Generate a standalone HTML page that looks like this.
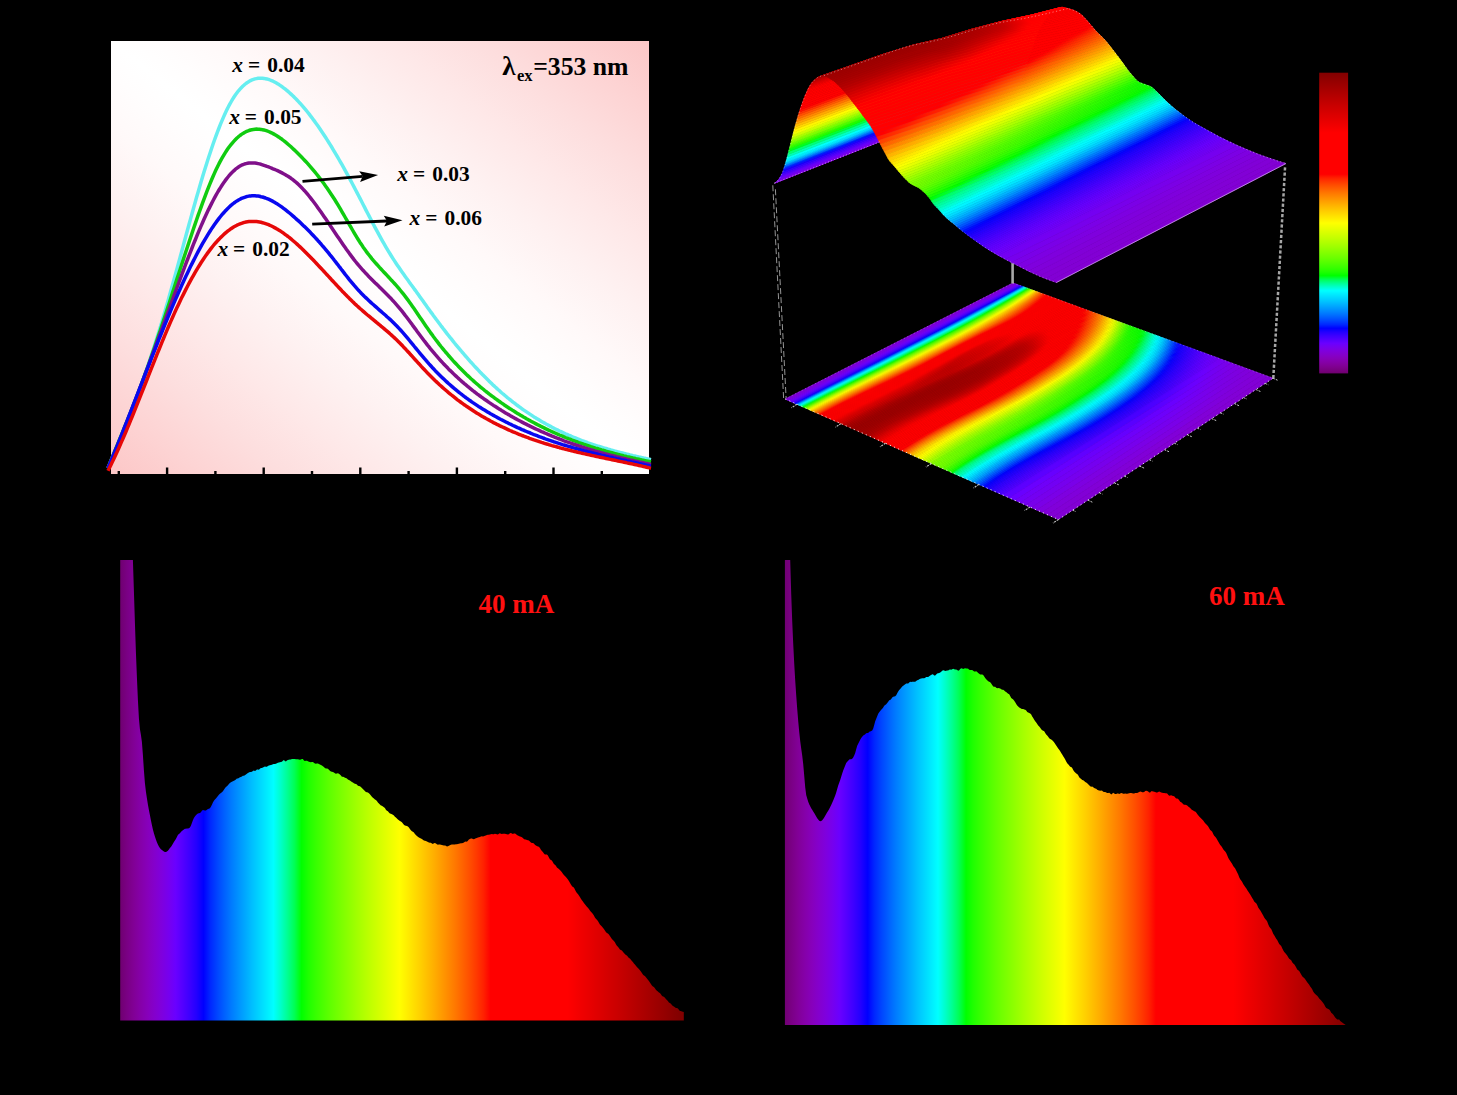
<!DOCTYPE html><html><head><meta charset="utf-8"><title>figure</title>
<style>html,body{margin:0;padding:0;background:#000;}svg{display:block;}text{font-family:"Liberation Serif",serif;}</style></head><body>
<svg width="1457" height="1095" viewBox="0 0 1457 1095">
<rect x="0" y="0" width="1457" height="1095" fill="#000"/>
<defs>
<linearGradient id="ga" gradientUnits="userSpaceOnUse" x1="168.5" y1="520.3" x2="591.5" y2="-5.3">
<stop offset="0" stop-color="#fcc7c7"/>
<stop offset="0.08" stop-color="#fdd3d3"/>
<stop offset="0.16" stop-color="#fddede"/>
<stop offset="0.24" stop-color="#fee8e8"/>
<stop offset="0.32" stop-color="#fef1f1"/>
<stop offset="0.4" stop-color="#fff9f9"/>
<stop offset="0.46" stop-color="#fffdfd"/>
<stop offset="0.5" stop-color="#ffffff"/>
<stop offset="0.54" stop-color="#fffdfd"/>
<stop offset="0.6" stop-color="#fff9f9"/>
<stop offset="0.68" stop-color="#fef1f1"/>
<stop offset="0.76" stop-color="#fee8e8"/>
<stop offset="0.84" stop-color="#fddede"/>
<stop offset="0.92" stop-color="#fdd3d3"/>
<stop offset="1.0" stop-color="#fcc7c7"/>
</linearGradient>
</defs>
<rect x="111" y="41" width="538" height="433" fill="url(#ga)"/>
<polyline points="108.0,468.1 109.5,464.3 111.0,460.6 112.5,456.9 114.0,453.2 115.5,449.6 117.0,445.9 118.5,442.3 120.0,438.6 121.5,435.0 123.0,431.3 124.5,427.6 126.0,424.0 127.5,420.3 129.0,416.5 130.5,412.8 132.0,409.0 133.5,405.2 135.0,401.3 136.5,397.4 138.0,393.4 139.5,389.4 141.0,385.3 142.5,381.1 144.0,376.9 145.5,372.6 147.0,368.3 148.5,363.9 150.0,359.4 151.5,354.9 153.0,350.3 154.5,345.6 156.0,340.9 157.5,336.1 159.0,331.3 160.5,326.4 162.0,321.4 163.5,316.4 165.0,311.3 166.5,306.1 168.0,300.9 169.5,295.6 171.0,290.3 172.5,285.0 174.0,279.5 175.5,274.1 177.0,268.6 178.5,263.1 180.0,257.6 181.5,252.1 183.0,246.6 184.5,241.0 186.0,235.5 187.5,230.0 189.0,224.5 190.5,219.1 192.0,213.6 193.5,208.2 195.0,202.9 196.5,197.6 198.0,192.4 199.5,187.2 201.0,182.1 202.5,177.0 204.0,172.1 205.5,167.2 207.0,162.4 208.5,157.8 210.0,153.2 211.5,148.7 213.0,144.3 214.5,140.0 216.0,135.9 217.5,131.9 219.0,128.0 220.5,124.2 222.0,120.6 223.5,117.1 225.0,113.7 226.5,110.6 228.0,107.5 229.5,104.7 231.0,102.0 232.5,99.4 234.0,97.0 235.5,94.8 237.0,92.8 238.5,90.8 240.0,89.1 241.5,87.5 243.0,86.0 244.5,84.7 246.0,83.5 247.5,82.4 249.0,81.5 250.5,80.6 252.0,79.9 253.5,79.4 255.0,78.9 256.5,78.6 258.0,78.3 259.5,78.2 261.0,78.2 262.5,78.2 264.0,78.4 265.5,78.7 267.0,79.0 268.5,79.4 270.0,80.0 271.5,80.6 273.0,81.2 274.5,82.0 276.0,82.8 277.5,83.7 279.0,84.6 280.5,85.6 282.0,86.7 283.5,87.8 285.0,88.9 286.5,90.1 288.0,91.4 289.5,92.7 291.0,94.1 292.5,95.5 294.0,96.9 295.5,98.4 297.0,100.0 298.5,101.6 300.0,103.2 301.5,104.9 303.0,106.6 304.5,108.4 306.0,110.2 307.5,112.0 309.0,113.9 310.5,115.9 312.0,117.8 313.5,119.9 315.0,121.9 316.5,124.0 318.0,126.1 319.5,128.3 321.0,130.5 322.5,132.7 324.0,135.0 325.5,137.3 327.0,139.6 328.5,142.0 330.0,144.4 331.5,146.8 333.0,149.3 334.5,151.8 336.0,154.3 337.5,156.9 339.0,159.5 340.5,162.1 342.0,164.7 343.5,167.4 345.0,170.1 346.5,172.8 348.0,175.6 349.5,178.4 351.0,181.2 352.5,184.0 354.0,186.8 355.5,189.7 357.0,192.6 358.5,195.5 360.0,198.4 361.5,201.3 363.0,204.2 364.5,207.1 366.0,210.1 367.5,213.0 369.0,215.9 370.5,218.8 372.0,221.6 373.5,224.5 375.0,227.3 376.5,230.1 378.0,232.9 379.5,235.7 381.0,238.4 382.5,241.1 384.0,243.7 385.5,246.3 387.0,248.9 388.5,251.4 390.0,253.8 391.5,256.2 393.0,258.6 394.5,260.9 396.0,263.2 397.5,265.4 399.0,267.6 400.5,269.8 402.0,271.9 403.5,274.1 405.0,276.2 406.5,278.3 408.0,280.3 409.5,282.4 411.0,284.5 412.5,286.5 414.0,288.6 415.5,290.6 417.0,292.7 418.5,294.8 420.0,296.9 421.5,299.0 423.0,301.1 424.5,303.2 426.0,305.3 427.5,307.4 429.0,309.5 430.5,311.6 432.0,313.6 433.5,315.7 435.0,317.7 436.5,319.8 438.0,321.8 439.5,323.8 441.0,325.8 442.5,327.7 444.0,329.7 445.5,331.6 447.0,333.6 448.5,335.5 450.0,337.4 451.5,339.2 453.0,341.1 454.5,343.0 456.0,344.8 457.5,346.6 459.0,348.4 460.5,350.2 462.0,352.0 463.5,353.7 465.0,355.5 466.5,357.2 468.0,358.9 469.5,360.6 471.0,362.3 472.5,363.9 474.0,365.6 475.5,367.2 477.0,368.8 478.5,370.4 480.0,372.0 481.5,373.5 483.0,375.1 484.5,376.6 486.0,378.1 487.5,379.6 489.0,381.1 490.5,382.5 492.0,383.9 493.5,385.4 495.0,386.8 496.5,388.1 498.0,389.5 499.5,390.8 501.0,392.2 502.5,393.5 504.0,394.7 505.5,396.0 507.0,397.3 508.5,398.5 510.0,399.7 511.5,400.9 513.0,402.1 514.5,403.2 516.0,404.4 517.5,405.5 519.0,406.6 520.5,407.7 522.0,408.8 523.5,409.9 525.0,410.9 526.5,411.9 528.0,412.9 529.5,413.9 531.0,414.9 532.5,415.9 534.0,416.9 535.5,417.8 537.0,418.7 538.5,419.6 540.0,420.5 541.5,421.4 543.0,422.3 544.5,423.1 546.0,424.0 547.5,424.8 549.0,425.6 550.5,426.4 552.0,427.2 553.5,428.0 555.0,428.8 556.5,429.5 558.0,430.2 559.5,431.0 561.0,431.7 562.5,432.4 564.0,433.1 565.5,433.8 567.0,434.4 568.5,435.1 570.0,435.7 571.5,436.4 573.0,437.0 574.5,437.6 576.0,438.2 577.5,438.8 579.0,439.4 580.5,440.0 582.0,440.6 583.5,441.1 585.0,441.7 586.5,442.2 588.0,442.8 589.5,443.3 591.0,443.8 592.5,444.3 594.0,444.8 595.5,445.3 597.0,445.8 598.5,446.3 600.0,446.7 601.5,447.2 603.0,447.7 604.5,448.1 606.0,448.5 607.5,449.0 609.0,449.4 610.5,449.8 612.0,450.3 613.5,450.7 615.0,451.1 616.5,451.5 618.0,451.9 619.5,452.3 621.0,452.6 622.5,453.0 624.0,453.4 625.5,453.8 627.0,454.1 628.5,454.5 630.0,454.9 631.5,455.2 633.0,455.6 634.5,455.9 636.0,456.3 637.5,456.6 639.0,457.0 640.5,457.3 642.0,457.6 643.5,458.0 645.0,458.3 646.5,458.6 648.0,459.0 649.5,459.3 651.0,459.6" fill="none" stroke="#66eef0" stroke-width="3.5" stroke-linejoin="round" stroke-linecap="butt"/>
<polyline points="108.0,468.2 109.5,464.4 111.0,460.6 112.5,456.9 114.0,453.2 115.5,449.5 117.0,445.8 118.5,442.1 120.0,438.4 121.5,434.8 123.0,431.1 124.5,427.4 126.0,423.8 127.5,420.1 129.0,416.3 130.5,412.6 132.0,408.8 133.5,405.0 135.0,401.2 136.5,397.3 138.0,393.4 139.5,389.5 141.0,385.5 142.5,381.4 144.0,377.3 145.5,373.2 147.0,369.0 148.5,364.8 150.0,360.5 151.5,356.2 153.0,351.9 154.5,347.5 156.0,343.1 157.5,338.6 159.0,334.1 160.5,329.7 162.0,325.1 163.5,320.6 165.0,316.0 166.5,311.4 168.0,306.8 169.5,302.2 171.0,297.6 172.5,292.9 174.0,288.3 175.5,283.6 177.0,278.9 178.5,274.3 180.0,269.7 181.5,265.0 183.0,260.4 184.5,255.8 186.0,251.2 187.5,246.7 189.0,242.2 190.5,237.7 192.0,233.2 193.5,228.8 195.0,224.4 196.5,220.0 198.0,215.7 199.5,211.5 201.0,207.3 202.5,203.1 204.0,199.1 205.5,195.1 207.0,191.2 208.5,187.3 210.0,183.6 211.5,180.0 213.0,176.5 214.5,173.1 216.0,169.8 217.5,166.7 219.0,163.7 220.5,160.9 222.0,158.2 223.5,155.6 225.0,153.1 226.5,150.8 228.0,148.6 229.5,146.5 231.0,144.6 232.5,142.8 234.0,141.1 235.5,139.5 237.0,138.0 238.5,136.7 240.0,135.5 241.5,134.4 243.0,133.4 244.5,132.5 246.0,131.7 247.5,131.1 249.0,130.5 250.5,130.0 252.0,129.7 253.5,129.4 255.0,129.2 256.5,129.1 258.0,129.2 259.5,129.2 261.0,129.4 262.5,129.7 264.0,130.0 265.5,130.4 267.0,130.9 268.5,131.5 270.0,132.1 271.5,132.8 273.0,133.6 274.5,134.4 276.0,135.3 277.5,136.2 279.0,137.2 280.5,138.3 282.0,139.3 283.5,140.5 285.0,141.7 286.5,142.9 288.0,144.2 289.5,145.5 291.0,146.8 292.5,148.2 294.0,149.6 295.5,151.0 297.0,152.5 298.5,154.0 300.0,155.5 301.5,157.0 303.0,158.6 304.5,160.2 306.0,161.8 307.5,163.4 309.0,165.1 310.5,166.8 312.0,168.6 313.5,170.4 315.0,172.2 316.5,174.0 318.0,175.9 319.5,177.8 321.0,179.8 322.5,181.8 324.0,183.8 325.5,185.9 327.0,188.0 328.5,190.2 330.0,192.4 331.5,194.7 333.0,197.0 334.5,199.3 336.0,201.7 337.5,204.2 339.0,206.7 340.5,209.2 342.0,211.8 343.5,214.4 345.0,217.0 346.5,219.6 348.0,222.2 349.5,224.8 351.0,227.4 352.5,230.0 354.0,232.6 355.5,235.1 357.0,237.6 358.5,240.0 360.0,242.4 361.5,244.6 363.0,246.9 364.5,249.0 366.0,251.1 367.5,253.1 369.0,255.0 370.5,256.9 372.0,258.8 373.5,260.6 375.0,262.3 376.5,264.0 378.0,265.7 379.5,267.4 381.0,269.0 382.5,270.6 384.0,272.2 385.5,273.8 387.0,275.4 388.5,277.0 390.0,278.6 391.5,280.3 393.0,281.9 394.5,283.5 396.0,285.2 397.5,286.9 399.0,288.7 400.5,290.5 402.0,292.3 403.5,294.2 405.0,296.1 406.5,298.1 408.0,300.1 409.5,302.2 411.0,304.3 412.5,306.5 414.0,308.6 415.5,310.8 417.0,313.0 418.5,315.2 420.0,317.4 421.5,319.6 423.0,321.8 424.5,324.0 426.0,326.2 427.5,328.3 429.0,330.5 430.5,332.6 432.0,334.6 433.5,336.7 435.0,338.7 436.5,340.7 438.0,342.6 439.5,344.6 441.0,346.5 442.5,348.3 444.0,350.2 445.5,352.0 447.0,353.7 448.5,355.5 450.0,357.2 451.5,358.9 453.0,360.6 454.5,362.2 456.0,363.8 457.5,365.4 459.0,367.0 460.5,368.5 462.0,370.0 463.5,371.5 465.0,373.0 466.5,374.5 468.0,375.9 469.5,377.3 471.0,378.7 472.5,380.0 474.0,381.4 475.5,382.7 477.0,384.0 478.5,385.3 480.0,386.6 481.5,387.8 483.0,389.0 484.5,390.3 486.0,391.5 487.5,392.6 489.0,393.8 490.5,395.0 492.0,396.1 493.5,397.2 495.0,398.3 496.5,399.4 498.0,400.5 499.5,401.5 501.0,402.6 502.5,403.6 504.0,404.7 505.5,405.7 507.0,406.7 508.5,407.7 510.0,408.7 511.5,409.6 513.0,410.6 514.5,411.5 516.0,412.5 517.5,413.4 519.0,414.3 520.5,415.2 522.0,416.1 523.5,417.0 525.0,417.8 526.5,418.7 528.0,419.5 529.5,420.4 531.0,421.2 532.5,422.0 534.0,422.8 535.5,423.6 537.0,424.4 538.5,425.2 540.0,425.9 541.5,426.7 543.0,427.4 544.5,428.1 546.0,428.9 547.5,429.6 549.0,430.3 550.5,431.0 552.0,431.7 553.5,432.3 555.0,433.0 556.5,433.7 558.0,434.3 559.5,435.0 561.0,435.6 562.5,436.2 564.0,436.8 565.5,437.5 567.0,438.1 568.5,438.7 570.0,439.2 571.5,439.8 573.0,440.4 574.5,440.9 576.0,441.5 577.5,442.0 579.0,442.6 580.5,443.1 582.0,443.6 583.5,444.2 585.0,444.7 586.5,445.2 588.0,445.7 589.5,446.2 591.0,446.7 592.5,447.1 594.0,447.6 595.5,448.1 597.0,448.5 598.5,449.0 600.0,449.4 601.5,449.9 603.0,450.3 604.5,450.7 606.0,451.2 607.5,451.6 609.0,452.0 610.5,452.4 612.0,452.8 613.5,453.2 615.0,453.6 616.5,454.0 618.0,454.4 619.5,454.8 621.0,455.1 622.5,455.5 624.0,455.9 625.5,456.2 627.0,456.6 628.5,456.9 630.0,457.3 631.5,457.6 633.0,458.0 634.5,458.3 636.0,458.7 637.5,459.0 639.0,459.3 640.5,459.6 642.0,460.0 643.5,460.3 645.0,460.6 646.5,460.9 648.0,461.2 649.5,461.5 651.0,461.8" fill="none" stroke="#10cc10" stroke-width="3.5" stroke-linejoin="round" stroke-linecap="butt"/>
<polyline points="108.0,467.8 109.5,464.4 111.0,460.9 112.5,457.4 114.0,453.8 115.5,450.2 117.0,446.6 118.5,443.0 120.0,439.3 121.5,435.6 123.0,431.9 124.5,428.1 126.0,424.4 127.5,420.6 129.0,416.7 130.5,412.9 132.0,409.0 133.5,405.1 135.0,401.2 136.5,397.3 138.0,393.3 139.5,389.4 141.0,385.4 142.5,381.4 144.0,377.4 145.5,373.3 147.0,369.3 148.5,365.3 150.0,361.2 151.5,357.1 153.0,353.1 154.5,349.0 156.0,344.9 157.5,340.8 159.0,336.7 160.5,332.6 162.0,328.5 163.5,324.4 165.0,320.3 166.5,316.2 168.0,312.1 169.5,308.0 171.0,303.9 172.5,299.8 174.0,295.7 175.5,291.6 177.0,287.5 178.5,283.5 180.0,279.4 181.5,275.4 183.0,271.4 184.5,267.4 186.0,263.4 187.5,259.5 189.0,255.6 190.5,251.8 192.0,248.0 193.5,244.2 195.0,240.5 196.5,236.8 198.0,233.2 199.5,229.6 201.0,226.1 202.5,222.7 204.0,219.3 205.5,216.0 207.0,212.8 208.5,209.6 210.0,206.6 211.5,203.6 213.0,200.7 214.5,197.9 216.0,195.1 217.5,192.5 219.0,190.0 220.5,187.6 222.0,185.2 223.5,183.0 225.0,180.9 226.5,178.9 228.0,177.0 229.5,175.2 231.0,173.5 232.5,172.0 234.0,170.6 235.5,169.2 237.0,168.1 238.5,167.0 240.0,166.1 241.5,165.2 243.0,164.6 244.5,164.0 246.0,163.6 247.5,163.3 249.0,163.0 250.5,162.9 252.0,162.9 253.5,163.0 255.0,163.1 256.5,163.3 258.0,163.6 259.5,163.9 261.0,164.3 262.5,164.8 264.0,165.3 265.5,165.8 267.0,166.4 268.5,166.9 270.0,167.5 271.5,168.1 273.0,168.8 274.5,169.4 276.0,170.0 277.5,170.7 279.0,171.4 280.5,172.1 282.0,172.9 283.5,173.7 285.0,174.5 286.5,175.4 288.0,176.3 289.5,177.3 291.0,178.3 292.5,179.4 294.0,180.6 295.5,181.8 297.0,183.1 298.5,184.5 300.0,186.0 301.5,187.5 303.0,189.1 304.5,190.7 306.0,192.4 307.5,194.2 309.0,196.0 310.5,197.9 312.0,199.8 313.5,201.8 315.0,203.8 316.5,205.8 318.0,207.9 319.5,210.0 321.0,212.1 322.5,214.2 324.0,216.4 325.5,218.6 327.0,220.8 328.5,223.0 330.0,225.2 331.5,227.5 333.0,229.7 334.5,231.9 336.0,234.2 337.5,236.4 339.0,238.6 340.5,240.8 342.0,243.0 343.5,245.2 345.0,247.3 346.5,249.5 348.0,251.5 349.5,253.6 351.0,255.6 352.5,257.6 354.0,259.6 355.5,261.5 357.0,263.3 358.5,265.2 360.0,266.9 361.5,268.6 363.0,270.3 364.5,271.9 366.0,273.6 367.5,275.1 369.0,276.7 370.5,278.2 372.0,279.7 373.5,281.2 375.0,282.7 376.5,284.1 378.0,285.6 379.5,287.1 381.0,288.5 382.5,290.0 384.0,291.5 385.5,293.0 387.0,294.5 388.5,296.0 390.0,297.6 391.5,299.1 393.0,300.8 394.5,302.4 396.0,304.1 397.5,305.8 399.0,307.6 400.5,309.4 402.0,311.2 403.5,313.1 405.0,315.1 406.5,317.0 408.0,319.0 409.5,321.0 411.0,323.0 412.5,325.1 414.0,327.1 415.5,329.1 417.0,331.2 418.5,333.2 420.0,335.2 421.5,337.2 423.0,339.2 424.5,341.2 426.0,343.1 427.5,345.1 429.0,346.9 430.5,348.8 432.0,350.6 433.5,352.4 435.0,354.2 436.5,355.9 438.0,357.6 439.5,359.3 441.0,361.0 442.5,362.6 444.0,364.2 445.5,365.8 447.0,367.3 448.5,368.9 450.0,370.4 451.5,371.8 453.0,373.3 454.5,374.7 456.0,376.1 457.5,377.5 459.0,378.9 460.5,380.2 462.0,381.6 463.5,382.9 465.0,384.2 466.5,385.4 468.0,386.7 469.5,387.9 471.0,389.1 472.5,390.3 474.0,391.5 475.5,392.6 477.0,393.8 478.5,394.9 480.0,396.0 481.5,397.1 483.0,398.2 484.5,399.3 486.0,400.3 487.5,401.3 489.0,402.4 490.5,403.4 492.0,404.4 493.5,405.4 495.0,406.3 496.5,407.3 498.0,408.3 499.5,409.2 501.0,410.1 502.5,411.1 504.0,412.0 505.5,412.9 507.0,413.8 508.5,414.6 510.0,415.5 511.5,416.4 513.0,417.2 514.5,418.1 516.0,418.9 517.5,419.7 519.0,420.5 520.5,421.3 522.0,422.1 523.5,422.9 525.0,423.7 526.5,424.4 528.0,425.2 529.5,425.9 531.0,426.7 532.5,427.4 534.0,428.1 535.5,428.8 537.0,429.5 538.5,430.2 540.0,430.9 541.5,431.6 543.0,432.2 544.5,432.9 546.0,433.5 547.5,434.2 549.0,434.8 550.5,435.4 552.0,436.1 553.5,436.7 555.0,437.3 556.5,437.9 558.0,438.5 559.5,439.0 561.0,439.6 562.5,440.2 564.0,440.8 565.5,441.3 567.0,441.9 568.5,442.4 570.0,442.9 571.5,443.5 573.0,444.0 574.5,444.5 576.0,445.0 577.5,445.5 579.0,446.0 580.5,446.5 582.0,447.0 583.5,447.4 585.0,447.9 586.5,448.4 588.0,448.8 589.5,449.3 591.0,449.8 592.5,450.2 594.0,450.6 595.5,451.1 597.0,451.5 598.5,451.9 600.0,452.3 601.5,452.8 603.0,453.2 604.5,453.6 606.0,454.0 607.5,454.4 609.0,454.8 610.5,455.2 612.0,455.5 613.5,455.9 615.0,456.3 616.5,456.7 618.0,457.0 619.5,457.4 621.0,457.8 622.5,458.1 624.0,458.5 625.5,458.8 627.0,459.2 628.5,459.5 630.0,459.9 631.5,460.2 633.0,460.5 634.5,460.9 636.0,461.2 637.5,461.5 639.0,461.9 640.5,462.2 642.0,462.5 643.5,462.8 645.0,463.2 646.5,463.5 648.0,463.8 649.5,464.1 651.0,464.4" fill="none" stroke="#80108a" stroke-width="3.5" stroke-linejoin="round" stroke-linecap="butt"/>
<polyline points="108.0,468.2 109.5,464.6 111.0,461.0 112.5,457.4 114.0,453.7 115.5,450.0 117.0,446.3 118.5,442.6 120.0,438.8 121.5,435.1 123.0,431.3 124.5,427.5 126.0,423.7 127.5,419.8 129.0,416.0 130.5,412.2 132.0,408.3 133.5,404.5 135.0,400.6 136.5,396.7 138.0,392.9 139.5,389.0 141.0,385.1 142.5,381.3 144.0,377.4 145.5,373.5 147.0,369.7 148.5,365.8 150.0,362.0 151.5,358.2 153.0,354.4 154.5,350.6 156.0,346.8 157.5,343.0 159.0,339.2 160.5,335.5 162.0,331.8 163.5,328.1 165.0,324.4 166.5,320.8 168.0,317.1 169.5,313.5 171.0,309.9 172.5,306.4 174.0,302.9 175.5,299.4 177.0,296.0 178.5,292.5 180.0,289.2 181.5,285.8 183.0,282.5 184.5,279.3 186.0,276.0 187.5,272.9 189.0,269.7 190.5,266.6 192.0,263.6 193.5,260.6 195.0,257.7 196.5,254.8 198.0,251.9 199.5,249.1 201.0,246.4 202.5,243.7 204.0,241.1 205.5,238.6 207.0,236.1 208.5,233.6 210.0,231.2 211.5,228.9 213.0,226.7 214.5,224.5 216.0,222.4 217.5,220.4 219.0,218.4 220.5,216.5 222.0,214.7 223.5,213.0 225.0,211.3 226.5,209.7 228.0,208.2 229.5,206.8 231.0,205.4 232.5,204.2 234.0,203.0 235.5,201.9 237.0,200.9 238.5,200.0 240.0,199.2 241.5,198.4 243.0,197.8 244.5,197.3 246.0,196.8 247.5,196.4 249.0,196.1 250.5,195.9 252.0,195.8 253.5,195.8 255.0,195.8 256.5,195.9 258.0,196.1 259.5,196.3 261.0,196.7 262.5,197.0 264.0,197.5 265.5,198.0 267.0,198.6 268.5,199.2 270.0,199.9 271.5,200.6 273.0,201.4 274.5,202.3 276.0,203.2 277.5,204.1 279.0,205.1 280.5,206.1 282.0,207.2 283.5,208.3 285.0,209.4 286.5,210.6 288.0,211.8 289.5,213.0 291.0,214.3 292.5,215.6 294.0,216.9 295.5,218.2 297.0,219.6 298.5,220.9 300.0,222.3 301.5,223.7 303.0,225.2 304.5,226.6 306.0,228.1 307.5,229.6 309.0,231.1 310.5,232.6 312.0,234.2 313.5,235.8 315.0,237.4 316.5,239.0 318.0,240.7 319.5,242.3 321.0,244.0 322.5,245.8 324.0,247.5 325.5,249.3 327.0,251.1 328.5,252.9 330.0,254.8 331.5,256.6 333.0,258.5 334.5,260.5 336.0,262.4 337.5,264.3 339.0,266.3 340.5,268.2 342.0,270.2 343.5,272.1 345.0,274.1 346.5,276.0 348.0,277.9 349.5,279.8 351.0,281.6 352.5,283.4 354.0,285.2 355.5,286.9 357.0,288.6 358.5,290.3 360.0,291.9 361.5,293.5 363.0,295.0 364.5,296.5 366.0,297.9 367.5,299.3 369.0,300.7 370.5,302.1 372.0,303.5 373.5,304.8 375.0,306.1 376.5,307.4 378.0,308.7 379.5,310.1 381.0,311.4 382.5,312.7 384.0,314.0 385.5,315.3 387.0,316.7 388.5,318.0 390.0,319.4 391.5,320.8 393.0,322.3 394.5,323.8 396.0,325.3 397.5,326.8 399.0,328.4 400.5,330.0 402.0,331.7 403.5,333.4 405.0,335.1 406.5,336.9 408.0,338.7 409.5,340.5 411.0,342.3 412.5,344.1 414.0,346.0 415.5,347.8 417.0,349.7 418.5,351.5 420.0,353.3 421.5,355.1 423.0,356.9 424.5,358.7 426.0,360.4 427.5,362.2 429.0,363.9 430.5,365.5 432.0,367.2 433.5,368.8 435.0,370.4 436.5,371.9 438.0,373.4 439.5,374.9 441.0,376.4 442.5,377.9 444.0,379.3 445.5,380.7 447.0,382.1 448.5,383.5 450.0,384.8 451.5,386.1 453.0,387.4 454.5,388.7 456.0,389.9 457.5,391.1 459.0,392.3 460.5,393.5 462.0,394.7 463.5,395.8 465.0,397.0 466.5,398.1 468.0,399.2 469.5,400.3 471.0,401.3 472.5,402.4 474.0,403.4 475.5,404.4 477.0,405.4 478.5,406.4 480.0,407.3 481.5,408.3 483.0,409.2 484.5,410.1 486.0,411.0 487.5,411.9 489.0,412.8 490.5,413.7 492.0,414.5 493.5,415.4 495.0,416.2 496.5,417.0 498.0,417.9 499.5,418.7 501.0,419.5 502.5,420.2 504.0,421.0 505.5,421.8 507.0,422.5 508.5,423.3 510.0,424.0 511.5,424.7 513.0,425.5 514.5,426.2 516.0,426.9 517.5,427.6 519.0,428.2 520.5,428.9 522.0,429.6 523.5,430.2 525.0,430.9 526.5,431.5 528.0,432.1 529.5,432.7 531.0,433.4 532.5,434.0 534.0,434.6 535.5,435.1 537.0,435.7 538.5,436.3 540.0,436.9 541.5,437.4 543.0,438.0 544.5,438.5 546.0,439.1 547.5,439.6 549.0,440.1 550.5,440.6 552.0,441.1 553.5,441.7 555.0,442.1 556.5,442.6 558.0,443.1 559.5,443.6 561.0,444.1 562.5,444.6 564.0,445.0 565.5,445.5 567.0,445.9 568.5,446.4 570.0,446.8 571.5,447.2 573.0,447.7 574.5,448.1 576.0,448.5 577.5,448.9 579.0,449.4 580.5,449.8 582.0,450.2 583.5,450.6 585.0,451.0 586.5,451.4 588.0,451.8 589.5,452.1 591.0,452.5 592.5,452.9 594.0,453.3 595.5,453.6 597.0,454.0 598.5,454.4 600.0,454.7 601.5,455.1 603.0,455.4 604.5,455.8 606.0,456.2 607.5,456.5 609.0,456.9 610.5,457.2 612.0,457.5 613.5,457.9 615.0,458.2 616.5,458.6 618.0,458.9 619.5,459.2 621.0,459.6 622.5,459.9 624.0,460.2 625.5,460.5 627.0,460.9 628.5,461.2 630.0,461.5 631.5,461.9 633.0,462.2 634.5,462.5 636.0,462.8 637.5,463.1 639.0,463.5 640.5,463.8 642.0,464.1 643.5,464.4 645.0,464.8 646.5,465.1 648.0,465.4 649.5,465.8 651.0,466.1" fill="none" stroke="#0808f0" stroke-width="3.5" stroke-linejoin="round" stroke-linecap="butt"/>
<polyline points="108.0,470.7 109.5,467.7 111.0,464.7 112.5,461.6 114.0,458.5 115.5,455.3 117.0,452.0 118.5,448.7 120.0,445.3 121.5,441.9 123.0,438.5 124.5,435.0 126.0,431.5 127.5,427.9 129.0,424.3 130.5,420.7 132.0,417.0 133.5,413.3 135.0,409.6 136.5,405.9 138.0,402.2 139.5,398.4 141.0,394.7 142.5,390.9 144.0,387.1 145.5,383.3 147.0,379.5 148.5,375.7 150.0,371.9 151.5,368.2 153.0,364.4 154.5,360.6 156.0,356.9 157.5,353.2 159.0,349.5 160.5,345.8 162.0,342.1 163.5,338.5 165.0,334.9 166.5,331.3 168.0,327.8 169.5,324.3 171.0,320.9 172.5,317.5 174.0,314.1 175.5,310.8 177.0,307.6 178.5,304.4 180.0,301.2 181.5,298.1 183.0,295.1 184.5,292.1 186.0,289.1 187.5,286.2 189.0,283.4 190.5,280.6 192.0,277.9 193.5,275.3 195.0,272.6 196.5,270.1 198.0,267.6 199.5,265.2 201.0,262.8 202.5,260.5 204.0,258.2 205.5,256.1 207.0,253.9 208.5,251.9 210.0,249.9 211.5,247.9 213.0,246.0 214.5,244.2 216.0,242.5 217.5,240.8 219.0,239.2 220.5,237.6 222.0,236.2 223.5,234.8 225.0,233.4 226.5,232.1 228.0,230.9 229.5,229.8 231.0,228.7 232.5,227.7 234.0,226.8 235.5,226.0 237.0,225.2 238.5,224.5 240.0,223.8 241.5,223.3 243.0,222.8 244.5,222.4 246.0,222.0 247.5,221.8 249.0,221.6 250.5,221.4 252.0,221.4 253.5,221.4 255.0,221.4 256.5,221.6 258.0,221.8 259.5,222.0 261.0,222.3 262.5,222.7 264.0,223.1 265.5,223.6 267.0,224.1 268.5,224.7 270.0,225.4 271.5,226.0 273.0,226.8 274.5,227.6 276.0,228.4 277.5,229.3 279.0,230.2 280.5,231.1 282.0,232.1 283.5,233.2 285.0,234.3 286.5,235.4 288.0,236.5 289.5,237.7 291.0,238.9 292.5,240.2 294.0,241.5 295.5,242.8 297.0,244.1 298.5,245.5 300.0,246.9 301.5,248.3 303.0,249.7 304.5,251.2 306.0,252.7 307.5,254.2 309.0,255.7 310.5,257.2 312.0,258.8 313.5,260.3 315.0,261.9 316.5,263.5 318.0,265.1 319.5,266.7 321.0,268.3 322.5,269.9 324.0,271.5 325.5,273.1 327.0,274.8 328.5,276.4 330.0,278.0 331.5,279.7 333.0,281.3 334.5,282.9 336.0,284.5 337.5,286.1 339.0,287.7 340.5,289.3 342.0,290.9 343.5,292.4 345.0,294.0 346.5,295.5 348.0,297.1 349.5,298.6 351.0,300.0 352.5,301.5 354.0,302.9 355.5,304.4 357.0,305.8 358.5,307.1 360.0,308.5 361.5,309.8 363.0,311.1 364.5,312.4 366.0,313.7 367.5,315.0 369.0,316.2 370.5,317.4 372.0,318.7 373.5,319.9 375.0,321.1 376.5,322.4 378.0,323.6 379.5,324.8 381.0,326.1 382.5,327.3 384.0,328.6 385.5,329.9 387.0,331.1 388.5,332.4 390.0,333.8 391.5,335.1 393.0,336.5 394.5,337.9 396.0,339.3 397.5,340.7 399.0,342.2 400.5,343.7 402.0,345.3 403.5,346.9 405.0,348.4 406.5,350.1 408.0,351.7 409.5,353.3 411.0,355.0 412.5,356.6 414.0,358.3 415.5,360.0 417.0,361.6 418.5,363.3 420.0,364.9 421.5,366.6 423.0,368.2 424.5,369.8 426.0,371.4 427.5,373.0 429.0,374.5 430.5,376.0 432.0,377.5 433.5,379.0 435.0,380.5 436.5,381.9 438.0,383.3 439.5,384.7 441.0,386.0 442.5,387.4 444.0,388.7 445.5,390.0 447.0,391.3 448.5,392.6 450.0,393.8 451.5,395.0 453.0,396.2 454.5,397.4 456.0,398.6 457.5,399.8 459.0,400.9 460.5,402.0 462.0,403.1 463.5,404.2 465.0,405.2 466.5,406.3 468.0,407.3 469.5,408.3 471.0,409.3 472.5,410.3 474.0,411.3 475.5,412.2 477.0,413.2 478.5,414.1 480.0,415.0 481.5,415.9 483.0,416.8 484.5,417.6 486.0,418.5 487.5,419.3 489.0,420.1 490.5,421.0 492.0,421.8 493.5,422.6 495.0,423.3 496.5,424.1 498.0,424.8 499.5,425.6 501.0,426.3 502.5,427.0 504.0,427.7 505.5,428.4 507.0,429.1 508.5,429.8 510.0,430.5 511.5,431.1 513.0,431.8 514.5,432.4 516.0,433.0 517.5,433.7 519.0,434.3 520.5,434.9 522.0,435.5 523.5,436.0 525.0,436.6 526.5,437.2 528.0,437.7 529.5,438.3 531.0,438.8 532.5,439.3 534.0,439.9 535.5,440.4 537.0,440.9 538.5,441.4 540.0,441.9 541.5,442.4 543.0,442.8 544.5,443.3 546.0,443.8 547.5,444.2 549.0,444.7 550.5,445.1 552.0,445.6 553.5,446.0 555.0,446.4 556.5,446.8 558.0,447.2 559.5,447.7 561.0,448.1 562.5,448.5 564.0,448.9 565.5,449.2 567.0,449.6 568.5,450.0 570.0,450.4 571.5,450.8 573.0,451.1 574.5,451.5 576.0,451.8 577.5,452.2 579.0,452.5 580.5,452.9 582.0,453.2 583.5,453.6 585.0,453.9 586.5,454.3 588.0,454.6 589.5,454.9 591.0,455.3 592.5,455.6 594.0,455.9 595.5,456.2 597.0,456.6 598.5,456.9 600.0,457.2 601.5,457.5 603.0,457.8 604.5,458.1 606.0,458.5 607.5,458.8 609.0,459.1 610.5,459.4 612.0,459.7 613.5,460.0 615.0,460.3 616.5,460.6 618.0,461.0 619.5,461.3 621.0,461.6 622.5,461.9 624.0,462.2 625.5,462.5 627.0,462.9 628.5,463.2 630.0,463.5 631.5,463.8 633.0,464.1 634.5,464.5 636.0,464.8 637.5,465.1 639.0,465.5 640.5,465.8 642.0,466.1 643.5,466.5 645.0,466.8 646.5,467.2 648.0,467.5 649.5,467.9 651.0,468.2" fill="none" stroke="#e60808" stroke-width="3.5" stroke-linejoin="round" stroke-linecap="butt"/>
<rect x="117.6" y="471.0" width="2.4" height="3" fill="#000"/>
<rect x="165.9" y="467.5" width="2.4" height="6.5" fill="#000"/>
<rect x="214.2" y="471.0" width="2.4" height="3" fill="#000"/>
<rect x="262.5" y="467.5" width="2.4" height="6.5" fill="#000"/>
<rect x="310.8" y="471.0" width="2.4" height="3" fill="#000"/>
<rect x="359.1" y="467.5" width="2.4" height="6.5" fill="#000"/>
<rect x="407.4" y="471.0" width="2.4" height="3" fill="#000"/>
<rect x="455.7" y="467.5" width="2.4" height="6.5" fill="#000"/>
<rect x="504.0" y="471.0" width="2.4" height="3" fill="#000"/>
<rect x="552.3" y="467.5" width="2.4" height="6.5" fill="#000"/>
<rect x="600.6" y="471.0" width="2.4" height="3" fill="#000"/>
<text x="232.3" y="71.8" font-size="21.4" font-weight="bold" fill="#000"><tspan font-style="italic">x</tspan><tspan x="247.9">=</tspan><tspan x="267.2">0.04</tspan></text>
<text x="229.2" y="124.4" font-size="21.4" font-weight="bold" fill="#000"><tspan font-style="italic">x</tspan><tspan x="244.79999999999998">=</tspan><tspan x="264.09999999999997">0.05</tspan></text>
<text x="397.3" y="181.3" font-size="21.4" font-weight="bold" fill="#000"><tspan font-style="italic">x</tspan><tspan x="412.90000000000003">=</tspan><tspan x="432.2">0.03</tspan></text>
<text x="409.6" y="225.3" font-size="21.4" font-weight="bold" fill="#000"><tspan font-style="italic">x</tspan><tspan x="425.20000000000005">=</tspan><tspan x="444.5">0.06</tspan></text>
<text x="217.4" y="256.3" font-size="21.4" font-weight="bold" fill="#000"><tspan font-style="italic">x</tspan><tspan x="233.0">=</tspan><tspan x="252.3">0.02</tspan></text>
<text y="74.7" font-weight="bold" fill="#000"><tspan x="502.2" font-size="27">λ</tspan><tspan x="516.9" y="81.4" font-size="16.6">ex</tspan><tspan x="533.2" y="74.7" font-size="25.7">=353 nm</tspan></text>
<line x1="302.5" y1="181.3" x2="362.7" y2="176.3" stroke="#000" stroke-width="2.8"/>
<polygon points="378.1,175.0 360.1,181.9 362.7,176.3 359.2,171.2" fill="#000"/>
<line x1="312.2" y1="224.1" x2="387.0" y2="221.0" stroke="#000" stroke-width="2.8"/>
<polygon points="402.5,220.3 384.2,226.5 387.0,221.0 383.8,215.7" fill="#000"/>
<defs>
<linearGradient id="gc" gradientUnits="userSpaceOnUse" x1="119.5" y1="0" x2="679.5" y2="0">
<stop offset="0.0000" stop-color="#6e006e"/>
<stop offset="0.0125" stop-color="#790082"/>
<stop offset="0.0250" stop-color="#810095"/>
<stop offset="0.0375" stop-color="#8500a8"/>
<stop offset="0.0500" stop-color="#8700ba"/>
<stop offset="0.0625" stop-color="#8400cc"/>
<stop offset="0.0750" stop-color="#7f00dd"/>
<stop offset="0.0875" stop-color="#7600ee"/>
<stop offset="0.1000" stop-color="#6a00ff"/>
<stop offset="0.1125" stop-color="#5400ff"/>
<stop offset="0.1250" stop-color="#3d00ff"/>
<stop offset="0.1375" stop-color="#2300ff"/>
<stop offset="0.1500" stop-color="#0000ff"/>
<stop offset="0.1625" stop-color="#0028ff"/>
<stop offset="0.1750" stop-color="#0046ff"/>
<stop offset="0.1875" stop-color="#0061ff"/>
<stop offset="0.2000" stop-color="#007bff"/>
<stop offset="0.2125" stop-color="#0092ff"/>
<stop offset="0.2250" stop-color="#00a9ff"/>
<stop offset="0.2375" stop-color="#00c0ff"/>
<stop offset="0.2500" stop-color="#00d5ff"/>
<stop offset="0.2625" stop-color="#00eaff"/>
<stop offset="0.2750" stop-color="#00ffff"/>
<stop offset="0.2875" stop-color="#00ffcb"/>
<stop offset="0.3000" stop-color="#00ff92"/>
<stop offset="0.3125" stop-color="#00ff54"/>
<stop offset="0.3250" stop-color="#00ff00"/>
<stop offset="0.3375" stop-color="#1fff00"/>
<stop offset="0.3500" stop-color="#36ff00"/>
<stop offset="0.3625" stop-color="#4aff00"/>
<stop offset="0.3750" stop-color="#5eff00"/>
<stop offset="0.3875" stop-color="#70ff00"/>
<stop offset="0.4000" stop-color="#81ff00"/>
<stop offset="0.4125" stop-color="#92ff00"/>
<stop offset="0.4250" stop-color="#a3ff00"/>
<stop offset="0.4375" stop-color="#b3ff00"/>
<stop offset="0.4500" stop-color="#c3ff00"/>
<stop offset="0.4625" stop-color="#d2ff00"/>
<stop offset="0.4750" stop-color="#e1ff00"/>
<stop offset="0.4875" stop-color="#f0ff00"/>
<stop offset="0.5000" stop-color="#ffff00"/>
<stop offset="0.5125" stop-color="#ffef00"/>
<stop offset="0.5250" stop-color="#ffdf00"/>
<stop offset="0.5375" stop-color="#ffcf00"/>
<stop offset="0.5500" stop-color="#ffbe00"/>
<stop offset="0.5625" stop-color="#ffad00"/>
<stop offset="0.5750" stop-color="#ff9b00"/>
<stop offset="0.5875" stop-color="#ff8900"/>
<stop offset="0.6000" stop-color="#ff7700"/>
<stop offset="0.6125" stop-color="#ff6300"/>
<stop offset="0.6250" stop-color="#ff4f00"/>
<stop offset="0.6375" stop-color="#ff3900"/>
<stop offset="0.6500" stop-color="#ff2100"/>
<stop offset="0.6625" stop-color="#ff0000"/>
<stop offset="0.6750" stop-color="#ff0000"/>
<stop offset="0.6875" stop-color="#ff0000"/>
<stop offset="0.7000" stop-color="#ff0000"/>
<stop offset="0.7125" stop-color="#ff0000"/>
<stop offset="0.7250" stop-color="#ff0000"/>
<stop offset="0.7375" stop-color="#ff0000"/>
<stop offset="0.7500" stop-color="#ff0000"/>
<stop offset="0.7625" stop-color="#ff0000"/>
<stop offset="0.7750" stop-color="#ff0000"/>
<stop offset="0.7875" stop-color="#ff0000"/>
<stop offset="0.8000" stop-color="#ff0000"/>
<stop offset="0.8125" stop-color="#f80000"/>
<stop offset="0.8250" stop-color="#f00000"/>
<stop offset="0.8375" stop-color="#e90000"/>
<stop offset="0.8500" stop-color="#e10000"/>
<stop offset="0.8625" stop-color="#da0000"/>
<stop offset="0.8750" stop-color="#d20000"/>
<stop offset="0.8875" stop-color="#cb0000"/>
<stop offset="0.9000" stop-color="#c30000"/>
<stop offset="0.9125" stop-color="#bb0000"/>
<stop offset="0.9250" stop-color="#b30000"/>
<stop offset="0.9375" stop-color="#ab0000"/>
<stop offset="0.9500" stop-color="#a30000"/>
<stop offset="0.9625" stop-color="#9b0000"/>
<stop offset="0.9750" stop-color="#930000"/>
<stop offset="0.9875" stop-color="#8a0000"/>
<stop offset="1.0000" stop-color="#820000"/>
</linearGradient>
<linearGradient id="gd" gradientUnits="userSpaceOnUse" x1="783.3" y1="0" x2="1345.6999999999998" y2="0">
<stop offset="0.0000" stop-color="#6e006e"/>
<stop offset="0.0125" stop-color="#790082"/>
<stop offset="0.0250" stop-color="#810095"/>
<stop offset="0.0375" stop-color="#8500a8"/>
<stop offset="0.0500" stop-color="#8700ba"/>
<stop offset="0.0625" stop-color="#8400cc"/>
<stop offset="0.0750" stop-color="#7f00dd"/>
<stop offset="0.0875" stop-color="#7600ee"/>
<stop offset="0.1000" stop-color="#6a00ff"/>
<stop offset="0.1125" stop-color="#5400ff"/>
<stop offset="0.1250" stop-color="#3d00ff"/>
<stop offset="0.1375" stop-color="#2300ff"/>
<stop offset="0.1500" stop-color="#0000ff"/>
<stop offset="0.1625" stop-color="#0028ff"/>
<stop offset="0.1750" stop-color="#0046ff"/>
<stop offset="0.1875" stop-color="#0061ff"/>
<stop offset="0.2000" stop-color="#007bff"/>
<stop offset="0.2125" stop-color="#0092ff"/>
<stop offset="0.2250" stop-color="#00a9ff"/>
<stop offset="0.2375" stop-color="#00c0ff"/>
<stop offset="0.2500" stop-color="#00d5ff"/>
<stop offset="0.2625" stop-color="#00eaff"/>
<stop offset="0.2750" stop-color="#00ffff"/>
<stop offset="0.2875" stop-color="#00ffcb"/>
<stop offset="0.3000" stop-color="#00ff92"/>
<stop offset="0.3125" stop-color="#00ff54"/>
<stop offset="0.3250" stop-color="#00ff00"/>
<stop offset="0.3375" stop-color="#1fff00"/>
<stop offset="0.3500" stop-color="#36ff00"/>
<stop offset="0.3625" stop-color="#4aff00"/>
<stop offset="0.3750" stop-color="#5eff00"/>
<stop offset="0.3875" stop-color="#70ff00"/>
<stop offset="0.4000" stop-color="#81ff00"/>
<stop offset="0.4125" stop-color="#92ff00"/>
<stop offset="0.4250" stop-color="#a3ff00"/>
<stop offset="0.4375" stop-color="#b3ff00"/>
<stop offset="0.4500" stop-color="#c3ff00"/>
<stop offset="0.4625" stop-color="#d2ff00"/>
<stop offset="0.4750" stop-color="#e1ff00"/>
<stop offset="0.4875" stop-color="#f0ff00"/>
<stop offset="0.5000" stop-color="#ffff00"/>
<stop offset="0.5125" stop-color="#ffef00"/>
<stop offset="0.5250" stop-color="#ffdf00"/>
<stop offset="0.5375" stop-color="#ffcf00"/>
<stop offset="0.5500" stop-color="#ffbe00"/>
<stop offset="0.5625" stop-color="#ffad00"/>
<stop offset="0.5750" stop-color="#ff9b00"/>
<stop offset="0.5875" stop-color="#ff8900"/>
<stop offset="0.6000" stop-color="#ff7700"/>
<stop offset="0.6125" stop-color="#ff6300"/>
<stop offset="0.6250" stop-color="#ff4f00"/>
<stop offset="0.6375" stop-color="#ff3900"/>
<stop offset="0.6500" stop-color="#ff2100"/>
<stop offset="0.6625" stop-color="#ff0000"/>
<stop offset="0.6750" stop-color="#ff0000"/>
<stop offset="0.6875" stop-color="#ff0000"/>
<stop offset="0.7000" stop-color="#ff0000"/>
<stop offset="0.7125" stop-color="#ff0000"/>
<stop offset="0.7250" stop-color="#ff0000"/>
<stop offset="0.7375" stop-color="#ff0000"/>
<stop offset="0.7500" stop-color="#ff0000"/>
<stop offset="0.7625" stop-color="#ff0000"/>
<stop offset="0.7750" stop-color="#ff0000"/>
<stop offset="0.7875" stop-color="#ff0000"/>
<stop offset="0.8000" stop-color="#ff0000"/>
<stop offset="0.8125" stop-color="#f80000"/>
<stop offset="0.8250" stop-color="#f00000"/>
<stop offset="0.8375" stop-color="#e90000"/>
<stop offset="0.8500" stop-color="#e10000"/>
<stop offset="0.8625" stop-color="#da0000"/>
<stop offset="0.8750" stop-color="#d20000"/>
<stop offset="0.8875" stop-color="#cb0000"/>
<stop offset="0.9000" stop-color="#c30000"/>
<stop offset="0.9125" stop-color="#bb0000"/>
<stop offset="0.9250" stop-color="#b30000"/>
<stop offset="0.9375" stop-color="#ab0000"/>
<stop offset="0.9500" stop-color="#a30000"/>
<stop offset="0.9625" stop-color="#9b0000"/>
<stop offset="0.9750" stop-color="#930000"/>
<stop offset="0.9875" stop-color="#8a0000"/>
<stop offset="1.0000" stop-color="#820000"/>
</linearGradient>
</defs>
<polygon points="120.2,1020.6 120.2,560.0 132.9,560.0 133.9,590.9 134.9,622.3 135.9,652.1 136.9,676.9 137.9,699.9 138.9,718.3 139.9,729.0 140.9,734.7 141.9,741.9 142.9,754.9 143.9,770.3 144.9,783.1 145.9,791.4 146.9,798.3 147.9,804.4 148.9,809.9 149.9,815.1 150.9,820.2 151.9,825.0 152.9,829.4 153.9,833.3 154.9,836.6 155.9,839.5 156.9,842.2 157.9,844.6 158.9,846.6 159.9,848.1 160.9,849.2 161.9,850.1 162.9,850.8 163.9,851.4 164.9,851.9 165.9,852.0 166.9,851.6 167.9,850.7 168.9,849.4 169.9,848.1 170.9,846.9 171.9,845.4 172.9,843.8 173.9,842.1 174.9,840.4 175.9,839.0 176.9,837.0 177.9,835.0 178.9,834.0 179.9,833.2 180.9,831.9 181.9,831.0 182.9,830.3 183.9,829.4 184.9,828.8 185.9,828.7 186.9,828.6 187.9,828.5 188.9,828.2 189.9,827.4 190.9,825.8 191.9,823.1 192.9,820.2 193.9,818.1 194.9,816.6 195.9,815.2 196.9,814.3 197.9,813.6 198.9,813.2 199.9,813.1 200.9,812.2 201.9,810.7 202.9,809.9 203.9,810.2 204.9,810.5 205.9,810.5 206.9,809.8 207.9,808.9 208.9,808.8 209.9,808.3 210.9,806.8 211.9,804.8 212.9,802.6 213.9,800.8 214.9,799.6 215.9,798.4 216.9,797.2 217.9,795.9 218.9,794.7 219.9,793.8 220.9,793.0 221.9,792.3 222.9,791.3 223.9,789.7 224.9,788.2 225.9,787.1 226.9,786.3 227.9,785.2 228.9,784.0 229.9,783.0 230.9,782.3 231.9,781.7 232.9,781.2 233.9,780.8 234.9,780.3 235.9,779.5 236.9,778.6 237.9,778.4 238.9,778.1 239.9,777.3 240.9,776.9 241.9,776.4 242.9,775.7 243.9,775.7 244.9,775.3 245.9,774.5 246.9,773.8 247.9,773.1 248.9,772.4 249.9,772.1 250.9,772.1 251.9,771.8 252.9,771.0 253.9,770.6 254.9,770.9 255.9,770.5 256.9,769.4 257.9,769.6 258.9,769.7 259.9,768.8 260.9,768.0 261.9,768.0 262.9,767.6 263.9,766.9 264.9,766.6 265.9,766.8 266.9,766.7 267.9,766.1 268.9,765.6 269.9,765.2 270.9,765.1 271.9,764.8 272.9,764.3 273.9,764.1 274.9,764.1 275.9,763.8 276.9,763.3 277.9,762.8 278.9,762.5 279.9,762.3 280.9,762.1 281.9,761.7 282.9,760.8 283.9,760.1 284.9,760.9 285.9,761.4 286.9,760.6 287.9,760.0 288.9,759.7 289.9,759.6 290.9,759.4 291.9,759.0 292.9,758.9 293.9,758.9 294.9,759.1 295.9,759.2 296.9,759.3 297.9,759.3 298.9,759.5 299.9,759.7 300.9,759.6 301.9,758.9 302.9,759.1 303.9,760.4 304.9,761.1 305.9,760.7 306.9,760.7 307.9,761.3 308.9,761.8 309.9,762.0 310.9,762.2 311.9,762.1 312.9,762.1 313.9,762.7 314.9,763.4 315.9,763.7 316.9,763.5 317.9,763.5 318.9,764.1 319.9,764.5 320.9,764.9 321.9,765.5 322.9,766.2 323.9,767.1 324.9,768.0 325.9,768.6 326.9,768.5 327.9,768.7 328.9,769.7 329.9,770.7 330.9,771.4 331.9,771.8 332.9,772.1 333.9,772.5 334.9,773.2 335.9,773.8 336.9,773.5 337.9,773.2 338.9,773.8 339.9,774.6 340.9,775.6 341.9,776.8 342.9,776.8 343.9,777.0 344.9,777.8 345.9,778.0 346.9,778.4 347.9,779.4 348.9,780.0 349.9,780.4 350.9,781.2 351.9,781.9 352.9,782.6 353.9,783.2 354.9,783.8 355.9,783.9 356.9,784.5 357.9,785.7 358.9,786.0 359.9,786.3 360.9,787.0 361.9,787.9 362.9,788.9 363.9,789.9 364.9,791.0 365.9,792.0 366.9,792.3 367.9,792.5 368.9,793.3 369.9,794.3 370.9,795.4 371.9,796.8 372.9,797.7 373.9,798.6 374.9,799.4 375.9,799.9 376.9,801.1 377.9,802.6 378.9,803.6 379.9,804.5 380.9,805.5 381.9,805.8 382.9,806.6 383.9,807.2 384.9,808.0 385.9,809.8 386.9,810.7 387.9,811.2 388.9,812.6 389.9,813.4 390.9,813.7 391.9,814.3 392.9,814.8 393.9,815.6 394.9,816.7 395.9,817.6 396.9,818.5 397.9,819.6 398.9,820.3 399.9,820.9 400.9,821.5 401.9,822.2 402.9,823.5 403.9,824.7 404.9,825.4 405.9,825.8 406.9,826.0 407.9,826.4 408.9,827.6 409.9,829.1 410.9,830.3 411.9,831.2 412.9,831.8 413.9,832.6 414.9,834.0 415.9,835.1 416.9,835.9 417.9,836.7 418.9,837.5 419.9,838.0 420.9,838.4 421.9,839.1 422.9,839.8 423.9,840.4 424.9,840.8 425.9,841.0 426.9,841.4 427.9,842.0 428.9,842.6 429.9,842.8 430.9,842.8 431.9,843.6 432.9,844.0 433.9,843.3 434.9,843.1 435.9,843.5 436.9,844.2 437.9,844.8 438.9,844.6 439.9,844.5 440.9,844.7 441.9,845.0 442.9,845.3 443.9,845.6 444.9,845.6 445.9,845.8 446.9,846.4 447.9,846.2 448.9,845.7 449.9,845.2 450.9,844.8 451.9,844.6 452.9,844.6 453.9,844.5 454.9,844.4 455.9,844.2 456.9,844.3 457.9,844.1 458.9,843.7 459.9,843.5 460.9,843.3 461.9,843.2 462.9,843.0 463.9,842.4 464.9,841.7 465.9,841.6 466.9,841.7 467.9,840.7 468.9,839.5 469.9,838.9 470.9,838.4 471.9,838.4 472.9,839.0 473.9,839.2 474.9,838.7 475.9,838.2 476.9,837.9 477.9,837.6 478.9,837.2 479.9,837.0 480.9,836.6 481.9,836.2 482.9,836.4 483.9,836.3 484.9,835.8 485.9,835.5 486.9,835.0 487.9,834.7 488.9,834.8 489.9,834.6 490.9,834.3 491.9,834.1 492.9,834.3 493.9,834.3 494.9,833.8 495.9,834.0 496.9,834.2 497.9,834.4 498.9,833.8 499.9,833.2 500.9,833.7 501.9,834.1 502.9,833.8 503.9,833.7 504.9,833.8 505.9,834.0 506.9,834.3 507.9,834.5 508.9,834.3 509.9,833.3 510.9,832.9 511.9,833.6 512.9,834.0 513.9,833.6 514.9,833.5 515.9,834.1 516.9,835.1 517.9,835.5 518.9,835.9 519.9,836.4 520.9,836.8 521.9,837.2 522.9,838.0 523.9,839.0 524.9,839.4 525.9,839.5 526.9,839.9 527.9,840.3 528.9,840.6 529.9,841.5 530.9,842.5 531.9,843.0 532.9,843.0 533.9,843.6 534.9,844.8 535.9,845.6 536.9,846.0 537.9,846.4 538.9,846.8 539.9,848.1 540.9,849.8 541.9,851.0 542.9,852.1 543.9,853.6 544.9,854.6 545.9,854.5 546.9,854.5 547.9,855.6 548.9,857.5 549.9,859.3 550.9,860.1 551.9,860.5 552.9,862.2 553.9,864.0 554.9,864.7 555.9,865.8 556.9,867.5 557.9,868.2 558.9,868.9 559.9,870.1 560.9,871.1 561.9,872.2 562.9,873.8 563.9,875.1 564.9,875.9 565.9,877.0 566.9,878.3 567.9,879.5 568.9,881.0 569.9,882.7 570.9,884.4 571.9,886.0 572.9,886.9 573.9,887.6 574.9,889.4 575.9,891.5 576.9,892.9 577.9,894.1 578.9,895.5 579.9,897.1 580.9,898.7 581.9,900.2 582.9,901.5 583.9,903.0 584.9,904.3 585.9,905.4 586.9,906.8 587.9,907.7 588.9,909.0 589.9,910.6 590.9,911.7 591.9,912.8 592.9,914.1 593.9,915.6 594.9,917.4 595.9,918.7 596.9,919.7 597.9,921.0 598.9,922.7 599.9,924.4 600.9,925.5 601.9,926.4 602.9,927.8 603.9,929.0 604.9,930.5 605.9,932.1 606.9,932.9 607.9,933.5 608.9,934.4 609.9,935.9 610.9,937.6 611.9,939.0 612.9,940.1 613.9,941.0 614.9,942.3 615.9,944.2 616.9,945.7 617.9,946.8 618.9,948.1 619.9,949.4 620.9,950.1 621.9,950.5 622.9,951.7 623.9,953.0 624.9,954.0 625.9,954.9 626.9,955.5 627.9,956.8 628.9,958.0 629.9,958.5 630.9,959.7 631.9,961.1 632.9,962.1 633.9,963.4 634.9,964.6 635.9,965.7 636.9,966.9 637.9,968.1 638.9,969.1 639.9,970.2 640.9,971.4 641.9,973.0 642.9,974.5 643.9,975.4 644.9,976.1 645.9,977.2 646.9,978.6 647.9,979.7 648.9,980.9 649.9,982.5 650.9,983.9 651.9,985.4 652.9,986.4 653.9,987.0 654.9,988.2 655.9,989.8 656.9,990.7 657.9,991.6 658.9,992.4 659.9,993.0 660.9,994.2 661.9,995.7 662.9,996.5 663.9,996.8 664.9,997.7 665.9,999.0 666.9,999.9 667.9,1001.1 668.9,1002.4 669.9,1003.0 670.9,1003.7 671.9,1005.1 672.9,1006.0 673.9,1006.4 674.9,1007.2 675.9,1008.0 676.9,1008.0 677.9,1008.5 678.9,1009.8 679.9,1011.1 680.9,1011.0 681.9,1011.4 682.9,1011.7 683.8,1012.0 683.8,1020.6" fill="url(#gc)"/>
<polygon points="784.9,1024.9 784.9,560.0 790.2,560.0 791.2,593.4 792.2,620.9 793.2,643.5 794.2,663.2 795.2,680.2 796.2,695.2 797.2,708.8 798.2,721.0 799.2,731.8 800.2,741.1 801.2,748.6 802.2,755.6 803.2,763.9 804.2,775.4 805.2,787.2 806.2,794.9 807.2,798.6 808.2,801.7 809.2,804.2 810.2,806.3 811.2,808.2 812.2,809.8 813.2,811.4 814.2,813.0 815.2,814.8 816.2,816.6 817.2,818.2 818.2,819.6 819.2,820.7 820.2,821.2 821.2,821.0 822.2,820.3 823.2,819.1 824.2,817.5 825.2,815.8 826.2,814.0 827.2,812.3 828.2,810.7 829.2,808.9 830.2,807.0 831.2,804.9 832.2,802.8 833.2,800.5 834.2,798.0 835.2,795.6 836.2,792.5 837.2,789.1 838.2,785.6 839.2,782.8 840.2,780.1 841.2,776.8 842.2,773.4 843.2,770.5 844.2,768.0 845.2,765.4 846.2,763.1 847.2,761.8 848.2,760.7 849.2,759.5 850.2,759.3 851.2,759.2 852.2,758.8 853.2,757.6 854.2,755.6 855.2,752.9 856.2,749.2 857.2,745.7 858.2,743.8 859.2,741.8 860.2,739.7 861.2,738.1 862.2,736.7 863.2,735.5 864.2,734.9 865.2,734.3 866.2,733.2 867.2,733.1 868.2,732.9 869.2,731.8 870.2,731.4 871.2,731.1 872.2,730.5 873.2,728.6 874.2,724.9 875.2,721.3 876.2,718.8 877.2,716.2 878.2,713.8 879.2,712.2 880.2,711.0 881.2,709.7 882.2,708.7 883.2,707.4 884.2,705.8 885.2,705.1 886.2,704.2 887.2,703.1 888.2,701.7 889.2,700.3 890.2,699.9 891.2,699.0 892.2,697.6 893.2,696.8 894.2,696.5 895.2,696.3 896.2,695.3 897.2,693.3 898.2,691.4 899.2,690.1 900.2,689.0 901.2,687.8 902.2,686.6 903.2,685.8 904.2,685.0 905.2,684.2 906.2,683.4 907.2,683.5 908.2,683.6 909.2,682.4 910.2,681.7 911.2,681.9 912.2,681.7 913.2,681.7 914.2,681.8 915.2,681.7 916.2,680.9 917.2,680.3 918.2,679.9 919.2,679.2 920.2,678.8 921.2,678.6 922.2,678.3 923.2,678.3 924.2,678.3 925.2,677.7 926.2,677.1 927.2,677.1 928.2,677.1 929.2,676.2 930.2,675.4 931.2,675.0 932.2,674.2 933.2,674.5 934.2,675.6 935.2,675.6 936.2,674.5 937.2,673.6 938.2,673.2 939.2,673.0 940.2,672.4 941.2,671.7 942.2,670.8 943.2,670.2 944.2,670.6 945.2,671.0 946.2,670.8 947.2,670.6 948.2,670.6 949.2,669.8 950.2,669.4 951.2,669.7 952.2,669.3 953.2,668.8 954.2,669.2 955.2,669.5 956.2,669.4 957.2,670.0 958.2,670.8 959.2,670.3 960.2,669.1 961.2,668.3 962.2,668.6 963.2,668.9 964.2,668.4 965.2,668.3 966.2,668.5 967.2,668.5 968.2,668.8 969.2,669.7 970.2,670.1 971.2,669.9 972.2,670.0 973.2,670.7 974.2,671.4 975.2,671.4 976.2,671.2 977.2,671.9 978.2,672.9 979.2,673.8 980.2,674.4 981.2,674.6 982.2,674.5 983.2,675.0 984.2,676.4 985.2,678.1 986.2,679.2 987.2,680.2 988.2,681.3 989.2,681.7 990.2,682.3 991.2,683.5 992.2,685.0 993.2,686.4 994.2,686.8 995.2,686.8 996.2,687.7 997.2,688.2 998.2,688.1 999.2,688.2 1000.2,688.5 1001.2,689.3 1002.2,689.7 1003.2,689.8 1004.2,690.5 1005.2,691.4 1006.2,692.0 1007.2,692.9 1008.2,693.7 1009.2,694.3 1010.2,695.9 1011.2,697.9 1012.2,698.7 1013.2,699.5 1014.2,700.8 1015.2,702.2 1016.2,704.0 1017.2,705.5 1018.2,706.6 1019.2,707.4 1020.2,708.0 1021.2,708.7 1022.2,708.9 1023.2,709.0 1024.2,709.4 1025.2,709.7 1026.2,710.5 1027.2,711.9 1028.2,712.4 1029.2,713.0 1030.2,713.6 1031.2,714.6 1032.2,716.5 1033.2,718.1 1034.2,719.7 1035.2,721.2 1036.2,722.5 1037.2,724.1 1038.2,725.6 1039.2,726.6 1040.2,727.8 1041.2,729.2 1042.2,730.3 1043.2,730.8 1044.2,731.3 1045.2,732.9 1046.2,734.4 1047.2,735.4 1048.2,736.8 1049.2,738.2 1050.2,738.9 1051.2,739.6 1052.2,740.3 1053.2,741.3 1054.2,742.6 1055.2,744.1 1056.2,745.6 1057.2,747.1 1058.2,748.6 1059.2,749.8 1060.2,751.2 1061.2,753.0 1062.2,754.6 1063.2,756.2 1064.2,757.7 1065.2,759.5 1066.2,761.6 1067.2,763.3 1068.2,764.2 1069.2,765.4 1070.2,766.7 1071.2,767.1 1072.2,768.0 1073.2,770.0 1074.2,771.6 1075.2,772.6 1076.2,773.4 1077.2,773.9 1078.2,775.2 1079.2,777.2 1080.2,778.2 1081.2,778.9 1082.2,780.0 1083.2,780.3 1084.2,780.9 1085.2,781.9 1086.2,782.5 1087.2,783.3 1088.2,784.3 1089.2,785.2 1090.2,786.3 1091.2,786.7 1092.2,786.6 1093.2,787.2 1094.2,788.0 1095.2,788.4 1096.2,788.8 1097.2,789.7 1098.2,790.3 1099.2,790.5 1100.2,790.7 1101.2,790.5 1102.2,790.8 1103.2,791.7 1104.2,791.9 1105.2,792.0 1106.2,792.5 1107.2,792.9 1108.2,793.0 1109.2,792.8 1110.2,793.6 1111.2,794.6 1112.2,793.7 1113.2,792.8 1114.2,793.4 1115.2,794.0 1116.2,794.1 1117.2,793.6 1118.2,793.5 1119.2,794.0 1120.2,793.6 1121.2,793.0 1122.2,793.3 1123.2,793.7 1124.2,793.7 1125.2,793.6 1126.2,793.7 1127.2,793.7 1128.2,793.6 1129.2,793.3 1130.2,793.0 1131.2,793.1 1132.2,793.3 1133.2,793.4 1134.2,793.4 1135.2,793.0 1136.2,793.0 1137.2,793.1 1138.2,792.5 1139.2,791.9 1140.2,791.5 1141.2,791.8 1142.2,792.2 1143.2,792.2 1144.2,791.9 1145.2,791.1 1146.2,790.8 1147.2,791.1 1148.2,791.6 1149.2,792.6 1150.2,792.4 1151.2,791.3 1152.2,791.2 1153.2,791.5 1154.2,791.8 1155.2,792.0 1156.2,792.5 1157.2,792.6 1158.2,791.9 1159.2,791.6 1160.2,792.0 1161.2,792.4 1162.2,792.7 1163.2,792.9 1164.2,793.1 1165.2,793.3 1166.2,793.2 1167.2,793.6 1168.2,794.7 1169.2,795.7 1170.2,795.5 1171.2,795.3 1172.2,795.8 1173.2,796.0 1174.2,796.2 1175.2,797.4 1176.2,798.5 1177.2,798.5 1178.2,798.9 1179.2,800.3 1180.2,801.7 1181.2,802.3 1182.2,803.1 1183.2,804.2 1184.2,804.7 1185.2,804.7 1186.2,805.0 1187.2,805.6 1188.2,806.6 1189.2,807.3 1190.2,808.1 1191.2,809.3 1192.2,809.9 1193.2,810.5 1194.2,811.2 1195.2,811.5 1196.2,812.4 1197.2,813.9 1198.2,815.3 1199.2,816.5 1200.2,817.6 1201.2,818.5 1202.2,819.4 1203.2,820.6 1204.2,822.0 1205.2,823.2 1206.2,824.3 1207.2,825.3 1208.2,826.4 1209.2,828.3 1210.2,830.0 1211.2,830.8 1212.2,831.8 1213.2,833.9 1214.2,835.7 1215.2,836.7 1216.2,838.1 1217.2,839.8 1218.2,841.4 1219.2,843.2 1220.2,844.9 1221.2,846.1 1222.2,847.5 1223.2,849.2 1224.2,850.5 1225.2,851.5 1226.2,853.0 1227.2,855.2 1228.2,857.7 1229.2,859.4 1230.2,861.0 1231.2,862.6 1232.2,864.1 1233.2,866.0 1234.2,867.3 1235.2,868.6 1236.2,870.6 1237.2,872.5 1238.2,874.6 1239.2,877.2 1240.2,879.3 1241.2,880.4 1242.2,881.9 1243.2,883.9 1244.2,885.6 1245.2,887.0 1246.2,888.2 1247.2,889.9 1248.2,891.6 1249.2,893.0 1250.2,894.4 1251.2,896.2 1252.2,898.0 1253.2,899.6 1254.2,901.4 1255.2,902.4 1256.2,903.2 1257.2,905.0 1258.2,907.4 1259.2,909.1 1260.2,910.3 1261.2,912.1 1262.2,913.8 1263.2,915.5 1264.2,917.6 1265.2,919.1 1266.2,919.9 1267.2,921.5 1268.2,924.2 1269.2,926.4 1270.2,928.0 1271.2,929.1 1272.2,931.3 1273.2,933.7 1274.2,935.2 1275.2,936.9 1276.2,938.7 1277.2,940.1 1278.2,942.0 1279.2,943.9 1280.2,944.9 1281.2,946.1 1282.2,948.2 1283.2,950.3 1284.2,951.9 1285.2,953.0 1286.2,954.2 1287.2,955.5 1288.2,957.2 1289.2,958.7 1290.2,959.4 1291.2,960.3 1292.2,962.2 1293.2,963.4 1294.2,964.3 1295.2,965.7 1296.2,967.5 1297.2,969.5 1298.2,970.2 1299.2,970.9 1300.2,972.7 1301.2,974.5 1302.2,976.3 1303.2,977.2 1304.2,977.9 1305.2,979.3 1306.2,980.8 1307.2,982.2 1308.2,983.4 1309.2,984.7 1310.2,986.5 1311.2,987.8 1312.2,989.3 1313.2,991.5 1314.2,993.0 1315.2,994.0 1316.2,995.0 1317.2,995.7 1318.2,997.0 1319.2,998.5 1320.2,999.5 1321.2,1000.5 1322.2,1001.8 1323.2,1003.1 1324.2,1004.5 1325.2,1006.4 1326.2,1007.9 1327.2,1008.4 1328.2,1008.9 1329.2,1009.4 1330.2,1010.7 1331.2,1012.7 1332.2,1013.6 1333.2,1014.5 1334.2,1016.1 1335.2,1017.4 1336.2,1018.5 1337.2,1019.5 1338.2,1019.5 1339.2,1019.6 1340.2,1021.1 1341.2,1021.8 1342.2,1022.6 1343.2,1023.2 1344.2,1023.9 1345.2,1024.4 1345.3,1024.5 1345.3,1024.9" fill="url(#gd)"/>
<text x="478.6" y="612.9" font-size="27" font-weight="bold" fill="#ff1010">40 mA</text>
<text x="1209.0" y="604.7" font-size="27" font-weight="bold" fill="#ff1010">60 mA</text>
<g stroke-width="0.7" stroke-linejoin="round">
<defs>
<linearGradient id="m1" gradientUnits="userSpaceOnUse" x1="787.9" y1="400.2" x2="1015.5" y2="284.0"><stop offset="0.000" stop-color="#7d00e2"/><stop offset="1.000" stop-color="#7d00e3"/></linearGradient>
<linearGradient id="m2" gradientUnits="userSpaceOnUse" x1="789.0" y1="400.7" x2="1016.5" y2="284.3"><stop offset="0.000" stop-color="#7900ea"/><stop offset="1.000" stop-color="#7800eb"/></linearGradient>
<linearGradient id="m3" gradientUnits="userSpaceOnUse" x1="790.1" y1="401.2" x2="1017.6" y2="284.7"><stop offset="0.000" stop-color="#7300f3"/><stop offset="0.781" stop-color="#7400f2"/><stop offset="1.000" stop-color="#7100f6"/></linearGradient>
<linearGradient id="m4" gradientUnits="userSpaceOnUse" x1="791.2" y1="401.7" x2="1018.6" y2="285.1"><stop offset="0.000" stop-color="#6b00fe"/><stop offset="0.750" stop-color="#6d00fc"/><stop offset="1.000" stop-color="#6700ff"/></linearGradient>
<linearGradient id="m5" gradientUnits="userSpaceOnUse" x1="792.3" y1="402.1" x2="1019.7" y2="285.5"><stop offset="0.000" stop-color="#5c00ff"/><stop offset="0.719" stop-color="#6100ff"/><stop offset="1.000" stop-color="#5300ff"/></linearGradient>
<linearGradient id="m6" gradientUnits="userSpaceOnUse" x1="793.4" y1="402.6" x2="1020.7" y2="285.9"><stop offset="0.000" stop-color="#4900ff"/><stop offset="0.656" stop-color="#5100ff"/><stop offset="0.875" stop-color="#4700ff"/><stop offset="1.000" stop-color="#3800ff"/></linearGradient>
<linearGradient id="m7" gradientUnits="userSpaceOnUse" x1="794.5" y1="403.1" x2="1021.7" y2="286.2"><stop offset="0.000" stop-color="#3100ff"/><stop offset="0.312" stop-color="#3a00ff"/><stop offset="0.656" stop-color="#3c00ff"/><stop offset="0.844" stop-color="#3100ff"/><stop offset="0.938" stop-color="#2400ff"/><stop offset="1.000" stop-color="#1600ff"/></linearGradient>
<linearGradient id="m8" gradientUnits="userSpaceOnUse" x1="795.6" y1="403.6" x2="1022.8" y2="286.6"><stop offset="0.000" stop-color="#0f00ff"/><stop offset="0.312" stop-color="#1e00ff"/><stop offset="0.625" stop-color="#2300ff"/><stop offset="0.781" stop-color="#1a00ff"/><stop offset="0.906" stop-color="#0300ff"/><stop offset="0.969" stop-color="#0026ff"/><stop offset="1.000" stop-color="#003fff"/></linearGradient>
<linearGradient id="m9" gradientUnits="userSpaceOnUse" x1="796.7" y1="404.1" x2="1023.8" y2="287.0"><stop offset="0.000" stop-color="#0043ff"/><stop offset="0.125" stop-color="#003cff"/><stop offset="0.375" stop-color="#0015ff"/><stop offset="0.562" stop-color="#0009ff"/><stop offset="0.656" stop-color="#0008ff"/><stop offset="0.750" stop-color="#0019ff"/><stop offset="0.844" stop-color="#003aff"/><stop offset="0.938" stop-color="#006cff"/><stop offset="1.000" stop-color="#00a0ff"/></linearGradient>
<linearGradient id="m10" gradientUnits="userSpaceOnUse" x1="797.8" y1="404.5" x2="1024.9" y2="287.4"><stop offset="0.000" stop-color="#0091ff"/><stop offset="0.125" stop-color="#008aff"/><stop offset="0.375" stop-color="#0062ff"/><stop offset="0.656" stop-color="#0056ff"/><stop offset="0.719" stop-color="#005eff"/><stop offset="0.812" stop-color="#007cff"/><stop offset="0.906" stop-color="#00abff"/><stop offset="1.000" stop-color="#00e9ff"/></linearGradient>
<linearGradient id="m11" gradientUnits="userSpaceOnUse" x1="798.9" y1="405.0" x2="1025.9" y2="287.8"><stop offset="0.000" stop-color="#00d1ff"/><stop offset="0.125" stop-color="#00cbff"/><stop offset="0.344" stop-color="#00a8ff"/><stop offset="0.656" stop-color="#009bff"/><stop offset="0.750" stop-color="#00acff"/><stop offset="0.938" stop-color="#00f4ff"/><stop offset="0.969" stop-color="#00fffa"/><stop offset="1.000" stop-color="#00ffd8"/></linearGradient>
<linearGradient id="m12" gradientUnits="userSpaceOnUse" x1="800.0" y1="405.5" x2="1026.9" y2="288.1"><stop offset="0.000" stop-color="#00faff"/><stop offset="0.125" stop-color="#00f7ff"/><stop offset="0.375" stop-color="#00dcff"/><stop offset="0.625" stop-color="#00d3ff"/><stop offset="0.719" stop-color="#00dbff"/><stop offset="0.875" stop-color="#00fffd"/><stop offset="0.938" stop-color="#00ffce"/><stop offset="0.969" stop-color="#00ffb1"/><stop offset="1.000" stop-color="#00ff8d"/></linearGradient>
<linearGradient id="m13" gradientUnits="userSpaceOnUse" x1="801.0" y1="406.0" x2="1028.0" y2="288.5"><stop offset="0.000" stop-color="#00ffc2"/><stop offset="0.125" stop-color="#00ffca"/><stop offset="0.312" stop-color="#00fff5"/><stop offset="0.375" stop-color="#00ffff"/><stop offset="0.562" stop-color="#00f8ff"/><stop offset="0.719" stop-color="#00fdff"/><stop offset="0.750" stop-color="#00fffa"/><stop offset="0.781" stop-color="#00ffed"/><stop offset="0.844" stop-color="#00ffce"/><stop offset="0.906" stop-color="#00ffa6"/><stop offset="0.938" stop-color="#00ff8b"/><stop offset="0.969" stop-color="#00ff67"/><stop offset="1.000" stop-color="#00ff2a"/></linearGradient>
<linearGradient id="m14" gradientUnits="userSpaceOnUse" x1="802.1" y1="406.5" x2="1029.0" y2="288.9"><stop offset="0.000" stop-color="#00ff7f"/><stop offset="0.062" stop-color="#00ff80"/><stop offset="0.125" stop-color="#00ff88"/><stop offset="0.344" stop-color="#00ffbc"/><stop offset="0.406" stop-color="#00ffc4"/><stop offset="0.594" stop-color="#00ffd3"/><stop offset="0.656" stop-color="#00ffd2"/><stop offset="0.719" stop-color="#00ffc8"/><stop offset="0.750" stop-color="#00ffbe"/><stop offset="0.844" stop-color="#00ff93"/><stop offset="0.875" stop-color="#00ff7e"/><stop offset="0.906" stop-color="#00ff61"/><stop offset="0.938" stop-color="#00ff37"/><stop offset="0.969" stop-color="#0cff00"/><stop offset="1.000" stop-color="#2eff00"/></linearGradient>
<linearGradient id="m15" gradientUnits="userSpaceOnUse" x1="803.2" y1="407.0" x2="1030.1" y2="289.3"><stop offset="0.000" stop-color="#00ff22"/><stop offset="0.031" stop-color="#00ff21"/><stop offset="0.094" stop-color="#00ff2b"/><stop offset="0.312" stop-color="#00ff77"/><stop offset="0.375" stop-color="#00ff85"/><stop offset="0.562" stop-color="#00ff9a"/><stop offset="0.656" stop-color="#00ff9b"/><stop offset="0.719" stop-color="#00ff91"/><stop offset="0.781" stop-color="#00ff78"/><stop offset="0.844" stop-color="#00ff4d"/><stop offset="0.875" stop-color="#00ff2a"/><stop offset="0.906" stop-color="#09ff00"/><stop offset="0.969" stop-color="#3eff00"/><stop offset="1.000" stop-color="#60ff00"/></linearGradient>
<linearGradient id="m16" gradientUnits="userSpaceOnUse" x1="804.3" y1="407.4" x2="1031.1" y2="289.7"><stop offset="0.000" stop-color="#2aff00"/><stop offset="0.125" stop-color="#22ff00"/><stop offset="0.250" stop-color="#08ff00"/><stop offset="0.281" stop-color="#00ff0a"/><stop offset="0.312" stop-color="#00ff21"/><stop offset="0.375" stop-color="#00ff3a"/><stop offset="0.594" stop-color="#00ff5f"/><stop offset="0.656" stop-color="#00ff5e"/><stop offset="0.719" stop-color="#00ff50"/><stop offset="0.750" stop-color="#00ff41"/><stop offset="0.781" stop-color="#00ff2a"/><stop offset="0.812" stop-color="#00ff03"/><stop offset="0.875" stop-color="#23ff00"/><stop offset="0.938" stop-color="#4eff00"/><stop offset="1.000" stop-color="#8eff00"/></linearGradient>
<linearGradient id="m17" gradientUnits="userSpaceOnUse" x1="805.4" y1="407.9" x2="1032.1" y2="290.0"><stop offset="0.000" stop-color="#56ff00"/><stop offset="0.094" stop-color="#53ff00"/><stop offset="0.188" stop-color="#43ff00"/><stop offset="0.344" stop-color="#1fff00"/><stop offset="0.406" stop-color="#16ff00"/><stop offset="0.625" stop-color="#01ff00"/><stop offset="0.688" stop-color="#06ff00"/><stop offset="0.781" stop-color="#20ff00"/><stop offset="0.875" stop-color="#4bff00"/><stop offset="0.938" stop-color="#78ff00"/><stop offset="0.969" stop-color="#95ff00"/><stop offset="1.000" stop-color="#b9ff00"/></linearGradient>
<linearGradient id="m18" gradientUnits="userSpaceOnUse" x1="806.5" y1="408.4" x2="1033.2" y2="290.4"><stop offset="0.000" stop-color="#81ff00"/><stop offset="0.062" stop-color="#81ff00"/><stop offset="0.156" stop-color="#74ff00"/><stop offset="0.312" stop-color="#4eff00"/><stop offset="0.438" stop-color="#3aff00"/><stop offset="0.594" stop-color="#2cff00"/><stop offset="0.688" stop-color="#2eff00"/><stop offset="0.781" stop-color="#45ff00"/><stop offset="0.875" stop-color="#71ff00"/><stop offset="0.938" stop-color="#9fff00"/><stop offset="1.000" stop-color="#dfff00"/></linearGradient>
<linearGradient id="m19" gradientUnits="userSpaceOnUse" x1="807.6" y1="408.9" x2="1034.2" y2="290.8"><stop offset="0.000" stop-color="#aaff00"/><stop offset="0.062" stop-color="#aaff00"/><stop offset="0.156" stop-color="#9dff00"/><stop offset="0.344" stop-color="#6eff00"/><stop offset="0.406" stop-color="#64ff00"/><stop offset="0.562" stop-color="#52ff00"/><stop offset="0.688" stop-color="#52ff00"/><stop offset="0.781" stop-color="#69ff00"/><stop offset="0.875" stop-color="#95ff00"/><stop offset="0.938" stop-color="#c2ff00"/><stop offset="1.000" stop-color="#ffff00"/></linearGradient>
<linearGradient id="m20" gradientUnits="userSpaceOnUse" x1="808.7" y1="409.4" x2="1035.3" y2="291.2"><stop offset="0.000" stop-color="#d0ff00"/><stop offset="0.125" stop-color="#c8ff00"/><stop offset="0.406" stop-color="#88ff00"/><stop offset="0.562" stop-color="#75ff00"/><stop offset="0.656" stop-color="#72ff00"/><stop offset="0.719" stop-color="#79ff00"/><stop offset="0.812" stop-color="#97ff00"/><stop offset="0.875" stop-color="#b6ff00"/><stop offset="0.969" stop-color="#fcff00"/><stop offset="1.000" stop-color="#ffe200"/></linearGradient>
<linearGradient id="m21" gradientUnits="userSpaceOnUse" x1="809.8" y1="409.8" x2="1036.3" y2="291.6"><stop offset="0.000" stop-color="#f1ff00"/><stop offset="0.062" stop-color="#f0ff00"/><stop offset="0.156" stop-color="#e4ff00"/><stop offset="0.375" stop-color="#b0ff00"/><stop offset="0.438" stop-color="#a6ff00"/><stop offset="0.562" stop-color="#96ff00"/><stop offset="0.656" stop-color="#93ff00"/><stop offset="0.719" stop-color="#9aff00"/><stop offset="0.812" stop-color="#b6ff00"/><stop offset="0.875" stop-color="#d5ff00"/><stop offset="0.938" stop-color="#fdff00"/><stop offset="0.969" stop-color="#ffe800"/><stop offset="1.000" stop-color="#ffc800"/></linearGradient>
<linearGradient id="m22" gradientUnits="userSpaceOnUse" x1="810.9" y1="410.3" x2="1037.3" y2="291.9"><stop offset="0.000" stop-color="#fff100"/><stop offset="0.062" stop-color="#fff200"/><stop offset="0.156" stop-color="#fffe00"/><stop offset="0.375" stop-color="#d0ff00"/><stop offset="0.531" stop-color="#b9ff00"/><stop offset="0.625" stop-color="#b2ff00"/><stop offset="0.688" stop-color="#b5ff00"/><stop offset="0.750" stop-color="#bfff00"/><stop offset="0.812" stop-color="#d3ff00"/><stop offset="0.906" stop-color="#fffe00"/><stop offset="0.969" stop-color="#ffcf00"/><stop offset="1.000" stop-color="#ffaf00"/></linearGradient>
<linearGradient id="m23" gradientUnits="userSpaceOnUse" x1="812.0" y1="410.8" x2="1038.4" y2="292.3"><stop offset="0.000" stop-color="#ffd600"/><stop offset="0.125" stop-color="#ffde00"/><stop offset="0.281" stop-color="#fffe00"/><stop offset="0.438" stop-color="#e2ff00"/><stop offset="0.625" stop-color="#d0ff00"/><stop offset="0.719" stop-color="#d5ff00"/><stop offset="0.781" stop-color="#e3ff00"/><stop offset="0.844" stop-color="#f8ff00"/><stop offset="0.875" stop-color="#fff800"/><stop offset="0.906" stop-color="#ffe700"/><stop offset="0.969" stop-color="#ffb800"/><stop offset="1.000" stop-color="#ff9600"/></linearGradient>
<linearGradient id="m24" gradientUnits="userSpaceOnUse" x1="813.1" y1="411.3" x2="1039.4" y2="292.7"><stop offset="0.000" stop-color="#ffbc00"/><stop offset="0.062" stop-color="#ffbd00"/><stop offset="0.156" stop-color="#ffc900"/><stop offset="0.406" stop-color="#fffe00"/><stop offset="0.625" stop-color="#eaff00"/><stop offset="0.719" stop-color="#eeff00"/><stop offset="0.781" stop-color="#faff00"/><stop offset="0.812" stop-color="#fffc00"/><stop offset="0.906" stop-color="#ffd100"/><stop offset="0.938" stop-color="#ffbd00"/><stop offset="0.969" stop-color="#ffa200"/><stop offset="1.000" stop-color="#ff7e00"/></linearGradient>
<linearGradient id="m25" gradientUnits="userSpaceOnUse" x1="814.2" y1="411.8" x2="1040.5" y2="293.1"><stop offset="0.000" stop-color="#ffa300"/><stop offset="0.062" stop-color="#ffa400"/><stop offset="0.156" stop-color="#ffb000"/><stop offset="0.344" stop-color="#ffdc00"/><stop offset="0.438" stop-color="#ffec00"/><stop offset="0.562" stop-color="#fffa00"/><stop offset="0.688" stop-color="#fffd00"/><stop offset="0.781" stop-color="#ffef00"/><stop offset="0.875" stop-color="#ffce00"/><stop offset="0.938" stop-color="#ffa800"/><stop offset="0.969" stop-color="#ff8c00"/><stop offset="1.000" stop-color="#ff6800"/></linearGradient>
<linearGradient id="m26" gradientUnits="userSpaceOnUse" x1="815.3" y1="412.3" x2="1041.5" y2="293.5"><stop offset="0.000" stop-color="#ff8900"/><stop offset="0.062" stop-color="#ff8a00"/><stop offset="0.125" stop-color="#ff9200"/><stop offset="0.344" stop-color="#ffc500"/><stop offset="0.469" stop-color="#ffda00"/><stop offset="0.594" stop-color="#ffe600"/><stop offset="0.688" stop-color="#ffe700"/><stop offset="0.781" stop-color="#ffdb00"/><stop offset="0.875" stop-color="#ffbb00"/><stop offset="0.938" stop-color="#ff9300"/><stop offset="0.969" stop-color="#ff7700"/><stop offset="1.000" stop-color="#ff5400"/></linearGradient>
<linearGradient id="m27" gradientUnits="userSpaceOnUse" x1="816.3" y1="412.7" x2="1042.6" y2="293.9"><stop offset="0.000" stop-color="#ff7000"/><stop offset="0.062" stop-color="#ff7100"/><stop offset="0.125" stop-color="#ff7900"/><stop offset="0.312" stop-color="#ffa700"/><stop offset="0.438" stop-color="#ffc000"/><stop offset="0.625" stop-color="#ffd200"/><stop offset="0.719" stop-color="#ffd100"/><stop offset="0.812" stop-color="#ffc000"/><stop offset="0.875" stop-color="#ffa800"/><stop offset="0.938" stop-color="#ff7f00"/><stop offset="0.969" stop-color="#ff6400"/><stop offset="1.000" stop-color="#ff4000"/></linearGradient>
<linearGradient id="m28" gradientUnits="userSpaceOnUse" x1="817.4" y1="413.2" x2="1043.6" y2="294.2"><stop offset="0.000" stop-color="#ff5600"/><stop offset="0.062" stop-color="#ff5700"/><stop offset="0.125" stop-color="#ff6000"/><stop offset="0.344" stop-color="#ff9800"/><stop offset="0.438" stop-color="#ffaa00"/><stop offset="0.562" stop-color="#ffb800"/><stop offset="0.719" stop-color="#ffbd00"/><stop offset="0.781" stop-color="#ffb500"/><stop offset="0.844" stop-color="#ffa300"/><stop offset="0.875" stop-color="#ff9500"/><stop offset="0.938" stop-color="#ff6d00"/><stop offset="0.969" stop-color="#ff5100"/><stop offset="1.000" stop-color="#ff2c00"/></linearGradient>
<linearGradient id="m29" gradientUnits="userSpaceOnUse" x1="818.5" y1="413.7" x2="1044.6" y2="294.6"><stop offset="0.000" stop-color="#ff3c00"/><stop offset="0.062" stop-color="#ff3d00"/><stop offset="0.125" stop-color="#ff4700"/><stop offset="0.344" stop-color="#ff8100"/><stop offset="0.469" stop-color="#ff9900"/><stop offset="0.625" stop-color="#ffa700"/><stop offset="0.719" stop-color="#ffa800"/><stop offset="0.812" stop-color="#ff9b00"/><stop offset="0.875" stop-color="#ff8300"/><stop offset="0.938" stop-color="#ff5b00"/><stop offset="0.969" stop-color="#ff3f00"/><stop offset="1.000" stop-color="#ff1700"/></linearGradient>
<linearGradient id="m30" gradientUnits="userSpaceOnUse" x1="819.6" y1="414.2" x2="1045.7" y2="295.0"><stop offset="0.000" stop-color="#ff1f00"/><stop offset="0.062" stop-color="#ff2100"/><stop offset="0.125" stop-color="#ff2c00"/><stop offset="0.344" stop-color="#ff6b00"/><stop offset="0.406" stop-color="#ff7900"/><stop offset="0.562" stop-color="#ff8c00"/><stop offset="0.719" stop-color="#ff9400"/><stop offset="0.812" stop-color="#ff8900"/><stop offset="0.875" stop-color="#ff7200"/><stop offset="0.938" stop-color="#ff4a00"/><stop offset="0.969" stop-color="#ff2d00"/><stop offset="1.000" stop-color="#ff0000"/></linearGradient>
<linearGradient id="m31" gradientUnits="userSpaceOnUse" x1="820.7" y1="414.7" x2="1046.7" y2="295.4"><stop offset="0.000" stop-color="#ff0000"/><stop offset="0.094" stop-color="#ff0300"/><stop offset="0.281" stop-color="#ff4200"/><stop offset="0.406" stop-color="#ff6300"/><stop offset="0.500" stop-color="#ff7000"/><stop offset="0.719" stop-color="#ff7f00"/><stop offset="0.781" stop-color="#ff7d00"/><stop offset="0.844" stop-color="#ff6e00"/><stop offset="0.875" stop-color="#ff6100"/><stop offset="0.938" stop-color="#ff3900"/><stop offset="1.000" stop-color="#ff0000"/></linearGradient>
<linearGradient id="m32" gradientUnits="userSpaceOnUse" x1="821.8" y1="415.1" x2="1047.8" y2="295.8"><stop offset="0.000" stop-color="#ff0000"/><stop offset="0.188" stop-color="#ff0000"/><stop offset="0.281" stop-color="#ff2900"/><stop offset="0.406" stop-color="#ff4c00"/><stop offset="0.531" stop-color="#ff5b00"/><stop offset="0.750" stop-color="#ff6c00"/><stop offset="0.812" stop-color="#ff6600"/><stop offset="0.875" stop-color="#ff5100"/><stop offset="0.906" stop-color="#ff4000"/><stop offset="0.938" stop-color="#ff2800"/><stop offset="0.969" stop-color="#ff0300"/><stop offset="1.000" stop-color="#ff0000"/></linearGradient>
<linearGradient id="m33" gradientUnits="userSpaceOnUse" x1="822.9" y1="415.6" x2="1048.8" y2="296.1"><stop offset="0.000" stop-color="#ff0000"/><stop offset="0.250" stop-color="#ff0000"/><stop offset="0.344" stop-color="#ff2300"/><stop offset="0.438" stop-color="#ff3900"/><stop offset="0.781" stop-color="#ff5900"/><stop offset="0.844" stop-color="#ff4e00"/><stop offset="0.906" stop-color="#ff2f00"/><stop offset="0.969" stop-color="#ff0000"/><stop offset="1.000" stop-color="#ff0000"/></linearGradient>
<linearGradient id="m34" gradientUnits="userSpaceOnUse" x1="824.0" y1="416.1" x2="1049.8" y2="296.5"><stop offset="0.000" stop-color="#ff0000"/><stop offset="0.344" stop-color="#ff0200"/><stop offset="0.375" stop-color="#ff0f00"/><stop offset="0.438" stop-color="#ff1e00"/><stop offset="0.594" stop-color="#ff2b00"/><stop offset="0.781" stop-color="#ff4600"/><stop offset="0.844" stop-color="#ff3e00"/><stop offset="0.875" stop-color="#ff3100"/><stop offset="0.906" stop-color="#ff1e00"/><stop offset="0.938" stop-color="#ff0000"/><stop offset="1.000" stop-color="#ff0000"/></linearGradient>
<linearGradient id="m35" gradientUnits="userSpaceOnUse" x1="825.1" y1="416.6" x2="1050.9" y2="296.9"><stop offset="0.000" stop-color="#ff0000"/><stop offset="0.531" stop-color="#ff0200"/><stop offset="0.625" stop-color="#ff0f00"/><stop offset="0.750" stop-color="#ff2f00"/><stop offset="0.781" stop-color="#ff3300"/><stop offset="0.844" stop-color="#ff2d00"/><stop offset="0.875" stop-color="#ff2100"/><stop offset="0.906" stop-color="#ff0b00"/><stop offset="0.938" stop-color="#ff0000"/><stop offset="1.000" stop-color="#ff0000"/></linearGradient>
<linearGradient id="m36" gradientUnits="userSpaceOnUse" x1="826.2" y1="417.1" x2="1051.9" y2="297.3"><stop offset="0.000" stop-color="#ff0000"/><stop offset="0.688" stop-color="#ff0000"/><stop offset="0.750" stop-color="#ff1600"/><stop offset="0.812" stop-color="#ff2000"/><stop offset="0.844" stop-color="#ff1b00"/><stop offset="0.906" stop-color="#ff0000"/><stop offset="1.000" stop-color="#ff0000"/></linearGradient>
<linearGradient id="m37" gradientUnits="userSpaceOnUse" x1="827.3" y1="417.6" x2="1053.0" y2="297.7"><stop offset="0.000" stop-color="#ff0000"/><stop offset="0.750" stop-color="#ff0000"/><stop offset="0.812" stop-color="#ff0b00"/><stop offset="0.875" stop-color="#ff0000"/><stop offset="1.000" stop-color="#ff0000"/></linearGradient>
<linearGradient id="m38" gradientUnits="userSpaceOnUse" x1="833.8" y1="420.4" x2="1059.2" y2="299.9"><stop offset="0.000" stop-color="#fa0000"/><stop offset="0.188" stop-color="#ff0000"/><stop offset="1.000" stop-color="#ff0000"/></linearGradient>
<linearGradient id="m39" gradientUnits="userSpaceOnUse" x1="834.9" y1="420.9" x2="1060.2" y2="300.3"><stop offset="0.000" stop-color="#f30000"/><stop offset="0.125" stop-color="#f50000"/><stop offset="0.281" stop-color="#ff0000"/><stop offset="0.531" stop-color="#f90000"/><stop offset="0.625" stop-color="#ff0000"/><stop offset="1.000" stop-color="#ff0000"/></linearGradient>
<linearGradient id="m40" gradientUnits="userSpaceOnUse" x1="836.0" y1="421.4" x2="1061.3" y2="300.7"><stop offset="0.000" stop-color="#ec0000"/><stop offset="0.094" stop-color="#ec0000"/><stop offset="0.312" stop-color="#fa0000"/><stop offset="0.562" stop-color="#ee0000"/><stop offset="0.688" stop-color="#ff0000"/><stop offset="1.000" stop-color="#ff0000"/></linearGradient>
<linearGradient id="m41" gradientUnits="userSpaceOnUse" x1="837.1" y1="421.9" x2="1062.3" y2="301.1"><stop offset="0.000" stop-color="#e40000"/><stop offset="0.125" stop-color="#e60000"/><stop offset="0.344" stop-color="#f20000"/><stop offset="0.531" stop-color="#e30000"/><stop offset="0.594" stop-color="#e60000"/><stop offset="0.688" stop-color="#ff0000"/><stop offset="1.000" stop-color="#ff0000"/></linearGradient>
<linearGradient id="m42" gradientUnits="userSpaceOnUse" x1="838.2" y1="422.4" x2="1063.4" y2="301.5"><stop offset="0.000" stop-color="#dd0000"/><stop offset="0.125" stop-color="#df0000"/><stop offset="0.312" stop-color="#ea0000"/><stop offset="0.469" stop-color="#dc0000"/><stop offset="0.562" stop-color="#da0000"/><stop offset="0.625" stop-color="#e30000"/><stop offset="0.719" stop-color="#ff0000"/><stop offset="1.000" stop-color="#ff0000"/></linearGradient>
<linearGradient id="m43" gradientUnits="userSpaceOnUse" x1="839.3" y1="422.9" x2="1064.4" y2="301.8"><stop offset="0.000" stop-color="#d70000"/><stop offset="0.094" stop-color="#d70000"/><stop offset="0.312" stop-color="#e30000"/><stop offset="0.531" stop-color="#d10000"/><stop offset="0.656" stop-color="#e60000"/><stop offset="0.719" stop-color="#ff0000"/><stop offset="1.000" stop-color="#ff0000"/></linearGradient>
<linearGradient id="m44" gradientUnits="userSpaceOnUse" x1="840.7" y1="423.5" x2="1065.7" y2="302.3"><stop offset="0.000" stop-color="#cf0000"/><stop offset="0.312" stop-color="#da0000"/><stop offset="0.500" stop-color="#ca0000"/><stop offset="0.625" stop-color="#dd0000"/><stop offset="0.688" stop-color="#ec0000"/><stop offset="0.719" stop-color="#fa0000"/><stop offset="0.750" stop-color="#ff0000"/><stop offset="1.000" stop-color="#ff0000"/></linearGradient>
<linearGradient id="m45" gradientUnits="userSpaceOnUse" x1="842.3" y1="424.2" x2="1067.3" y2="302.9"><stop offset="0.000" stop-color="#c70000"/><stop offset="0.094" stop-color="#c70000"/><stop offset="0.312" stop-color="#d20000"/><stop offset="0.469" stop-color="#c40000"/><stop offset="0.625" stop-color="#db0000"/><stop offset="0.750" stop-color="#ff0000"/><stop offset="1.000" stop-color="#ff0000"/></linearGradient>
<linearGradient id="m46" gradientUnits="userSpaceOnUse" x1="843.9" y1="424.9" x2="1068.8" y2="303.5"><stop offset="0.000" stop-color="#bb0000"/><stop offset="0.094" stop-color="#bb0000"/><stop offset="0.281" stop-color="#cb0000"/><stop offset="0.438" stop-color="#c10000"/><stop offset="0.469" stop-color="#c30000"/><stop offset="0.625" stop-color="#da0000"/><stop offset="0.688" stop-color="#e90000"/><stop offset="0.750" stop-color="#ff0000"/><stop offset="1.000" stop-color="#ff0000"/></linearGradient>
<linearGradient id="m47" gradientUnits="userSpaceOnUse" x1="845.6" y1="425.6" x2="1070.4" y2="304.0"><stop offset="0.000" stop-color="#b10000"/><stop offset="0.125" stop-color="#b20000"/><stop offset="0.281" stop-color="#c50000"/><stop offset="0.469" stop-color="#c20000"/><stop offset="0.656" stop-color="#e00000"/><stop offset="0.750" stop-color="#ff0000"/><stop offset="1.000" stop-color="#ff0000"/></linearGradient>
<linearGradient id="m48" gradientUnits="userSpaceOnUse" x1="847.2" y1="426.4" x2="1071.9" y2="304.6"><stop offset="0.000" stop-color="#a80000"/><stop offset="0.188" stop-color="#ae0000"/><stop offset="0.312" stop-color="#c10000"/><stop offset="0.469" stop-color="#c20000"/><stop offset="0.625" stop-color="#da0000"/><stop offset="0.688" stop-color="#e90000"/><stop offset="0.750" stop-color="#ff0000"/><stop offset="1.000" stop-color="#ff0000"/></linearGradient>
<linearGradient id="m49" gradientUnits="userSpaceOnUse" x1="848.9" y1="427.1" x2="1073.5" y2="305.2"><stop offset="0.000" stop-color="#a30000"/><stop offset="0.219" stop-color="#a90000"/><stop offset="0.375" stop-color="#c00000"/><stop offset="0.469" stop-color="#c30000"/><stop offset="0.625" stop-color="#db0000"/><stop offset="0.750" stop-color="#ff0000"/><stop offset="1.000" stop-color="#ff0000"/></linearGradient>
<linearGradient id="m50" gradientUnits="userSpaceOnUse" x1="850.5" y1="427.8" x2="1075.1" y2="305.8"><stop offset="0.000" stop-color="#9f0000"/><stop offset="0.188" stop-color="#a20000"/><stop offset="0.312" stop-color="#ab0000"/><stop offset="0.625" stop-color="#dc0000"/><stop offset="0.750" stop-color="#ff0000"/><stop offset="1.000" stop-color="#ff0000"/></linearGradient>
<linearGradient id="m51" gradientUnits="userSpaceOnUse" x1="852.1" y1="428.5" x2="1076.6" y2="306.3"><stop offset="0.000" stop-color="#9d0000"/><stop offset="0.156" stop-color="#9e0000"/><stop offset="0.344" stop-color="#a70000"/><stop offset="0.438" stop-color="#b60000"/><stop offset="0.500" stop-color="#cb0000"/><stop offset="0.781" stop-color="#fc0000"/><stop offset="1.000" stop-color="#ff0000"/></linearGradient>
<linearGradient id="m52" gradientUnits="userSpaceOnUse" x1="853.8" y1="429.2" x2="1078.2" y2="306.9"><stop offset="0.000" stop-color="#9c0000"/><stop offset="0.219" stop-color="#9d0000"/><stop offset="0.375" stop-color="#a40000"/><stop offset="0.469" stop-color="#b30000"/><stop offset="0.594" stop-color="#d60000"/><stop offset="0.719" stop-color="#e50000"/><stop offset="0.812" stop-color="#fe0000"/><stop offset="1.000" stop-color="#ff0000"/></linearGradient>
<linearGradient id="m53" gradientUnits="userSpaceOnUse" x1="855.4" y1="430.0" x2="1079.7" y2="307.5"><stop offset="0.000" stop-color="#9c0000"/><stop offset="0.281" stop-color="#9c0000"/><stop offset="0.406" stop-color="#a20000"/><stop offset="0.469" stop-color="#ab0000"/><stop offset="0.594" stop-color="#c80000"/><stop offset="0.719" stop-color="#d90000"/><stop offset="0.812" stop-color="#fc0000"/><stop offset="1.000" stop-color="#ff0000"/></linearGradient>
<linearGradient id="m54" gradientUnits="userSpaceOnUse" x1="857.1" y1="430.7" x2="1081.3" y2="308.0"><stop offset="0.000" stop-color="#9c0000"/><stop offset="0.312" stop-color="#9b0000"/><stop offset="0.438" stop-color="#a10000"/><stop offset="0.719" stop-color="#cf0000"/><stop offset="0.812" stop-color="#fa0000"/><stop offset="0.844" stop-color="#ff0000"/><stop offset="1.000" stop-color="#ff0000"/></linearGradient>
<linearGradient id="m55" gradientUnits="userSpaceOnUse" x1="858.7" y1="431.4" x2="1082.9" y2="308.6"><stop offset="0.000" stop-color="#9d0000"/><stop offset="0.375" stop-color="#9b0000"/><stop offset="0.469" stop-color="#a10000"/><stop offset="0.688" stop-color="#c10000"/><stop offset="0.719" stop-color="#c90000"/><stop offset="0.812" stop-color="#f90000"/><stop offset="0.844" stop-color="#ff0000"/><stop offset="1.000" stop-color="#ff0000"/></linearGradient>
<linearGradient id="m56" gradientUnits="userSpaceOnUse" x1="860.3" y1="432.1" x2="1084.4" y2="309.2"><stop offset="0.000" stop-color="#9e0000"/><stop offset="0.375" stop-color="#9a0000"/><stop offset="0.500" stop-color="#a20000"/><stop offset="0.656" stop-color="#b70000"/><stop offset="0.719" stop-color="#c40000"/><stop offset="0.812" stop-color="#f90000"/><stop offset="0.844" stop-color="#ff0000"/><stop offset="1.000" stop-color="#ff0000"/></linearGradient>
<linearGradient id="m57" gradientUnits="userSpaceOnUse" x1="862.0" y1="432.9" x2="1086.0" y2="309.8"><stop offset="0.000" stop-color="#a00000"/><stop offset="0.469" stop-color="#9d0000"/><stop offset="0.656" stop-color="#b30000"/><stop offset="0.719" stop-color="#c00000"/><stop offset="0.812" stop-color="#f90000"/><stop offset="0.844" stop-color="#ff0000"/><stop offset="1.000" stop-color="#ff0000"/></linearGradient>
<linearGradient id="m58" gradientUnits="userSpaceOnUse" x1="863.6" y1="433.6" x2="1087.5" y2="310.3"><stop offset="0.000" stop-color="#a20000"/><stop offset="0.094" stop-color="#a40000"/><stop offset="0.375" stop-color="#9b0000"/><stop offset="0.500" stop-color="#9f0000"/><stop offset="0.688" stop-color="#b60000"/><stop offset="0.719" stop-color="#c00000"/><stop offset="0.750" stop-color="#d10000"/><stop offset="0.812" stop-color="#fb0000"/><stop offset="0.844" stop-color="#ff0000"/><stop offset="0.969" stop-color="#ff0000"/><stop offset="1.000" stop-color="#ff1200"/></linearGradient>
<linearGradient id="m59" gradientUnits="userSpaceOnUse" x1="865.2" y1="434.3" x2="1089.1" y2="310.9"><stop offset="0.000" stop-color="#a50000"/><stop offset="0.125" stop-color="#a70000"/><stop offset="0.344" stop-color="#9c0000"/><stop offset="0.500" stop-color="#9f0000"/><stop offset="0.625" stop-color="#ab0000"/><stop offset="0.688" stop-color="#b60000"/><stop offset="0.719" stop-color="#c00000"/><stop offset="0.812" stop-color="#fd0000"/><stop offset="0.969" stop-color="#ff0000"/><stop offset="1.000" stop-color="#ff2600"/></linearGradient>
<linearGradient id="m60" gradientUnits="userSpaceOnUse" x1="866.9" y1="435.0" x2="1090.7" y2="311.5"><stop offset="0.000" stop-color="#a90000"/><stop offset="0.125" stop-color="#ab0000"/><stop offset="0.344" stop-color="#9d0000"/><stop offset="0.531" stop-color="#a20000"/><stop offset="0.688" stop-color="#b70000"/><stop offset="0.719" stop-color="#c20000"/><stop offset="0.812" stop-color="#ff0000"/><stop offset="0.969" stop-color="#ff0000"/><stop offset="1.000" stop-color="#ff3600"/></linearGradient>
<linearGradient id="m61" gradientUnits="userSpaceOnUse" x1="868.5" y1="435.8" x2="1092.2" y2="312.0"><stop offset="0.000" stop-color="#ae0000"/><stop offset="0.125" stop-color="#b00000"/><stop offset="0.375" stop-color="#9e0000"/><stop offset="0.531" stop-color="#a30000"/><stop offset="0.688" stop-color="#b80000"/><stop offset="0.719" stop-color="#c40000"/><stop offset="0.781" stop-color="#ef0000"/><stop offset="0.812" stop-color="#ff0000"/><stop offset="0.938" stop-color="#ff0000"/><stop offset="0.969" stop-color="#ff0600"/><stop offset="1.000" stop-color="#ff4400"/></linearGradient>
<linearGradient id="m62" gradientUnits="userSpaceOnUse" x1="870.2" y1="436.5" x2="1093.8" y2="312.6"><stop offset="0.000" stop-color="#b40000"/><stop offset="0.094" stop-color="#b80000"/><stop offset="0.344" stop-color="#a10000"/><stop offset="0.500" stop-color="#a20000"/><stop offset="0.625" stop-color="#af0000"/><stop offset="0.688" stop-color="#bb0000"/><stop offset="0.719" stop-color="#c70000"/><stop offset="0.781" stop-color="#f30000"/><stop offset="0.812" stop-color="#ff0000"/><stop offset="0.938" stop-color="#ff0000"/><stop offset="0.969" stop-color="#ff1d00"/><stop offset="1.000" stop-color="#ff5000"/></linearGradient>
<linearGradient id="m63" gradientUnits="userSpaceOnUse" x1="871.8" y1="437.2" x2="1095.4" y2="313.2"><stop offset="0.000" stop-color="#bc0000"/><stop offset="0.094" stop-color="#c00000"/><stop offset="0.344" stop-color="#a50000"/><stop offset="0.438" stop-color="#a10000"/><stop offset="0.500" stop-color="#a40000"/><stop offset="0.625" stop-color="#b10000"/><stop offset="0.688" stop-color="#bf0000"/><stop offset="0.719" stop-color="#cc0000"/><stop offset="0.781" stop-color="#f80000"/><stop offset="0.812" stop-color="#ff0000"/><stop offset="0.938" stop-color="#ff0000"/><stop offset="1.000" stop-color="#ff5b00"/></linearGradient>
<linearGradient id="m64" gradientUnits="userSpaceOnUse" x1="873.4" y1="437.9" x2="1096.9" y2="313.7"><stop offset="0.000" stop-color="#c50000"/><stop offset="0.125" stop-color="#c80000"/><stop offset="0.344" stop-color="#a90000"/><stop offset="0.469" stop-color="#a50000"/><stop offset="0.594" stop-color="#b00000"/><stop offset="0.688" stop-color="#c30000"/><stop offset="0.719" stop-color="#d10000"/><stop offset="0.781" stop-color="#fd0000"/><stop offset="0.938" stop-color="#ff0000"/><stop offset="0.969" stop-color="#ff3c00"/><stop offset="1.000" stop-color="#ff6600"/></linearGradient>
<linearGradient id="m65" gradientUnits="userSpaceOnUse" x1="875.1" y1="438.6" x2="1098.5" y2="314.3"><stop offset="0.000" stop-color="#ce0000"/><stop offset="0.062" stop-color="#d30000"/><stop offset="0.125" stop-color="#d10000"/><stop offset="0.375" stop-color="#ab0000"/><stop offset="0.469" stop-color="#a90000"/><stop offset="0.594" stop-color="#b40000"/><stop offset="0.656" stop-color="#c00000"/><stop offset="0.719" stop-color="#d80000"/><stop offset="0.781" stop-color="#ff0000"/><stop offset="0.906" stop-color="#ff0000"/><stop offset="0.938" stop-color="#ff1900"/><stop offset="1.000" stop-color="#ff7300"/></linearGradient>
<linearGradient id="m66" gradientUnits="userSpaceOnUse" x1="876.7" y1="439.4" x2="1100.0" y2="314.9"><stop offset="0.000" stop-color="#d70000"/><stop offset="0.062" stop-color="#dd0000"/><stop offset="0.125" stop-color="#db0000"/><stop offset="0.219" stop-color="#cf0000"/><stop offset="0.344" stop-color="#b60000"/><stop offset="0.469" stop-color="#ae0000"/><stop offset="0.562" stop-color="#b60000"/><stop offset="0.656" stop-color="#c60000"/><stop offset="0.688" stop-color="#d00000"/><stop offset="0.750" stop-color="#f60000"/><stop offset="0.781" stop-color="#ff0000"/><stop offset="0.906" stop-color="#ff0000"/><stop offset="1.000" stop-color="#ff8000"/></linearGradient>
<linearGradient id="m67" gradientUnits="userSpaceOnUse" x1="878.4" y1="440.1" x2="1101.6" y2="315.5"><stop offset="0.000" stop-color="#e10000"/><stop offset="0.062" stop-color="#e70000"/><stop offset="0.125" stop-color="#e60000"/><stop offset="0.188" stop-color="#df0000"/><stop offset="0.375" stop-color="#ba0000"/><stop offset="0.469" stop-color="#b40000"/><stop offset="0.594" stop-color="#c10000"/><stop offset="0.656" stop-color="#cf0000"/><stop offset="0.688" stop-color="#da0000"/><stop offset="0.750" stop-color="#ff0000"/><stop offset="0.906" stop-color="#ff0300"/><stop offset="0.938" stop-color="#ff3700"/><stop offset="1.000" stop-color="#ff8f00"/></linearGradient>
<linearGradient id="m68" gradientUnits="userSpaceOnUse" x1="880.0" y1="440.8" x2="1103.2" y2="316.0"><stop offset="0.000" stop-color="#ea0000"/><stop offset="0.125" stop-color="#f00000"/><stop offset="0.219" stop-color="#e40000"/><stop offset="0.375" stop-color="#c30000"/><stop offset="0.469" stop-color="#bd0000"/><stop offset="0.562" stop-color="#c50000"/><stop offset="0.625" stop-color="#d00000"/><stop offset="0.750" stop-color="#ff0000"/><stop offset="0.875" stop-color="#ff0000"/><stop offset="0.906" stop-color="#ff1900"/><stop offset="0.969" stop-color="#ff6d00"/><stop offset="1.000" stop-color="#ff9e00"/></linearGradient>
<linearGradient id="m69" gradientUnits="userSpaceOnUse" x1="881.6" y1="441.5" x2="1104.7" y2="316.6"><stop offset="0.000" stop-color="#f40000"/><stop offset="0.094" stop-color="#fa0000"/><stop offset="0.156" stop-color="#f70000"/><stop offset="0.250" stop-color="#ea0000"/><stop offset="0.406" stop-color="#ca0000"/><stop offset="0.469" stop-color="#c80000"/><stop offset="0.625" stop-color="#dc0000"/><stop offset="0.719" stop-color="#ff0000"/><stop offset="0.875" stop-color="#ff0000"/><stop offset="0.969" stop-color="#ff7b00"/><stop offset="1.000" stop-color="#ffad00"/></linearGradient>
<linearGradient id="m70" gradientUnits="userSpaceOnUse" x1="883.3" y1="442.3" x2="1106.3" y2="317.2"><stop offset="0.000" stop-color="#fc0000"/><stop offset="0.188" stop-color="#fd0000"/><stop offset="0.250" stop-color="#f50000"/><stop offset="0.375" stop-color="#db0000"/><stop offset="0.438" stop-color="#d50000"/><stop offset="0.562" stop-color="#de0000"/><stop offset="0.625" stop-color="#e90000"/><stop offset="0.688" stop-color="#fc0000"/><stop offset="0.844" stop-color="#ff0000"/><stop offset="0.875" stop-color="#ff0b00"/><stop offset="0.969" stop-color="#ff8a00"/><stop offset="1.000" stop-color="#ffbd00"/></linearGradient>
<linearGradient id="m71" gradientUnits="userSpaceOnUse" x1="884.9" y1="443.0" x2="1107.8" y2="317.7"><stop offset="0.000" stop-color="#ff0000"/><stop offset="0.250" stop-color="#ff0000"/><stop offset="0.375" stop-color="#e80000"/><stop offset="0.438" stop-color="#e30000"/><stop offset="0.562" stop-color="#ec0000"/><stop offset="0.656" stop-color="#fe0000"/><stop offset="0.844" stop-color="#ff0000"/><stop offset="0.875" stop-color="#ff1e00"/><stop offset="0.938" stop-color="#ff6c00"/><stop offset="1.000" stop-color="#ffcc00"/></linearGradient>
<linearGradient id="m72" gradientUnits="userSpaceOnUse" x1="886.6" y1="443.7" x2="1109.4" y2="318.3"><stop offset="0.000" stop-color="#ff0000"/><stop offset="0.312" stop-color="#ff0000"/><stop offset="0.438" stop-color="#f10000"/><stop offset="0.625" stop-color="#ff0000"/><stop offset="0.844" stop-color="#ff0000"/><stop offset="0.875" stop-color="#ff2d00"/><stop offset="0.938" stop-color="#ff7b00"/><stop offset="1.000" stop-color="#ffdb00"/></linearGradient>
<linearGradient id="m73" gradientUnits="userSpaceOnUse" x1="888.2" y1="444.4" x2="1111.0" y2="318.9"><stop offset="0.000" stop-color="#ff0000"/><stop offset="0.812" stop-color="#ff0000"/><stop offset="0.844" stop-color="#ff1600"/><stop offset="0.906" stop-color="#ff6100"/><stop offset="0.938" stop-color="#ff8b00"/><stop offset="1.000" stop-color="#ffeb00"/></linearGradient>
<linearGradient id="m74" gradientUnits="userSpaceOnUse" x1="889.8" y1="445.2" x2="1112.5" y2="319.5"><stop offset="0.000" stop-color="#ff0000"/><stop offset="0.812" stop-color="#ff0000"/><stop offset="0.906" stop-color="#ff7100"/><stop offset="0.969" stop-color="#ffc900"/><stop offset="1.000" stop-color="#fffc00"/></linearGradient>
<linearGradient id="m75" gradientUnits="userSpaceOnUse" x1="891.5" y1="445.9" x2="1114.1" y2="320.0"><stop offset="0.000" stop-color="#ff0000"/><stop offset="0.781" stop-color="#ff0000"/><stop offset="0.812" stop-color="#ff1200"/><stop offset="0.875" stop-color="#ff5a00"/><stop offset="0.906" stop-color="#ff8000"/><stop offset="0.969" stop-color="#ffd900"/><stop offset="1.000" stop-color="#f2ff00"/></linearGradient>
<linearGradient id="m76" gradientUnits="userSpaceOnUse" x1="893.1" y1="446.6" x2="1115.6" y2="320.6"><stop offset="0.000" stop-color="#ff0000"/><stop offset="0.781" stop-color="#ff0000"/><stop offset="0.875" stop-color="#ff6a00"/><stop offset="0.938" stop-color="#ffbb00"/><stop offset="0.969" stop-color="#ffe900"/><stop offset="1.000" stop-color="#e0ff00"/></linearGradient>
<linearGradient id="m77" gradientUnits="userSpaceOnUse" x1="894.8" y1="447.3" x2="1117.2" y2="321.2"><stop offset="0.000" stop-color="#ff0000"/><stop offset="0.750" stop-color="#ff0000"/><stop offset="0.781" stop-color="#ff1300"/><stop offset="0.875" stop-color="#ff7b00"/><stop offset="0.938" stop-color="#ffcb00"/><stop offset="0.969" stop-color="#fffa00"/><stop offset="1.000" stop-color="#ccff00"/></linearGradient>
<linearGradient id="m78" gradientUnits="userSpaceOnUse" x1="896.4" y1="448.0" x2="1118.8" y2="321.7"><stop offset="0.000" stop-color="#ff0000"/><stop offset="0.719" stop-color="#ff0000"/><stop offset="0.750" stop-color="#ff0400"/><stop offset="0.875" stop-color="#ff8b00"/><stop offset="0.938" stop-color="#ffdc00"/><stop offset="0.969" stop-color="#f3ff00"/><stop offset="1.000" stop-color="#b6ff00"/></linearGradient>
<linearGradient id="m79" gradientUnits="userSpaceOnUse" x1="898.0" y1="448.8" x2="1120.3" y2="322.3"><stop offset="0.000" stop-color="#ff0000"/><stop offset="0.719" stop-color="#ff0000"/><stop offset="0.844" stop-color="#ff7900"/><stop offset="0.906" stop-color="#ffc200"/><stop offset="0.938" stop-color="#ffed00"/><stop offset="0.969" stop-color="#e1ff00"/><stop offset="1.000" stop-color="#9fff00"/></linearGradient>
<linearGradient id="m80" gradientUnits="userSpaceOnUse" x1="899.7" y1="449.5" x2="1121.9" y2="322.9"><stop offset="0.000" stop-color="#ff0000"/><stop offset="0.688" stop-color="#ff0000"/><stop offset="0.750" stop-color="#ff3200"/><stop offset="0.844" stop-color="#ff8a00"/><stop offset="0.906" stop-color="#ffd300"/><stop offset="0.938" stop-color="#fffe00"/><stop offset="0.969" stop-color="#ccff00"/><stop offset="1.000" stop-color="#8aff00"/></linearGradient>
<linearGradient id="m81" gradientUnits="userSpaceOnUse" x1="901.3" y1="450.2" x2="1123.4" y2="323.5"><stop offset="0.000" stop-color="#ff0000"/><stop offset="0.031" stop-color="#ff0000"/><stop offset="0.062" stop-color="#ff0e00"/><stop offset="0.125" stop-color="#ff1900"/><stop offset="0.188" stop-color="#ff1400"/><stop offset="0.250" stop-color="#ff0000"/><stop offset="0.625" stop-color="#ff0000"/><stop offset="0.656" stop-color="#ff0700"/><stop offset="0.719" stop-color="#ff2f00"/><stop offset="0.781" stop-color="#ff6000"/><stop offset="0.844" stop-color="#ff9c00"/><stop offset="0.906" stop-color="#ffe400"/><stop offset="0.938" stop-color="#efff00"/><stop offset="0.969" stop-color="#b6ff00"/><stop offset="1.000" stop-color="#76ff00"/></linearGradient>
<linearGradient id="m82" gradientUnits="userSpaceOnUse" x1="902.9" y1="450.9" x2="1125.0" y2="324.0"><stop offset="0.000" stop-color="#ff1500"/><stop offset="0.031" stop-color="#ff2700"/><stop offset="0.062" stop-color="#ff3200"/><stop offset="0.094" stop-color="#ff3800"/><stop offset="0.156" stop-color="#ff3900"/><stop offset="0.250" stop-color="#ff2600"/><stop offset="0.344" stop-color="#ff0000"/><stop offset="0.562" stop-color="#ff0000"/><stop offset="0.656" stop-color="#ff2300"/><stop offset="0.750" stop-color="#ff5900"/><stop offset="0.844" stop-color="#ffad00"/><stop offset="0.906" stop-color="#fff600"/><stop offset="0.938" stop-color="#dbff00"/><stop offset="1.000" stop-color="#62ff00"/></linearGradient>
<linearGradient id="m83" gradientUnits="userSpaceOnUse" x1="904.6" y1="451.7" x2="1126.6" y2="324.6"><stop offset="0.000" stop-color="#ff3900"/><stop offset="0.062" stop-color="#ff5200"/><stop offset="0.125" stop-color="#ff5800"/><stop offset="0.219" stop-color="#ff4c00"/><stop offset="0.375" stop-color="#ff1a00"/><stop offset="0.406" stop-color="#ff1400"/><stop offset="0.469" stop-color="#ff1200"/><stop offset="0.531" stop-color="#ff1900"/><stop offset="0.656" stop-color="#ff3900"/><stop offset="0.719" stop-color="#ff5800"/><stop offset="0.750" stop-color="#ff6c00"/><stop offset="0.812" stop-color="#ffa000"/><stop offset="0.875" stop-color="#ffe100"/><stop offset="0.906" stop-color="#f6ff00"/><stop offset="0.938" stop-color="#c5ff00"/><stop offset="1.000" stop-color="#4dff00"/></linearGradient>
<linearGradient id="m84" gradientUnits="userSpaceOnUse" x1="906.2" y1="452.4" x2="1128.1" y2="325.2"><stop offset="0.000" stop-color="#ff5900"/><stop offset="0.062" stop-color="#ff6f00"/><stop offset="0.125" stop-color="#ff7400"/><stop offset="0.219" stop-color="#ff6800"/><stop offset="0.406" stop-color="#ff3100"/><stop offset="0.469" stop-color="#ff2d00"/><stop offset="0.562" stop-color="#ff3700"/><stop offset="0.656" stop-color="#ff4f00"/><stop offset="0.719" stop-color="#ff6c00"/><stop offset="0.781" stop-color="#ff9700"/><stop offset="0.844" stop-color="#ffd100"/><stop offset="0.875" stop-color="#fff300"/><stop offset="0.906" stop-color="#e3ff00"/><stop offset="0.969" stop-color="#77ff00"/><stop offset="1.000" stop-color="#3aff00"/></linearGradient>
<linearGradient id="m85" gradientUnits="userSpaceOnUse" x1="907.9" y1="453.1" x2="1129.7" y2="325.7"><stop offset="0.000" stop-color="#ff7600"/><stop offset="0.062" stop-color="#ff8b00"/><stop offset="0.156" stop-color="#ff8d00"/><stop offset="0.250" stop-color="#ff7a00"/><stop offset="0.406" stop-color="#ff4c00"/><stop offset="0.469" stop-color="#ff4600"/><stop offset="0.562" stop-color="#ff4d00"/><stop offset="0.656" stop-color="#ff6400"/><stop offset="0.719" stop-color="#ff8000"/><stop offset="0.781" stop-color="#ffaa00"/><stop offset="0.844" stop-color="#ffe300"/><stop offset="0.875" stop-color="#f9ff00"/><stop offset="0.906" stop-color="#ceff00"/><stop offset="1.000" stop-color="#2aff00"/></linearGradient>
<linearGradient id="m86" gradientUnits="userSpaceOnUse" x1="909.5" y1="453.8" x2="1131.2" y2="326.3"><stop offset="0.000" stop-color="#ff9200"/><stop offset="0.062" stop-color="#ffa500"/><stop offset="0.156" stop-color="#ffa700"/><stop offset="0.250" stop-color="#ff9400"/><stop offset="0.406" stop-color="#ff6500"/><stop offset="0.469" stop-color="#ff5e00"/><stop offset="0.562" stop-color="#ff6300"/><stop offset="0.656" stop-color="#ff7900"/><stop offset="0.719" stop-color="#ff9400"/><stop offset="0.781" stop-color="#ffbd00"/><stop offset="0.844" stop-color="#fff600"/><stop offset="0.875" stop-color="#e5ff00"/><stop offset="0.938" stop-color="#86ff00"/><stop offset="1.000" stop-color="#1eff00"/></linearGradient>
<linearGradient id="m87" gradientUnits="userSpaceOnUse" x1="911.1" y1="454.6" x2="1132.8" y2="326.9"><stop offset="0.000" stop-color="#ffac00"/><stop offset="0.031" stop-color="#ffb700"/><stop offset="0.094" stop-color="#ffc100"/><stop offset="0.156" stop-color="#ffbf00"/><stop offset="0.250" stop-color="#ffad00"/><stop offset="0.406" stop-color="#ff7e00"/><stop offset="0.438" stop-color="#ff7800"/><stop offset="0.531" stop-color="#ff7600"/><stop offset="0.594" stop-color="#ff7e00"/><stop offset="0.688" stop-color="#ff9900"/><stop offset="0.750" stop-color="#ffba00"/><stop offset="0.812" stop-color="#ffea00"/><stop offset="0.844" stop-color="#f6ff00"/><stop offset="0.875" stop-color="#d0ff00"/><stop offset="0.938" stop-color="#72ff00"/><stop offset="0.969" stop-color="#3cff00"/><stop offset="1.000" stop-color="#17ff00"/></linearGradient>
<linearGradient id="m88" gradientUnits="userSpaceOnUse" x1="912.8" y1="455.3" x2="1134.4" y2="327.5"><stop offset="0.000" stop-color="#ffc300"/><stop offset="0.062" stop-color="#ffd300"/><stop offset="0.156" stop-color="#ffd600"/><stop offset="0.250" stop-color="#ffc500"/><stop offset="0.375" stop-color="#ff9e00"/><stop offset="0.438" stop-color="#ff9000"/><stop offset="0.500" stop-color="#ff8c00"/><stop offset="0.562" stop-color="#ff8f00"/><stop offset="0.625" stop-color="#ff9a00"/><stop offset="0.688" stop-color="#ffad00"/><stop offset="0.750" stop-color="#ffcd00"/><stop offset="0.812" stop-color="#fffd00"/><stop offset="0.844" stop-color="#e2ff00"/><stop offset="0.875" stop-color="#baff00"/><stop offset="0.969" stop-color="#2dff00"/><stop offset="1.000" stop-color="#14ff00"/></linearGradient>
<linearGradient id="m89" gradientUnits="userSpaceOnUse" x1="914.4" y1="456.0" x2="1135.9" y2="328.0"><stop offset="0.000" stop-color="#ffd500"/><stop offset="0.094" stop-color="#ffe700"/><stop offset="0.188" stop-color="#ffe700"/><stop offset="0.281" stop-color="#ffd300"/><stop offset="0.406" stop-color="#ffae00"/><stop offset="0.469" stop-color="#ffa400"/><stop offset="0.531" stop-color="#ffa300"/><stop offset="0.594" stop-color="#ffa900"/><stop offset="0.656" stop-color="#ffb700"/><stop offset="0.719" stop-color="#ffcf00"/><stop offset="0.781" stop-color="#fff600"/><stop offset="0.812" stop-color="#eeff00"/><stop offset="0.844" stop-color="#ccff00"/><stop offset="0.906" stop-color="#7bff00"/><stop offset="0.938" stop-color="#4aff00"/><stop offset="0.969" stop-color="#22ff00"/><stop offset="1.000" stop-color="#12ff00"/></linearGradient>
<linearGradient id="m90" gradientUnits="userSpaceOnUse" x1="916.1" y1="456.7" x2="1137.5" y2="328.6"><stop offset="0.000" stop-color="#ffe300"/><stop offset="0.094" stop-color="#fff500"/><stop offset="0.188" stop-color="#fff700"/><stop offset="0.281" stop-color="#ffe900"/><stop offset="0.406" stop-color="#ffc500"/><stop offset="0.500" stop-color="#ffb800"/><stop offset="0.562" stop-color="#ffba00"/><stop offset="0.656" stop-color="#ffcb00"/><stop offset="0.719" stop-color="#ffe300"/><stop offset="0.750" stop-color="#fff400"/><stop offset="0.781" stop-color="#f4ff00"/><stop offset="0.812" stop-color="#d8ff00"/><stop offset="0.875" stop-color="#91ff00"/><stop offset="0.938" stop-color="#39ff00"/><stop offset="0.969" stop-color="#1dff00"/><stop offset="1.000" stop-color="#10ff00"/></linearGradient>
<linearGradient id="m91" gradientUnits="userSpaceOnUse" x1="917.7" y1="457.4" x2="1139.0" y2="329.2"><stop offset="0.000" stop-color="#ffef00"/><stop offset="0.062" stop-color="#fffe00"/><stop offset="0.156" stop-color="#f9ff00"/><stop offset="0.250" stop-color="#feff00"/><stop offset="0.438" stop-color="#ffd500"/><stop offset="0.531" stop-color="#ffce00"/><stop offset="0.625" stop-color="#ffd800"/><stop offset="0.656" stop-color="#ffdf00"/><stop offset="0.719" stop-color="#fff700"/><stop offset="0.750" stop-color="#f6ff00"/><stop offset="0.812" stop-color="#c2ff00"/><stop offset="0.875" stop-color="#7eff00"/><stop offset="0.938" stop-color="#2cff00"/><stop offset="0.969" stop-color="#19ff00"/><stop offset="1.000" stop-color="#0eff00"/></linearGradient>
<linearGradient id="m92" gradientUnits="userSpaceOnUse" x1="919.3" y1="458.2" x2="1140.6" y2="329.7"><stop offset="0.000" stop-color="#fffc00"/><stop offset="0.094" stop-color="#efff00"/><stop offset="0.156" stop-color="#ecff00"/><stop offset="0.250" stop-color="#f1ff00"/><stop offset="0.344" stop-color="#ffff00"/><stop offset="0.438" stop-color="#ffeb00"/><stop offset="0.531" stop-color="#ffe300"/><stop offset="0.625" stop-color="#ffed00"/><stop offset="0.688" stop-color="#fffe00"/><stop offset="0.750" stop-color="#e1ff00"/><stop offset="0.812" stop-color="#aeff00"/><stop offset="0.844" stop-color="#8fff00"/><stop offset="0.906" stop-color="#42ff00"/><stop offset="0.938" stop-color="#24ff00"/><stop offset="1.000" stop-color="#0cff00"/></linearGradient>
<linearGradient id="m93" gradientUnits="userSpaceOnUse" x1="921.0" y1="458.9" x2="1142.2" y2="330.3"><stop offset="0.000" stop-color="#f4ff00"/><stop offset="0.094" stop-color="#dfff00"/><stop offset="0.156" stop-color="#dcff00"/><stop offset="0.250" stop-color="#e2ff00"/><stop offset="0.438" stop-color="#feff00"/><stop offset="0.531" stop-color="#fff900"/><stop offset="0.594" stop-color="#fffc00"/><stop offset="0.656" stop-color="#f6ff00"/><stop offset="0.719" stop-color="#deff00"/><stop offset="0.750" stop-color="#cbff00"/><stop offset="0.812" stop-color="#9bff00"/><stop offset="0.906" stop-color="#34ff00"/><stop offset="0.938" stop-color="#20ff00"/><stop offset="1.000" stop-color="#08ff00"/></linearGradient>
<linearGradient id="m94" gradientUnits="userSpaceOnUse" x1="922.6" y1="459.6" x2="1143.7" y2="330.9"><stop offset="0.000" stop-color="#e4ff00"/><stop offset="0.062" stop-color="#d3ff00"/><stop offset="0.156" stop-color="#cbff00"/><stop offset="0.219" stop-color="#cfff00"/><stop offset="0.469" stop-color="#efff00"/><stop offset="0.562" stop-color="#f0ff00"/><stop offset="0.656" stop-color="#e1ff00"/><stop offset="0.719" stop-color="#c9ff00"/><stop offset="0.750" stop-color="#b7ff00"/><stop offset="0.812" stop-color="#88ff00"/><stop offset="0.875" stop-color="#45ff00"/><stop offset="0.906" stop-color="#2bff00"/><stop offset="0.969" stop-color="#12ff00"/><stop offset="1.000" stop-color="#00ff07"/></linearGradient>
<linearGradient id="m95" gradientUnits="userSpaceOnUse" x1="924.3" y1="460.3" x2="1145.3" y2="331.5"><stop offset="0.000" stop-color="#d3ff00"/><stop offset="0.062" stop-color="#c3ff00"/><stop offset="0.156" stop-color="#baff00"/><stop offset="0.219" stop-color="#bdff00"/><stop offset="0.375" stop-color="#d7ff00"/><stop offset="0.438" stop-color="#ddff00"/><stop offset="0.531" stop-color="#deff00"/><stop offset="0.625" stop-color="#d4ff00"/><stop offset="0.688" stop-color="#c2ff00"/><stop offset="0.750" stop-color="#a4ff00"/><stop offset="0.781" stop-color="#8fff00"/><stop offset="0.875" stop-color="#38ff00"/><stop offset="0.906" stop-color="#26ff00"/><stop offset="0.969" stop-color="#0fff00"/><stop offset="1.000" stop-color="#00ff2c"/></linearGradient>
<linearGradient id="m96" gradientUnits="userSpaceOnUse" x1="925.9" y1="461.1" x2="1146.9" y2="332.0"><stop offset="0.000" stop-color="#c3ff00"/><stop offset="0.062" stop-color="#b3ff00"/><stop offset="0.156" stop-color="#aaff00"/><stop offset="0.219" stop-color="#acff00"/><stop offset="0.375" stop-color="#c7ff00"/><stop offset="0.438" stop-color="#cdff00"/><stop offset="0.500" stop-color="#ceff00"/><stop offset="0.625" stop-color="#c1ff00"/><stop offset="0.719" stop-color="#a3ff00"/><stop offset="0.781" stop-color="#7cff00"/><stop offset="0.844" stop-color="#45ff00"/><stop offset="0.875" stop-color="#30ff00"/><stop offset="0.969" stop-color="#0bff00"/><stop offset="1.000" stop-color="#00ff4f"/></linearGradient>
<linearGradient id="m97" gradientUnits="userSpaceOnUse" x1="927.5" y1="461.8" x2="1148.4" y2="332.6"><stop offset="0.000" stop-color="#b4ff00"/><stop offset="0.062" stop-color="#a4ff00"/><stop offset="0.188" stop-color="#9cff00"/><stop offset="0.250" stop-color="#a0ff00"/><stop offset="0.438" stop-color="#bcff00"/><stop offset="0.562" stop-color="#b9ff00"/><stop offset="0.625" stop-color="#afff00"/><stop offset="0.719" stop-color="#90ff00"/><stop offset="0.750" stop-color="#7eff00"/><stop offset="0.844" stop-color="#39ff00"/><stop offset="0.938" stop-color="#15ff00"/><stop offset="0.969" stop-color="#00ff00"/><stop offset="1.000" stop-color="#00ff6d"/></linearGradient>
<linearGradient id="m98" gradientUnits="userSpaceOnUse" x1="929.2" y1="462.5" x2="1150.0" y2="333.2"><stop offset="0.000" stop-color="#a4ff00"/><stop offset="0.094" stop-color="#92ff00"/><stop offset="0.188" stop-color="#8fff00"/><stop offset="0.281" stop-color="#95ff00"/><stop offset="0.406" stop-color="#a8ff00"/><stop offset="0.469" stop-color="#acff00"/><stop offset="0.562" stop-color="#a7ff00"/><stop offset="0.656" stop-color="#95ff00"/><stop offset="0.688" stop-color="#8aff00"/><stop offset="0.719" stop-color="#7dff00"/><stop offset="0.844" stop-color="#32ff00"/><stop offset="0.938" stop-color="#11ff00"/><stop offset="0.969" stop-color="#00ff2b"/><stop offset="1.000" stop-color="#00ff86"/></linearGradient>
<linearGradient id="m99" gradientUnits="userSpaceOnUse" x1="930.8" y1="463.2" x2="1151.5" y2="333.7"><stop offset="0.000" stop-color="#95ff00"/><stop offset="0.062" stop-color="#88ff00"/><stop offset="0.156" stop-color="#82ff00"/><stop offset="0.219" stop-color="#83ff00"/><stop offset="0.438" stop-color="#99ff00"/><stop offset="0.562" stop-color="#94ff00"/><stop offset="0.625" stop-color="#89ff00"/><stop offset="0.688" stop-color="#77ff00"/><stop offset="0.812" stop-color="#3aff00"/><stop offset="0.938" stop-color="#0bff00"/><stop offset="0.969" stop-color="#00ff4e"/><stop offset="1.000" stop-color="#00ff9f"/></linearGradient>
<linearGradient id="m100" gradientUnits="userSpaceOnUse" x1="932.5" y1="463.9" x2="1153.1" y2="334.3"><stop offset="0.000" stop-color="#88ff00"/><stop offset="0.062" stop-color="#7dff00"/><stop offset="0.156" stop-color="#77ff00"/><stop offset="0.219" stop-color="#77ff00"/><stop offset="0.406" stop-color="#87ff00"/><stop offset="0.531" stop-color="#85ff00"/><stop offset="0.656" stop-color="#6fff00"/><stop offset="0.812" stop-color="#34ff00"/><stop offset="0.906" stop-color="#16ff00"/><stop offset="0.938" stop-color="#00ff0d"/><stop offset="0.969" stop-color="#00ff6c"/><stop offset="1.000" stop-color="#00ffb8"/></linearGradient>
<linearGradient id="m101" gradientUnits="userSpaceOnUse" x1="934.1" y1="464.7" x2="1154.7" y2="334.9"><stop offset="0.000" stop-color="#80ff00"/><stop offset="0.094" stop-color="#73ff00"/><stop offset="0.188" stop-color="#6dff00"/><stop offset="0.406" stop-color="#7bff00"/><stop offset="0.531" stop-color="#75ff00"/><stop offset="0.688" stop-color="#57ff00"/><stop offset="0.906" stop-color="#11ff00"/><stop offset="0.938" stop-color="#00ff36"/><stop offset="1.000" stop-color="#00ffd1"/></linearGradient>
<linearGradient id="m102" gradientUnits="userSpaceOnUse" x1="935.7" y1="465.4" x2="1156.2" y2="335.5"><stop offset="0.000" stop-color="#7cff00"/><stop offset="0.094" stop-color="#6fff00"/><stop offset="0.219" stop-color="#66ff00"/><stop offset="0.438" stop-color="#70ff00"/><stop offset="0.562" stop-color="#64ff00"/><stop offset="0.750" stop-color="#3dff00"/><stop offset="0.875" stop-color="#19ff00"/><stop offset="0.906" stop-color="#05ff00"/><stop offset="0.938" stop-color="#00ff58"/><stop offset="1.000" stop-color="#00ffe9"/></linearGradient>
<linearGradient id="m103" gradientUnits="userSpaceOnUse" x1="937.4" y1="466.1" x2="1157.8" y2="336.0"><stop offset="0.000" stop-color="#78ff00"/><stop offset="0.219" stop-color="#62ff00"/><stop offset="0.281" stop-color="#60ff00"/><stop offset="0.438" stop-color="#66ff00"/><stop offset="0.531" stop-color="#5fff00"/><stop offset="0.688" stop-color="#45ff00"/><stop offset="0.844" stop-color="#1fff00"/><stop offset="0.875" stop-color="#13ff00"/><stop offset="0.906" stop-color="#00ff26"/><stop offset="0.938" stop-color="#00ff73"/><stop offset="1.000" stop-color="#00feff"/></linearGradient>
<linearGradient id="m104" gradientUnits="userSpaceOnUse" x1="939.0" y1="466.8" x2="1159.3" y2="336.6"><stop offset="0.000" stop-color="#75ff00"/><stop offset="0.094" stop-color="#67ff00"/><stop offset="0.219" stop-color="#5eff00"/><stop offset="0.438" stop-color="#5cff00"/><stop offset="0.531" stop-color="#56ff00"/><stop offset="0.688" stop-color="#3fff00"/><stop offset="0.812" stop-color="#24ff00"/><stop offset="0.844" stop-color="#1bff00"/><stop offset="0.875" stop-color="#08ff00"/><stop offset="0.906" stop-color="#00ff4b"/><stop offset="0.969" stop-color="#00ffd0"/><stop offset="1.000" stop-color="#00f3ff"/></linearGradient>
<linearGradient id="m105" gradientUnits="userSpaceOnUse" x1="940.7" y1="467.6" x2="1160.9" y2="337.2"><stop offset="0.000" stop-color="#72ff00"/><stop offset="0.062" stop-color="#66ff00"/><stop offset="0.156" stop-color="#5cff00"/><stop offset="0.469" stop-color="#53ff00"/><stop offset="0.562" stop-color="#4bff00"/><stop offset="0.750" stop-color="#2eff00"/><stop offset="0.812" stop-color="#20ff00"/><stop offset="0.844" stop-color="#13ff00"/><stop offset="0.875" stop-color="#00ff21"/><stop offset="0.906" stop-color="#00ff68"/><stop offset="0.969" stop-color="#00ffe7"/><stop offset="1.000" stop-color="#00e7ff"/></linearGradient>
<linearGradient id="m106" gradientUnits="userSpaceOnUse" x1="942.3" y1="468.3" x2="1162.5" y2="337.7"><stop offset="0.000" stop-color="#6bff00"/><stop offset="0.125" stop-color="#57ff00"/><stop offset="0.406" stop-color="#51ff00"/><stop offset="0.562" stop-color="#45ff00"/><stop offset="0.781" stop-color="#24ff00"/><stop offset="0.812" stop-color="#1aff00"/><stop offset="0.844" stop-color="#06ff00"/><stop offset="0.875" stop-color="#00ff46"/><stop offset="0.938" stop-color="#00ffbe"/><stop offset="0.969" stop-color="#00feff"/><stop offset="1.000" stop-color="#00d9ff"/></linearGradient>
<linearGradient id="m107" gradientUnits="userSpaceOnUse" x1="943.9" y1="469.0" x2="1164.0" y2="338.3"><stop offset="0.000" stop-color="#61ff00"/><stop offset="0.062" stop-color="#52ff00"/><stop offset="0.125" stop-color="#4bff00"/><stop offset="0.375" stop-color="#4eff00"/><stop offset="0.562" stop-color="#40ff00"/><stop offset="0.750" stop-color="#27ff00"/><stop offset="0.781" stop-color="#1fff00"/><stop offset="0.812" stop-color="#10ff00"/><stop offset="0.844" stop-color="#00ff27"/><stop offset="0.938" stop-color="#00ffd6"/><stop offset="0.969" stop-color="#00f3ff"/><stop offset="1.000" stop-color="#00c8ff"/></linearGradient>
<linearGradient id="m108" gradientUnits="userSpaceOnUse" x1="945.6" y1="469.7" x2="1165.6" y2="338.9"><stop offset="0.000" stop-color="#53ff00"/><stop offset="0.094" stop-color="#3fff00"/><stop offset="0.156" stop-color="#3cff00"/><stop offset="0.375" stop-color="#48ff00"/><stop offset="0.469" stop-color="#45ff00"/><stop offset="0.688" stop-color="#2dff00"/><stop offset="0.750" stop-color="#21ff00"/><stop offset="0.781" stop-color="#15ff00"/><stop offset="0.812" stop-color="#00ff0a"/><stop offset="0.844" stop-color="#00ff4b"/><stop offset="0.906" stop-color="#00ffb4"/><stop offset="0.938" stop-color="#00ffee"/><stop offset="0.969" stop-color="#00e8ff"/><stop offset="1.000" stop-color="#00b6ff"/></linearGradient>
<linearGradient id="m109" gradientUnits="userSpaceOnUse" x1="947.2" y1="470.5" x2="1167.1" y2="339.5"><stop offset="0.000" stop-color="#44ff00"/><stop offset="0.062" stop-color="#34ff00"/><stop offset="0.125" stop-color="#2dff00"/><stop offset="0.219" stop-color="#30ff00"/><stop offset="0.344" stop-color="#3eff00"/><stop offset="0.438" stop-color="#40ff00"/><stop offset="0.531" stop-color="#3bff00"/><stop offset="0.719" stop-color="#22ff00"/><stop offset="0.781" stop-color="#06ff00"/><stop offset="0.812" stop-color="#00ff36"/><stop offset="0.938" stop-color="#00fbff"/><stop offset="0.969" stop-color="#00d9ff"/><stop offset="1.000" stop-color="#00a2ff"/></linearGradient>
<linearGradient id="m110" gradientUnits="userSpaceOnUse" x1="948.8" y1="471.2" x2="1168.7" y2="340.0"><stop offset="0.000" stop-color="#34ff00"/><stop offset="0.094" stop-color="#1eff00"/><stop offset="0.156" stop-color="#1cff00"/><stop offset="0.219" stop-color="#20ff00"/><stop offset="0.375" stop-color="#35ff00"/><stop offset="0.500" stop-color="#36ff00"/><stop offset="0.656" stop-color="#26ff00"/><stop offset="0.719" stop-color="#16ff00"/><stop offset="0.750" stop-color="#08ff00"/><stop offset="0.781" stop-color="#00ff27"/><stop offset="0.875" stop-color="#00ffb1"/><stop offset="0.906" stop-color="#00ffe4"/><stop offset="0.938" stop-color="#00f0ff"/><stop offset="0.969" stop-color="#00c9ff"/><stop offset="1.000" stop-color="#008eff"/></linearGradient>
<linearGradient id="m111" gradientUnits="userSpaceOnUse" x1="950.5" y1="471.9" x2="1170.3" y2="340.6"><stop offset="0.000" stop-color="#21ff00"/><stop offset="0.062" stop-color="#0eff00"/><stop offset="0.156" stop-color="#07ff00"/><stop offset="0.406" stop-color="#2bff00"/><stop offset="0.531" stop-color="#2aff00"/><stop offset="0.625" stop-color="#20ff00"/><stop offset="0.688" stop-color="#13ff00"/><stop offset="0.719" stop-color="#07ff00"/><stop offset="0.750" stop-color="#00ff21"/><stop offset="0.844" stop-color="#00ff9c"/><stop offset="0.875" stop-color="#00ffc9"/><stop offset="0.906" stop-color="#00fffe"/><stop offset="0.938" stop-color="#00e3ff"/><stop offset="0.969" stop-color="#00b6ff"/><stop offset="1.000" stop-color="#0079ff"/></linearGradient>
<linearGradient id="m112" gradientUnits="userSpaceOnUse" x1="952.1" y1="472.6" x2="1171.8" y2="341.2"><stop offset="0.000" stop-color="#08ff00"/><stop offset="0.031" stop-color="#00ff1b"/><stop offset="0.062" stop-color="#00ff2f"/><stop offset="0.094" stop-color="#00ff37"/><stop offset="0.156" stop-color="#00ff34"/><stop offset="0.188" stop-color="#00ff2c"/><stop offset="0.219" stop-color="#00ff21"/><stop offset="0.281" stop-color="#04ff00"/><stop offset="0.406" stop-color="#1dff00"/><stop offset="0.469" stop-color="#20ff00"/><stop offset="0.594" stop-color="#17ff00"/><stop offset="0.656" stop-color="#0cff00"/><stop offset="0.688" stop-color="#00ff00"/><stop offset="0.812" stop-color="#00ff8d"/><stop offset="0.875" stop-color="#00ffe1"/><stop offset="0.906" stop-color="#00f4ff"/><stop offset="0.938" stop-color="#00d4ff"/><stop offset="0.969" stop-color="#00a3ff"/><stop offset="1.000" stop-color="#0064ff"/></linearGradient>
<linearGradient id="m113" gradientUnits="userSpaceOnUse" x1="953.8" y1="473.3" x2="1173.4" y2="341.7"><stop offset="0.000" stop-color="#00ff4e"/><stop offset="0.031" stop-color="#00ff62"/><stop offset="0.062" stop-color="#00ff6d"/><stop offset="0.125" stop-color="#00ff71"/><stop offset="0.156" stop-color="#00ff6a"/><stop offset="0.250" stop-color="#00ff43"/><stop offset="0.344" stop-color="#00ff0c"/><stop offset="0.375" stop-color="#05ff00"/><stop offset="0.438" stop-color="#0fff00"/><stop offset="0.500" stop-color="#10ff00"/><stop offset="0.625" stop-color="#00ff02"/><stop offset="0.719" stop-color="#00ff49"/><stop offset="0.781" stop-color="#00ff84"/><stop offset="0.844" stop-color="#00ffcc"/><stop offset="0.875" stop-color="#00fffc"/><stop offset="0.906" stop-color="#00e8ff"/><stop offset="0.938" stop-color="#00c3ff"/><stop offset="0.969" stop-color="#008eff"/><stop offset="1.000" stop-color="#004fff"/></linearGradient>
<linearGradient id="m114" gradientUnits="userSpaceOnUse" x1="955.4" y1="474.1" x2="1174.9" y2="342.3"><stop offset="0.000" stop-color="#00ff77"/><stop offset="0.031" stop-color="#00ff85"/><stop offset="0.094" stop-color="#00ff92"/><stop offset="0.125" stop-color="#00ff93"/><stop offset="0.188" stop-color="#00ff8b"/><stop offset="0.219" stop-color="#00ff81"/><stop offset="0.281" stop-color="#00ff5d"/><stop offset="0.406" stop-color="#00ff22"/><stop offset="0.469" stop-color="#00ff13"/><stop offset="0.531" stop-color="#00ff15"/><stop offset="0.625" stop-color="#00ff32"/><stop offset="0.719" stop-color="#00ff68"/><stop offset="0.781" stop-color="#00ff9d"/><stop offset="0.844" stop-color="#00ffe5"/><stop offset="0.875" stop-color="#00f5ff"/><stop offset="0.906" stop-color="#00dbff"/><stop offset="0.938" stop-color="#00b0ff"/><stop offset="0.969" stop-color="#0079ff"/><stop offset="1.000" stop-color="#003aff"/></linearGradient>
<linearGradient id="m115" gradientUnits="userSpaceOnUse" x1="957.0" y1="474.8" x2="1176.5" y2="342.9"><stop offset="0.000" stop-color="#00ff94"/><stop offset="0.062" stop-color="#00ffa7"/><stop offset="0.094" stop-color="#00ffab"/><stop offset="0.188" stop-color="#00ffa7"/><stop offset="0.250" stop-color="#00ff97"/><stop offset="0.344" stop-color="#00ff64"/><stop offset="0.406" stop-color="#00ff4c"/><stop offset="0.469" stop-color="#00ff40"/><stop offset="0.531" stop-color="#00ff41"/><stop offset="0.625" stop-color="#00ff56"/><stop offset="0.688" stop-color="#00ff71"/><stop offset="0.719" stop-color="#00ff84"/><stop offset="0.781" stop-color="#00ffb5"/><stop offset="0.812" stop-color="#00ffd6"/><stop offset="0.844" stop-color="#00feff"/><stop offset="0.875" stop-color="#00eaff"/><stop offset="0.906" stop-color="#00caff"/><stop offset="0.938" stop-color="#009cff"/><stop offset="0.969" stop-color="#0064ff"/><stop offset="1.000" stop-color="#0023ff"/></linearGradient>
<linearGradient id="m116" gradientUnits="userSpaceOnUse" x1="958.7" y1="475.5" x2="1178.1" y2="343.5"><stop offset="0.000" stop-color="#00ffab"/><stop offset="0.031" stop-color="#00ffb6"/><stop offset="0.094" stop-color="#00ffc1"/><stop offset="0.188" stop-color="#00ffbe"/><stop offset="0.281" stop-color="#00ffa8"/><stop offset="0.406" stop-color="#00ff6e"/><stop offset="0.469" stop-color="#00ff62"/><stop offset="0.531" stop-color="#00ff63"/><stop offset="0.625" stop-color="#00ff74"/><stop offset="0.688" stop-color="#00ff8d"/><stop offset="0.750" stop-color="#00ffb3"/><stop offset="0.781" stop-color="#00ffcd"/><stop offset="0.812" stop-color="#00fff2"/><stop offset="0.844" stop-color="#00f3ff"/><stop offset="0.875" stop-color="#00dcff"/><stop offset="0.906" stop-color="#00b8ff"/><stop offset="0.938" stop-color="#0087ff"/><stop offset="0.969" stop-color="#004eff"/><stop offset="1.000" stop-color="#000cff"/></linearGradient>
<linearGradient id="m117" gradientUnits="userSpaceOnUse" x1="960.3" y1="476.2" x2="1179.6" y2="344.0"><stop offset="0.000" stop-color="#00ffc3"/><stop offset="0.062" stop-color="#00ffd6"/><stop offset="0.156" stop-color="#00ffd9"/><stop offset="0.281" stop-color="#00ffc1"/><stop offset="0.375" stop-color="#00ffa1"/><stop offset="0.438" stop-color="#00ff86"/><stop offset="0.531" stop-color="#00ff80"/><stop offset="0.625" stop-color="#00ff8f"/><stop offset="0.688" stop-color="#00ffa5"/><stop offset="0.750" stop-color="#00ffcb"/><stop offset="0.781" stop-color="#00ffe9"/><stop offset="0.812" stop-color="#00faff"/><stop offset="0.844" stop-color="#00e8ff"/><stop offset="0.875" stop-color="#00ccff"/><stop offset="0.906" stop-color="#00a3ff"/><stop offset="0.969" stop-color="#0039ff"/><stop offset="1.000" stop-color="#0900ff"/></linearGradient>
<linearGradient id="m118" gradientUnits="userSpaceOnUse" x1="962.0" y1="477.0" x2="1181.2" y2="344.6"><stop offset="0.000" stop-color="#00ffdf"/><stop offset="0.062" stop-color="#00fff3"/><stop offset="0.156" stop-color="#00fff3"/><stop offset="0.250" stop-color="#00ffe0"/><stop offset="0.469" stop-color="#00ffa1"/><stop offset="0.531" stop-color="#00ff9b"/><stop offset="0.594" stop-color="#00ffa2"/><stop offset="0.656" stop-color="#00ffb1"/><stop offset="0.719" stop-color="#00ffd0"/><stop offset="0.781" stop-color="#00fdff"/><stop offset="0.844" stop-color="#00daff"/><stop offset="0.875" stop-color="#00b9ff"/><stop offset="0.906" stop-color="#008eff"/><stop offset="0.938" stop-color="#005cff"/><stop offset="0.969" stop-color="#0023ff"/><stop offset="1.000" stop-color="#1300ff"/></linearGradient>
<linearGradient id="m119" gradientUnits="userSpaceOnUse" x1="963.6" y1="477.7" x2="1182.7" y2="345.2"><stop offset="0.000" stop-color="#00fffe"/><stop offset="0.094" stop-color="#00f5ff"/><stop offset="0.219" stop-color="#00fdff"/><stop offset="0.250" stop-color="#00fffa"/><stop offset="0.406" stop-color="#00ffcb"/><stop offset="0.469" stop-color="#00ffbf"/><stop offset="0.562" stop-color="#00ffba"/><stop offset="0.625" stop-color="#00ffc3"/><stop offset="0.656" stop-color="#00ffcd"/><stop offset="0.688" stop-color="#00ffda"/><stop offset="0.750" stop-color="#00feff"/><stop offset="0.812" stop-color="#00e2ff"/><stop offset="0.844" stop-color="#00c9ff"/><stop offset="0.875" stop-color="#00a5ff"/><stop offset="0.906" stop-color="#0079ff"/><stop offset="0.938" stop-color="#0047ff"/><stop offset="0.969" stop-color="#000bff"/><stop offset="1.000" stop-color="#1c00ff"/></linearGradient>
<linearGradient id="m120" gradientUnits="userSpaceOnUse" x1="965.2" y1="478.4" x2="1184.3" y2="345.7"><stop offset="0.000" stop-color="#00f1ff"/><stop offset="0.062" stop-color="#00e8ff"/><stop offset="0.125" stop-color="#00e7ff"/><stop offset="0.312" stop-color="#00ffff"/><stop offset="0.406" stop-color="#00ffe2"/><stop offset="0.469" stop-color="#00ffd8"/><stop offset="0.531" stop-color="#00ffd5"/><stop offset="0.625" stop-color="#00ffdf"/><stop offset="0.719" stop-color="#00fcff"/><stop offset="0.781" stop-color="#00e7ff"/><stop offset="0.812" stop-color="#00d3ff"/><stop offset="0.844" stop-color="#00b5ff"/><stop offset="0.875" stop-color="#0090ff"/><stop offset="0.938" stop-color="#0031ff"/><stop offset="0.969" stop-color="#0a00ff"/><stop offset="1.000" stop-color="#2300ff"/></linearGradient>
<linearGradient id="m121" gradientUnits="userSpaceOnUse" x1="966.9" y1="479.1" x2="1185.9" y2="346.3"><stop offset="0.000" stop-color="#00e3ff"/><stop offset="0.062" stop-color="#00d8ff"/><stop offset="0.156" stop-color="#00d8ff"/><stop offset="0.375" stop-color="#00fdff"/><stop offset="0.406" stop-color="#00fffa"/><stop offset="0.469" stop-color="#00fff0"/><stop offset="0.531" stop-color="#00ffed"/><stop offset="0.594" stop-color="#00fff2"/><stop offset="0.656" stop-color="#00feff"/><stop offset="0.719" stop-color="#00f2ff"/><stop offset="0.781" stop-color="#00d8ff"/><stop offset="0.812" stop-color="#00c0ff"/><stop offset="0.844" stop-color="#00a1ff"/><stop offset="0.875" stop-color="#007aff"/><stop offset="0.906" stop-color="#004eff"/><stop offset="0.938" stop-color="#001bff"/><stop offset="0.969" stop-color="#1400ff"/><stop offset="1.000" stop-color="#2900ff"/></linearGradient>
<linearGradient id="m122" gradientUnits="userSpaceOnUse" x1="968.5" y1="479.9" x2="1187.4" y2="346.9"><stop offset="0.000" stop-color="#00d3ff"/><stop offset="0.062" stop-color="#00c7ff"/><stop offset="0.156" stop-color="#00c6ff"/><stop offset="0.219" stop-color="#00ceff"/><stop offset="0.375" stop-color="#00f1ff"/><stop offset="0.469" stop-color="#00fbff"/><stop offset="0.562" stop-color="#00fcff"/><stop offset="0.688" stop-color="#00eeff"/><stop offset="0.750" stop-color="#00d9ff"/><stop offset="0.781" stop-color="#00c6ff"/><stop offset="0.812" stop-color="#00acff"/><stop offset="0.875" stop-color="#0065ff"/><stop offset="0.906" stop-color="#0039ff"/><stop offset="0.938" stop-color="#0000ff"/><stop offset="0.969" stop-color="#1c00ff"/><stop offset="1.000" stop-color="#2e00ff"/></linearGradient>
<linearGradient id="m123" gradientUnits="userSpaceOnUse" x1="970.2" y1="480.6" x2="1189.0" y2="347.5"><stop offset="0.000" stop-color="#00c3ff"/><stop offset="0.062" stop-color="#00b6ff"/><stop offset="0.125" stop-color="#00b2ff"/><stop offset="0.219" stop-color="#00bbff"/><stop offset="0.375" stop-color="#00e2ff"/><stop offset="0.438" stop-color="#00edff"/><stop offset="0.562" stop-color="#00f1ff"/><stop offset="0.656" stop-color="#00e8ff"/><stop offset="0.719" stop-color="#00d7ff"/><stop offset="0.750" stop-color="#00c8ff"/><stop offset="0.781" stop-color="#00b2ff"/><stop offset="0.844" stop-color="#0076ff"/><stop offset="0.875" stop-color="#0050ff"/><stop offset="0.906" stop-color="#0023ff"/><stop offset="0.938" stop-color="#0d00ff"/><stop offset="1.000" stop-color="#3300ff"/></linearGradient>
<linearGradient id="m124" gradientUnits="userSpaceOnUse" x1="971.8" y1="481.3" x2="1190.5" y2="348.0"><stop offset="0.000" stop-color="#00b2ff"/><stop offset="0.094" stop-color="#00a1ff"/><stop offset="0.188" stop-color="#00a4ff"/><stop offset="0.281" stop-color="#00b6ff"/><stop offset="0.438" stop-color="#00ddff"/><stop offset="0.500" stop-color="#00e4ff"/><stop offset="0.625" stop-color="#00dfff"/><stop offset="0.688" stop-color="#00d1ff"/><stop offset="0.719" stop-color="#00c5ff"/><stop offset="0.781" stop-color="#009dff"/><stop offset="0.844" stop-color="#0060ff"/><stop offset="0.875" stop-color="#003aff"/><stop offset="0.906" stop-color="#000bff"/><stop offset="0.938" stop-color="#1600ff"/><stop offset="1.000" stop-color="#3700ff"/></linearGradient>
<linearGradient id="m125" gradientUnits="userSpaceOnUse" x1="973.4" y1="482.0" x2="1192.1" y2="348.6"><stop offset="0.000" stop-color="#00a0ff"/><stop offset="0.062" stop-color="#0091ff"/><stop offset="0.156" stop-color="#008fff"/><stop offset="0.250" stop-color="#009cff"/><stop offset="0.469" stop-color="#00cfff"/><stop offset="0.562" stop-color="#00d3ff"/><stop offset="0.625" stop-color="#00cdff"/><stop offset="0.688" stop-color="#00bdff"/><stop offset="0.750" stop-color="#009eff"/><stop offset="0.812" stop-color="#006cff"/><stop offset="0.875" stop-color="#0024ff"/><stop offset="0.906" stop-color="#0900ff"/><stop offset="0.938" stop-color="#1e00ff"/><stop offset="1.000" stop-color="#3c00ff"/></linearGradient>
<linearGradient id="m126" gradientUnits="userSpaceOnUse" x1="975.1" y1="482.7" x2="1193.7" y2="349.2"><stop offset="0.000" stop-color="#008cff"/><stop offset="0.062" stop-color="#007cff"/><stop offset="0.156" stop-color="#007aff"/><stop offset="0.250" stop-color="#0089ff"/><stop offset="0.469" stop-color="#00baff"/><stop offset="0.562" stop-color="#00bfff"/><stop offset="0.625" stop-color="#00b9ff"/><stop offset="0.688" stop-color="#00a8ff"/><stop offset="0.750" stop-color="#0089ff"/><stop offset="0.812" stop-color="#0057ff"/><stop offset="0.844" stop-color="#0036ff"/><stop offset="0.875" stop-color="#000dff"/><stop offset="0.906" stop-color="#1300ff"/><stop offset="1.000" stop-color="#4000ff"/></linearGradient>
<linearGradient id="m127" gradientUnits="userSpaceOnUse" x1="976.7" y1="483.5" x2="1195.2" y2="349.7"><stop offset="0.000" stop-color="#0076ff"/><stop offset="0.031" stop-color="#006cff"/><stop offset="0.094" stop-color="#0062ff"/><stop offset="0.156" stop-color="#0064ff"/><stop offset="0.219" stop-color="#006eff"/><stop offset="0.438" stop-color="#00a1ff"/><stop offset="0.500" stop-color="#00a9ff"/><stop offset="0.594" stop-color="#00a8ff"/><stop offset="0.688" stop-color="#0093ff"/><stop offset="0.750" stop-color="#0073ff"/><stop offset="0.812" stop-color="#0041ff"/><stop offset="0.844" stop-color="#0020ff"/><stop offset="0.875" stop-color="#0900ff"/><stop offset="1.000" stop-color="#4500ff"/></linearGradient>
<linearGradient id="m128" gradientUnits="userSpaceOnUse" x1="978.4" y1="484.2" x2="1196.8" y2="350.3"><stop offset="0.000" stop-color="#005eff"/><stop offset="0.062" stop-color="#004eff"/><stop offset="0.156" stop-color="#004dff"/><stop offset="0.219" stop-color="#0057ff"/><stop offset="0.406" stop-color="#0088ff"/><stop offset="0.500" stop-color="#0094ff"/><stop offset="0.594" stop-color="#0093ff"/><stop offset="0.656" stop-color="#0088ff"/><stop offset="0.719" stop-color="#0070ff"/><stop offset="0.781" stop-color="#0048ff"/><stop offset="0.812" stop-color="#002cff"/><stop offset="0.844" stop-color="#0008ff"/><stop offset="0.875" stop-color="#1300ff"/><stop offset="1.000" stop-color="#4900ff"/></linearGradient>
<linearGradient id="m129" gradientUnits="userSpaceOnUse" x1="980.0" y1="484.9" x2="1198.4" y2="350.9"><stop offset="0.000" stop-color="#0046ff"/><stop offset="0.062" stop-color="#0036ff"/><stop offset="0.125" stop-color="#0033ff"/><stop offset="0.219" stop-color="#0040ff"/><stop offset="0.406" stop-color="#0074ff"/><stop offset="0.500" stop-color="#0080ff"/><stop offset="0.594" stop-color="#007eff"/><stop offset="0.656" stop-color="#0073ff"/><stop offset="0.719" stop-color="#005bff"/><stop offset="0.781" stop-color="#0033ff"/><stop offset="0.812" stop-color="#0015ff"/><stop offset="0.844" stop-color="#0b00ff"/><stop offset="1.000" stop-color="#4d00ff"/></linearGradient>
<linearGradient id="m130" gradientUnits="userSpaceOnUse" x1="981.6" y1="485.6" x2="1199.9" y2="351.4"><stop offset="0.000" stop-color="#002eff"/><stop offset="0.062" stop-color="#001eff"/><stop offset="0.156" stop-color="#001eff"/><stop offset="0.250" stop-color="#0031ff"/><stop offset="0.406" stop-color="#005fff"/><stop offset="0.500" stop-color="#006cff"/><stop offset="0.562" stop-color="#006cff"/><stop offset="0.625" stop-color="#0065ff"/><stop offset="0.688" stop-color="#0054ff"/><stop offset="0.750" stop-color="#0034ff"/><stop offset="0.812" stop-color="#0400ff"/><stop offset="0.875" stop-color="#2200ff"/><stop offset="1.000" stop-color="#5100ff"/></linearGradient>
<linearGradient id="m131" gradientUnits="userSpaceOnUse" x1="983.3" y1="486.4" x2="1201.5" y2="352.0"><stop offset="0.000" stop-color="#0016ff"/><stop offset="0.062" stop-color="#0005ff"/><stop offset="0.125" stop-color="#0001ff"/><stop offset="0.219" stop-color="#0011ff"/><stop offset="0.406" stop-color="#0049ff"/><stop offset="0.469" stop-color="#0054ff"/><stop offset="0.531" stop-color="#0058ff"/><stop offset="0.594" stop-color="#0054ff"/><stop offset="0.656" stop-color="#0049ff"/><stop offset="0.719" stop-color="#0030ff"/><stop offset="0.750" stop-color="#001eff"/><stop offset="0.781" stop-color="#0003ff"/><stop offset="0.812" stop-color="#1000ff"/><stop offset="1.000" stop-color="#5500ff"/></linearGradient>
<linearGradient id="m132" gradientUnits="userSpaceOnUse" x1="984.9" y1="487.1" x2="1203.0" y2="352.6"><stop offset="0.000" stop-color="#0400ff"/><stop offset="0.062" stop-color="#0c00ff"/><stop offset="0.125" stop-color="#0d00ff"/><stop offset="0.250" stop-color="#0100ff"/><stop offset="0.406" stop-color="#0032ff"/><stop offset="0.469" stop-color="#003eff"/><stop offset="0.531" stop-color="#0042ff"/><stop offset="0.594" stop-color="#003fff"/><stop offset="0.656" stop-color="#0033ff"/><stop offset="0.719" stop-color="#001aff"/><stop offset="0.750" stop-color="#0005ff"/><stop offset="0.781" stop-color="#0c00ff"/><stop offset="1.000" stop-color="#5900ff"/></linearGradient>
<linearGradient id="m133" gradientUnits="userSpaceOnUse" x1="986.5" y1="487.8" x2="1204.6" y2="353.2"><stop offset="0.000" stop-color="#1000ff"/><stop offset="0.062" stop-color="#1600ff"/><stop offset="0.188" stop-color="#1400ff"/><stop offset="0.312" stop-color="#0400ff"/><stop offset="0.438" stop-color="#0022ff"/><stop offset="0.531" stop-color="#002cff"/><stop offset="0.594" stop-color="#0029ff"/><stop offset="0.656" stop-color="#001dff"/><stop offset="0.688" stop-color="#0012ff"/><stop offset="0.719" stop-color="#0100ff"/><stop offset="1.000" stop-color="#5d00ff"/></linearGradient>
<linearGradient id="m134" gradientUnits="userSpaceOnUse" x1="988.2" y1="488.5" x2="1206.2" y2="353.7"><stop offset="0.000" stop-color="#1900ff"/><stop offset="0.094" stop-color="#1f00ff"/><stop offset="0.188" stop-color="#1c00ff"/><stop offset="0.406" stop-color="#0000ff"/><stop offset="0.469" stop-color="#0010ff"/><stop offset="0.531" stop-color="#0015ff"/><stop offset="0.594" stop-color="#0012ff"/><stop offset="0.656" stop-color="#0003ff"/><stop offset="0.875" stop-color="#3700ff"/><stop offset="1.000" stop-color="#6100ff"/></linearGradient>
<linearGradient id="m135" gradientUnits="userSpaceOnUse" x1="989.8" y1="489.3" x2="1207.7" y2="354.3"><stop offset="0.000" stop-color="#2100ff"/><stop offset="0.156" stop-color="#2500ff"/><stop offset="0.469" stop-color="#0700ff"/><stop offset="0.594" stop-color="#0600ff"/><stop offset="0.656" stop-color="#0c00ff"/><stop offset="0.781" stop-color="#2400ff"/><stop offset="0.875" stop-color="#3c00ff"/><stop offset="1.000" stop-color="#6400ff"/></linearGradient>
<linearGradient id="m136" gradientUnits="userSpaceOnUse" x1="991.5" y1="490.0" x2="1209.3" y2="354.9"><stop offset="0.000" stop-color="#2800ff"/><stop offset="0.062" stop-color="#2d00ff"/><stop offset="0.156" stop-color="#2c00ff"/><stop offset="0.469" stop-color="#1100ff"/><stop offset="0.594" stop-color="#1100ff"/><stop offset="0.688" stop-color="#1900ff"/><stop offset="0.781" stop-color="#2a00ff"/><stop offset="0.875" stop-color="#4100ff"/><stop offset="1.000" stop-color="#6700ff"/></linearGradient>
<linearGradient id="m137" gradientUnits="userSpaceOnUse" x1="993.1" y1="490.7" x2="1210.8" y2="355.4"><stop offset="0.000" stop-color="#3000ff"/><stop offset="0.094" stop-color="#3400ff"/><stop offset="0.188" stop-color="#3100ff"/><stop offset="0.469" stop-color="#1a00ff"/><stop offset="0.594" stop-color="#1900ff"/><stop offset="0.688" stop-color="#2000ff"/><stop offset="0.781" stop-color="#2f00ff"/><stop offset="1.000" stop-color="#6a00ff"/></linearGradient>
<linearGradient id="m138" gradientUnits="userSpaceOnUse" x1="994.7" y1="491.4" x2="1212.4" y2="356.0"><stop offset="0.000" stop-color="#3600ff"/><stop offset="0.156" stop-color="#3900ff"/><stop offset="0.469" stop-color="#2100ff"/><stop offset="0.594" stop-color="#2000ff"/><stop offset="0.750" stop-color="#2f00ff"/><stop offset="0.844" stop-color="#4200ff"/><stop offset="1.000" stop-color="#6c00fd"/></linearGradient>
<linearGradient id="m139" gradientUnits="userSpaceOnUse" x1="996.4" y1="492.1" x2="1214.0" y2="356.6"><stop offset="0.000" stop-color="#3d00ff"/><stop offset="0.156" stop-color="#3f00ff"/><stop offset="0.438" stop-color="#2900ff"/><stop offset="0.625" stop-color="#2800ff"/><stop offset="0.750" stop-color="#3400ff"/><stop offset="0.969" stop-color="#6700ff"/><stop offset="1.000" stop-color="#6e00fb"/></linearGradient>
<linearGradient id="m140" gradientUnits="userSpaceOnUse" x1="998.0" y1="492.9" x2="1215.5" y2="357.2"><stop offset="0.000" stop-color="#4300ff"/><stop offset="0.156" stop-color="#4500ff"/><stop offset="0.438" stop-color="#2f00ff"/><stop offset="0.594" stop-color="#2c00ff"/><stop offset="0.781" stop-color="#3e00ff"/><stop offset="0.969" stop-color="#6a00ff"/><stop offset="1.000" stop-color="#6f00f9"/></linearGradient>
<linearGradient id="m141" gradientUnits="userSpaceOnUse" x1="999.7" y1="493.6" x2="1217.1" y2="357.7"><stop offset="0.000" stop-color="#4900ff"/><stop offset="0.188" stop-color="#4900ff"/><stop offset="0.438" stop-color="#3500ff"/><stop offset="0.625" stop-color="#3300ff"/><stop offset="0.781" stop-color="#4300ff"/><stop offset="0.938" stop-color="#6600ff"/><stop offset="1.000" stop-color="#7100f7"/></linearGradient>
<linearGradient id="m142" gradientUnits="userSpaceOnUse" x1="1001.3" y1="494.3" x2="1218.6" y2="358.3"><stop offset="0.000" stop-color="#4e00ff"/><stop offset="0.188" stop-color="#4e00ff"/><stop offset="0.469" stop-color="#3900ff"/><stop offset="0.625" stop-color="#3800ff"/><stop offset="0.750" stop-color="#4300ff"/><stop offset="0.938" stop-color="#6900ff"/><stop offset="1.000" stop-color="#7200f5"/></linearGradient>
<linearGradient id="m143" gradientUnits="userSpaceOnUse" x1="1002.9" y1="495.0" x2="1220.2" y2="358.9"><stop offset="0.000" stop-color="#5300ff"/><stop offset="0.188" stop-color="#5300ff"/><stop offset="0.469" stop-color="#3f00ff"/><stop offset="0.594" stop-color="#3d00ff"/><stop offset="0.750" stop-color="#4800ff"/><stop offset="0.906" stop-color="#6500ff"/><stop offset="1.000" stop-color="#7300f3"/></linearGradient>
<linearGradient id="m144" gradientUnits="userSpaceOnUse" x1="1003.8" y1="495.4" x2="1221.0" y2="359.2"><stop offset="0.000" stop-color="#5600ff"/><stop offset="0.156" stop-color="#5700ff"/><stop offset="0.438" stop-color="#4300ff"/><stop offset="0.594" stop-color="#3f00ff"/><stop offset="0.750" stop-color="#4a00ff"/><stop offset="0.906" stop-color="#6700ff"/><stop offset="1.000" stop-color="#7400f2"/></linearGradient>
<linearGradient id="m145" gradientUnits="userSpaceOnUse" x1="1006.5" y1="496.6" x2="1223.6" y2="360.1"><stop offset="0.000" stop-color="#5d00ff"/><stop offset="0.219" stop-color="#5b00ff"/><stop offset="0.469" stop-color="#4a00ff"/><stop offset="0.625" stop-color="#4800ff"/><stop offset="0.750" stop-color="#5200ff"/><stop offset="0.906" stop-color="#6b00fe"/><stop offset="1.000" stop-color="#7600ef"/></linearGradient>
<linearGradient id="m146" gradientUnits="userSpaceOnUse" x1="1012.0" y1="499.0" x2="1228.8" y2="362.0"><stop offset="0.000" stop-color="#6900ff"/><stop offset="0.125" stop-color="#6a00ff"/><stop offset="0.594" stop-color="#5700ff"/><stop offset="0.688" stop-color="#5a00ff"/><stop offset="0.844" stop-color="#6b00fe"/><stop offset="1.000" stop-color="#7900e9"/></linearGradient>
<linearGradient id="m147" gradientUnits="userSpaceOnUse" x1="1017.4" y1="501.4" x2="1234.0" y2="363.9"><stop offset="0.000" stop-color="#7000f8"/><stop offset="0.219" stop-color="#6f00f9"/><stop offset="0.531" stop-color="#6400ff"/><stop offset="0.750" stop-color="#6a00ff"/><stop offset="1.000" stop-color="#7c00e5"/></linearGradient>
<linearGradient id="m148" gradientUnits="userSpaceOnUse" x1="1022.9" y1="503.8" x2="1239.2" y2="365.8"><stop offset="0.000" stop-color="#7400f1"/><stop offset="0.625" stop-color="#6d00fc"/><stop offset="0.781" stop-color="#7100f6"/><stop offset="1.000" stop-color="#7e00e0"/></linearGradient>
<linearGradient id="m149" gradientUnits="userSpaceOnUse" x1="1028.3" y1="506.2" x2="1244.4" y2="367.7"><stop offset="0.000" stop-color="#7800eb"/><stop offset="0.625" stop-color="#7200f5"/><stop offset="0.750" stop-color="#7500f1"/><stop offset="1.000" stop-color="#7f00dd"/></linearGradient>
<linearGradient id="m150" gradientUnits="userSpaceOnUse" x1="1033.8" y1="508.7" x2="1249.6" y2="369.6"><stop offset="0.000" stop-color="#7b00e6"/><stop offset="0.594" stop-color="#7600ef"/><stop offset="0.781" stop-color="#7900ea"/><stop offset="1.000" stop-color="#8000da"/></linearGradient>
<linearGradient id="m151" gradientUnits="userSpaceOnUse" x1="1039.3" y1="511.1" x2="1254.8" y2="371.5"><stop offset="0.000" stop-color="#7f00de"/><stop offset="0.656" stop-color="#7a00e9"/><stop offset="1.000" stop-color="#8100d8"/></linearGradient>
<linearGradient id="m152" gradientUnits="userSpaceOnUse" x1="1044.7" y1="513.5" x2="1260.0" y2="373.4"><stop offset="0.000" stop-color="#8100d9"/><stop offset="0.625" stop-color="#7d00e2"/><stop offset="1.000" stop-color="#8200d6"/></linearGradient>
<linearGradient id="m153" gradientUnits="userSpaceOnUse" x1="1050.2" y1="515.9" x2="1265.2" y2="375.3"><stop offset="0.000" stop-color="#8200d5"/><stop offset="0.562" stop-color="#8100d9"/><stop offset="1.000" stop-color="#8200d5"/></linearGradient>
</defs>
<path d="M785.2 399.0L1012.9 283.0L1013.9 283.4L786.3 399.5Z" fill="#8200d6" stroke="#8200d6"/>
<path d="M786.3 399.5L1013.9 283.4L1015.0 283.8L787.4 400.0Z" fill="#8000db" stroke="#8000db"/>
<path d="M787.4 400.0L1015.0 283.8L1016.0 284.1L788.5 400.4Z" fill="url(#m1)" stroke="url(#m1)"/>
<path d="M788.5 400.4L1016.0 284.1L1017.1 284.5L789.6 400.9Z" fill="url(#m2)" stroke="url(#m2)"/>
<path d="M789.6 400.9L1017.1 284.5L1018.1 284.9L790.7 401.4Z" fill="url(#m3)" stroke="url(#m3)"/>
<path d="M790.7 401.4L1018.1 284.9L1019.1 285.3L791.8 401.9Z" fill="url(#m4)" stroke="url(#m4)"/>
<path d="M791.8 401.9L1019.1 285.3L1020.2 285.7L792.8 402.4Z" fill="url(#m5)" stroke="url(#m5)"/>
<path d="M792.8 402.4L1020.2 285.7L1021.2 286.0L793.9 402.9Z" fill="url(#m6)" stroke="url(#m6)"/>
<path d="M793.9 402.9L1021.2 286.0L1022.3 286.4L795.0 403.3Z" fill="url(#m7)" stroke="url(#m7)"/>
<path d="M795.0 403.3L1022.3 286.4L1023.3 286.8L796.1 403.8Z" fill="url(#m8)" stroke="url(#m8)"/>
<path d="M796.1 403.8L1023.3 286.8L1024.3 287.2L797.2 404.3Z" fill="url(#m9)" stroke="url(#m9)"/>
<path d="M797.2 404.3L1024.3 287.2L1025.4 287.6L798.3 404.8Z" fill="url(#m10)" stroke="url(#m10)"/>
<path d="M798.3 404.8L1025.4 287.6L1026.4 288.0L799.4 405.3Z" fill="url(#m11)" stroke="url(#m11)"/>
<path d="M799.4 405.3L1026.4 288.0L1027.5 288.3L800.5 405.7Z" fill="url(#m12)" stroke="url(#m12)"/>
<path d="M800.5 405.7L1027.5 288.3L1028.5 288.7L801.6 406.2Z" fill="url(#m13)" stroke="url(#m13)"/>
<path d="M801.6 406.2L1028.5 288.7L1029.5 289.1L802.7 406.7Z" fill="url(#m14)" stroke="url(#m14)"/>
<path d="M802.7 406.7L1029.5 289.1L1030.6 289.5L803.8 407.2Z" fill="url(#m15)" stroke="url(#m15)"/>
<path d="M803.8 407.2L1030.6 289.5L1031.6 289.9L804.9 407.7Z" fill="url(#m16)" stroke="url(#m16)"/>
<path d="M804.9 407.7L1031.6 289.9L1032.7 290.2L806.0 408.2Z" fill="url(#m17)" stroke="url(#m17)"/>
<path d="M806.0 408.2L1032.7 290.2L1033.7 290.6L807.1 408.6Z" fill="url(#m18)" stroke="url(#m18)"/>
<path d="M807.1 408.6L1033.7 290.6L1034.7 291.0L808.1 409.1Z" fill="url(#m19)" stroke="url(#m19)"/>
<path d="M808.1 409.1L1034.7 291.0L1035.8 291.4L809.2 409.6Z" fill="url(#m20)" stroke="url(#m20)"/>
<path d="M809.2 409.6L1035.8 291.4L1036.8 291.8L810.3 410.1Z" fill="url(#m21)" stroke="url(#m21)"/>
<path d="M810.3 410.1L1036.8 291.8L1037.9 292.1L811.4 410.6Z" fill="url(#m22)" stroke="url(#m22)"/>
<path d="M811.4 410.6L1037.9 292.1L1038.9 292.5L812.5 411.1Z" fill="url(#m23)" stroke="url(#m23)"/>
<path d="M812.5 411.1L1038.9 292.5L1040.0 292.9L813.6 411.5Z" fill="url(#m24)" stroke="url(#m24)"/>
<path d="M813.6 411.5L1040.0 292.9L1041.0 293.3L814.7 412.0Z" fill="url(#m25)" stroke="url(#m25)"/>
<path d="M814.7 412.0L1041.0 293.3L1042.0 293.7L815.8 412.5Z" fill="url(#m26)" stroke="url(#m26)"/>
<path d="M815.8 412.5L1042.0 293.7L1043.1 294.0L816.9 413.0Z" fill="url(#m27)" stroke="url(#m27)"/>
<path d="M816.9 413.0L1043.1 294.0L1044.1 294.4L818.0 413.5Z" fill="url(#m28)" stroke="url(#m28)"/>
<path d="M818.0 413.5L1044.1 294.4L1045.2 294.8L819.1 413.9Z" fill="url(#m29)" stroke="url(#m29)"/>
<path d="M819.1 413.9L1045.2 294.8L1046.2 295.2L820.2 414.4Z" fill="url(#m30)" stroke="url(#m30)"/>
<path d="M820.2 414.4L1046.2 295.2L1047.2 295.6L821.3 414.9Z" fill="url(#m31)" stroke="url(#m31)"/>
<path d="M821.3 414.9L1047.2 295.6L1048.3 295.9L822.4 415.4Z" fill="url(#m32)" stroke="url(#m32)"/>
<path d="M822.4 415.4L1048.3 295.9L1049.3 296.3L823.4 415.9Z" fill="url(#m33)" stroke="url(#m33)"/>
<path d="M823.4 415.9L1049.3 296.3L1050.4 296.7L824.5 416.4Z" fill="url(#m34)" stroke="url(#m34)"/>
<path d="M824.5 416.4L1050.4 296.7L1051.4 297.1L825.6 416.8Z" fill="url(#m35)" stroke="url(#m35)"/>
<path d="M825.6 416.8L1051.4 297.1L1052.4 297.5L826.7 417.3Z" fill="url(#m36)" stroke="url(#m36)"/>
<path d="M826.7 417.3L1052.4 297.5L1053.5 297.9L827.8 417.8Z" fill="url(#m37)" stroke="url(#m37)"/>
<path d="M827.8 417.8L1053.5 297.9L1054.5 298.2L828.9 418.3Z" fill="#ff0000" stroke="#ff0000"/>
<path d="M828.9 418.3L1054.5 298.2L1055.6 298.6L830.0 418.8Z" fill="#ff0000" stroke="#ff0000"/>
<path d="M830.0 418.8L1055.6 298.6L1056.6 299.0L831.1 419.2Z" fill="#ff0000" stroke="#ff0000"/>
<path d="M831.1 419.2L1056.6 299.0L1057.6 299.4L832.2 419.7Z" fill="#ff0000" stroke="#ff0000"/>
<path d="M832.2 419.7L1057.6 299.4L1058.7 299.8L833.3 420.2Z" fill="#ff0000" stroke="#ff0000"/>
<path d="M833.3 420.2L1058.7 299.8L1059.7 300.1L834.4 420.7Z" fill="url(#m38)" stroke="url(#m38)"/>
<path d="M834.4 420.7L1059.7 300.1L1060.8 300.5L835.5 421.2Z" fill="url(#m39)" stroke="url(#m39)"/>
<path d="M835.5 421.2L1060.8 300.5L1061.8 300.9L836.6 421.7Z" fill="url(#m40)" stroke="url(#m40)"/>
<path d="M836.6 421.7L1061.8 300.9L1062.8 301.3L837.7 422.1Z" fill="url(#m41)" stroke="url(#m41)"/>
<path d="M837.7 422.1L1062.8 301.3L1063.9 301.7L838.7 422.6Z" fill="url(#m42)" stroke="url(#m42)"/>
<path d="M838.7 422.6L1063.9 301.7L1064.9 302.0L839.8 423.1Z" fill="url(#m43)" stroke="url(#m43)"/>
<path d="M839.8 423.1L1064.9 302.0L1066.5 302.6L841.5 423.8Z" fill="url(#m44)" stroke="url(#m44)"/>
<path d="M841.5 423.8L1066.5 302.6L1068.0 303.2L843.1 424.5Z" fill="url(#m45)" stroke="url(#m45)"/>
<path d="M843.1 424.5L1068.0 303.2L1069.6 303.8L844.8 425.3Z" fill="url(#m46)" stroke="url(#m46)"/>
<path d="M844.8 425.3L1069.6 303.8L1071.2 304.3L846.4 426.0Z" fill="url(#m47)" stroke="url(#m47)"/>
<path d="M846.4 426.0L1071.2 304.3L1072.7 304.9L848.0 426.7Z" fill="url(#m48)" stroke="url(#m48)"/>
<path d="M848.0 426.7L1072.7 304.9L1074.3 305.5L849.7 427.4Z" fill="url(#m49)" stroke="url(#m49)"/>
<path d="M849.7 427.4L1074.3 305.5L1075.8 306.0L851.3 428.2Z" fill="url(#m50)" stroke="url(#m50)"/>
<path d="M851.3 428.2L1075.8 306.0L1077.4 306.6L853.0 428.9Z" fill="url(#m51)" stroke="url(#m51)"/>
<path d="M853.0 428.9L1077.4 306.6L1079.0 307.2L854.6 429.6Z" fill="url(#m52)" stroke="url(#m52)"/>
<path d="M854.6 429.6L1079.0 307.2L1080.5 307.8L856.2 430.3Z" fill="url(#m53)" stroke="url(#m53)"/>
<path d="M856.2 430.3L1080.5 307.8L1082.1 308.3L857.9 431.1Z" fill="url(#m54)" stroke="url(#m54)"/>
<path d="M857.9 431.1L1082.1 308.3L1083.6 308.9L859.5 431.8Z" fill="url(#m55)" stroke="url(#m55)"/>
<path d="M859.5 431.8L1083.6 308.9L1085.2 309.5L861.1 432.5Z" fill="url(#m56)" stroke="url(#m56)"/>
<path d="M861.1 432.5L1085.2 309.5L1086.8 310.0L862.8 433.2Z" fill="url(#m57)" stroke="url(#m57)"/>
<path d="M862.8 433.2L1086.8 310.0L1088.3 310.6L864.4 433.9Z" fill="url(#m58)" stroke="url(#m58)"/>
<path d="M864.4 433.9L1088.3 310.6L1089.9 311.2L866.1 434.7Z" fill="url(#m59)" stroke="url(#m59)"/>
<path d="M866.1 434.7L1089.9 311.2L1091.5 311.8L867.7 435.4Z" fill="url(#m60)" stroke="url(#m60)"/>
<path d="M867.7 435.4L1091.5 311.8L1093.0 312.3L869.3 436.1Z" fill="url(#m61)" stroke="url(#m61)"/>
<path d="M869.3 436.1L1093.0 312.3L1094.6 312.9L871.0 436.8Z" fill="url(#m62)" stroke="url(#m62)"/>
<path d="M871.0 436.8L1094.6 312.9L1096.1 313.5L872.6 437.6Z" fill="url(#m63)" stroke="url(#m63)"/>
<path d="M872.6 437.6L1096.1 313.5L1097.7 314.0L874.3 438.3Z" fill="url(#m64)" stroke="url(#m64)"/>
<path d="M874.3 438.3L1097.7 314.0L1099.3 314.6L875.9 439.0Z" fill="url(#m65)" stroke="url(#m65)"/>
<path d="M875.9 439.0L1099.3 314.6L1100.8 315.2L877.5 439.7Z" fill="url(#m66)" stroke="url(#m66)"/>
<path d="M877.5 439.7L1100.8 315.2L1102.4 315.7L879.2 440.5Z" fill="url(#m67)" stroke="url(#m67)"/>
<path d="M879.2 440.5L1102.4 315.7L1103.9 316.3L880.8 441.2Z" fill="url(#m68)" stroke="url(#m68)"/>
<path d="M880.8 441.2L1103.9 316.3L1105.5 316.9L882.5 441.9Z" fill="url(#m69)" stroke="url(#m69)"/>
<path d="M882.5 441.9L1105.5 316.9L1107.1 317.5L884.1 442.6Z" fill="url(#m70)" stroke="url(#m70)"/>
<path d="M884.1 442.6L1107.1 317.5L1108.6 318.0L885.7 443.3Z" fill="url(#m71)" stroke="url(#m71)"/>
<path d="M885.7 443.3L1108.6 318.0L1110.2 318.6L887.4 444.1Z" fill="url(#m72)" stroke="url(#m72)"/>
<path d="M887.4 444.1L1110.2 318.6L1111.7 319.2L889.0 444.8Z" fill="url(#m73)" stroke="url(#m73)"/>
<path d="M889.0 444.8L1111.7 319.2L1113.3 319.7L890.7 445.5Z" fill="url(#m74)" stroke="url(#m74)"/>
<path d="M890.7 445.5L1113.3 319.7L1114.9 320.3L892.3 446.2Z" fill="url(#m75)" stroke="url(#m75)"/>
<path d="M892.3 446.2L1114.9 320.3L1116.4 320.9L893.9 447.0Z" fill="url(#m76)" stroke="url(#m76)"/>
<path d="M893.9 447.0L1116.4 320.9L1118.0 321.5L895.6 447.7Z" fill="url(#m77)" stroke="url(#m77)"/>
<path d="M895.6 447.7L1118.0 321.5L1119.5 322.0L897.2 448.4Z" fill="url(#m78)" stroke="url(#m78)"/>
<path d="M897.2 448.4L1119.5 322.0L1121.1 322.6L898.9 449.1Z" fill="url(#m79)" stroke="url(#m79)"/>
<path d="M898.9 449.1L1121.1 322.6L1122.7 323.2L900.5 449.9Z" fill="url(#m80)" stroke="url(#m80)"/>
<path d="M900.5 449.9L1122.7 323.2L1124.2 323.7L902.1 450.6Z" fill="url(#m81)" stroke="url(#m81)"/>
<path d="M902.1 450.6L1124.2 323.7L1125.8 324.3L903.8 451.3Z" fill="url(#m82)" stroke="url(#m82)"/>
<path d="M903.8 451.3L1125.8 324.3L1127.3 324.9L905.4 452.0Z" fill="url(#m83)" stroke="url(#m83)"/>
<path d="M905.4 452.0L1127.3 324.9L1128.9 325.5L907.0 452.7Z" fill="url(#m84)" stroke="url(#m84)"/>
<path d="M907.0 452.7L1128.9 325.5L1130.5 326.0L908.7 453.5Z" fill="url(#m85)" stroke="url(#m85)"/>
<path d="M908.7 453.5L1130.5 326.0L1132.0 326.6L910.3 454.2Z" fill="url(#m86)" stroke="url(#m86)"/>
<path d="M910.3 454.2L1132.0 326.6L1133.6 327.2L912.0 454.9Z" fill="url(#m87)" stroke="url(#m87)"/>
<path d="M912.0 454.9L1133.6 327.2L1135.1 327.7L913.6 455.6Z" fill="url(#m88)" stroke="url(#m88)"/>
<path d="M913.6 455.6L1135.1 327.7L1136.7 328.3L915.2 456.4Z" fill="url(#m89)" stroke="url(#m89)"/>
<path d="M915.2 456.4L1136.7 328.3L1138.3 328.9L916.9 457.1Z" fill="url(#m90)" stroke="url(#m90)"/>
<path d="M916.9 457.1L1138.3 328.9L1139.8 329.5L918.5 457.8Z" fill="url(#m91)" stroke="url(#m91)"/>
<path d="M918.5 457.8L1139.8 329.5L1141.4 330.0L920.2 458.5Z" fill="url(#m92)" stroke="url(#m92)"/>
<path d="M920.2 458.5L1141.4 330.0L1143.0 330.6L921.8 459.2Z" fill="url(#m93)" stroke="url(#m93)"/>
<path d="M921.8 459.2L1143.0 330.6L1144.5 331.2L923.4 460.0Z" fill="url(#m94)" stroke="url(#m94)"/>
<path d="M923.4 460.0L1144.5 331.2L1146.1 331.7L925.1 460.7Z" fill="url(#m95)" stroke="url(#m95)"/>
<path d="M925.1 460.7L1146.1 331.7L1147.6 332.3L926.7 461.4Z" fill="url(#m96)" stroke="url(#m96)"/>
<path d="M926.7 461.4L1147.6 332.3L1149.2 332.9L928.4 462.1Z" fill="url(#m97)" stroke="url(#m97)"/>
<path d="M928.4 462.1L1149.2 332.9L1150.8 333.5L930.0 462.9Z" fill="url(#m98)" stroke="url(#m98)"/>
<path d="M930.0 462.9L1150.8 333.5L1152.3 334.0L931.6 463.6Z" fill="url(#m99)" stroke="url(#m99)"/>
<path d="M931.6 463.6L1152.3 334.0L1153.9 334.6L933.3 464.3Z" fill="url(#m100)" stroke="url(#m100)"/>
<path d="M933.3 464.3L1153.9 334.6L1155.4 335.2L934.9 465.0Z" fill="url(#m101)" stroke="url(#m101)"/>
<path d="M934.9 465.0L1155.4 335.2L1157.0 335.7L936.6 465.8Z" fill="url(#m102)" stroke="url(#m102)"/>
<path d="M936.6 465.8L1157.0 335.7L1158.6 336.3L938.2 466.5Z" fill="url(#m103)" stroke="url(#m103)"/>
<path d="M938.2 466.5L1158.6 336.3L1160.1 336.9L939.8 467.2Z" fill="url(#m104)" stroke="url(#m104)"/>
<path d="M939.8 467.2L1160.1 336.9L1161.7 337.5L941.5 467.9Z" fill="url(#m105)" stroke="url(#m105)"/>
<path d="M941.5 467.9L1161.7 337.5L1163.2 338.0L943.1 468.6Z" fill="url(#m106)" stroke="url(#m106)"/>
<path d="M943.1 468.6L1163.2 338.0L1164.8 338.6L944.7 469.4Z" fill="url(#m107)" stroke="url(#m107)"/>
<path d="M944.7 469.4L1164.8 338.6L1166.4 339.2L946.4 470.1Z" fill="url(#m108)" stroke="url(#m108)"/>
<path d="M946.4 470.1L1166.4 339.2L1167.9 339.7L948.0 470.8Z" fill="url(#m109)" stroke="url(#m109)"/>
<path d="M948.0 470.8L1167.9 339.7L1169.5 340.3L949.7 471.5Z" fill="url(#m110)" stroke="url(#m110)"/>
<path d="M949.7 471.5L1169.5 340.3L1171.0 340.9L951.3 472.3Z" fill="url(#m111)" stroke="url(#m111)"/>
<path d="M951.3 472.3L1171.0 340.9L1172.6 341.5L952.9 473.0Z" fill="url(#m112)" stroke="url(#m112)"/>
<path d="M952.9 473.0L1172.6 341.5L1174.2 342.0L954.6 473.7Z" fill="url(#m113)" stroke="url(#m113)"/>
<path d="M954.6 473.7L1174.2 342.0L1175.7 342.6L956.2 474.4Z" fill="url(#m114)" stroke="url(#m114)"/>
<path d="M956.2 474.4L1175.7 342.6L1177.3 343.2L957.9 475.2Z" fill="url(#m115)" stroke="url(#m115)"/>
<path d="M957.9 475.2L1177.3 343.2L1178.8 343.7L959.5 475.9Z" fill="url(#m116)" stroke="url(#m116)"/>
<path d="M959.5 475.9L1178.8 343.7L1180.4 344.3L961.1 476.6Z" fill="url(#m117)" stroke="url(#m117)"/>
<path d="M961.1 476.6L1180.4 344.3L1182.0 344.9L962.8 477.3Z" fill="url(#m118)" stroke="url(#m118)"/>
<path d="M962.8 477.3L1182.0 344.9L1183.5 345.5L964.4 478.0Z" fill="url(#m119)" stroke="url(#m119)"/>
<path d="M964.4 478.0L1183.5 345.5L1185.1 346.0L966.1 478.8Z" fill="url(#m120)" stroke="url(#m120)"/>
<path d="M966.1 478.8L1185.1 346.0L1186.6 346.6L967.7 479.5Z" fill="url(#m121)" stroke="url(#m121)"/>
<path d="M967.7 479.5L1186.6 346.6L1188.2 347.2L969.3 480.2Z" fill="url(#m122)" stroke="url(#m122)"/>
<path d="M969.3 480.2L1188.2 347.2L1189.8 347.7L971.0 480.9Z" fill="url(#m123)" stroke="url(#m123)"/>
<path d="M971.0 480.9L1189.8 347.7L1191.3 348.3L972.6 481.7Z" fill="url(#m124)" stroke="url(#m124)"/>
<path d="M972.6 481.7L1191.3 348.3L1192.9 348.9L974.3 482.4Z" fill="url(#m125)" stroke="url(#m125)"/>
<path d="M974.3 482.4L1192.9 348.9L1194.4 349.4L975.9 483.1Z" fill="url(#m126)" stroke="url(#m126)"/>
<path d="M975.9 483.1L1194.4 349.4L1196.0 350.0L977.5 483.8Z" fill="url(#m127)" stroke="url(#m127)"/>
<path d="M977.5 483.8L1196.0 350.0L1197.6 350.6L979.2 484.6Z" fill="url(#m128)" stroke="url(#m128)"/>
<path d="M979.2 484.6L1197.6 350.6L1199.1 351.2L980.8 485.3Z" fill="url(#m129)" stroke="url(#m129)"/>
<path d="M980.8 485.3L1199.1 351.2L1200.7 351.7L982.5 486.0Z" fill="url(#m130)" stroke="url(#m130)"/>
<path d="M982.5 486.0L1200.7 351.7L1202.3 352.3L984.1 486.7Z" fill="url(#m131)" stroke="url(#m131)"/>
<path d="M984.1 486.7L1202.3 352.3L1203.8 352.9L985.7 487.4Z" fill="url(#m132)" stroke="url(#m132)"/>
<path d="M985.7 487.4L1203.8 352.9L1205.4 353.4L987.4 488.2Z" fill="url(#m133)" stroke="url(#m133)"/>
<path d="M987.4 488.2L1205.4 353.4L1206.9 354.0L989.0 488.9Z" fill="url(#m134)" stroke="url(#m134)"/>
<path d="M989.0 488.9L1206.9 354.0L1208.5 354.6L990.6 489.6Z" fill="url(#m135)" stroke="url(#m135)"/>
<path d="M990.6 489.6L1208.5 354.6L1210.1 355.2L992.3 490.3Z" fill="url(#m136)" stroke="url(#m136)"/>
<path d="M992.3 490.3L1210.1 355.2L1211.6 355.7L993.9 491.1Z" fill="url(#m137)" stroke="url(#m137)"/>
<path d="M993.9 491.1L1211.6 355.7L1213.2 356.3L995.6 491.8Z" fill="url(#m138)" stroke="url(#m138)"/>
<path d="M995.6 491.8L1213.2 356.3L1214.7 356.9L997.2 492.5Z" fill="url(#m139)" stroke="url(#m139)"/>
<path d="M997.2 492.5L1214.7 356.9L1216.3 357.4L998.8 493.2Z" fill="url(#m140)" stroke="url(#m140)"/>
<path d="M998.8 493.2L1216.3 357.4L1217.9 358.0L1000.5 494.0Z" fill="url(#m141)" stroke="url(#m141)"/>
<path d="M1000.5 494.0L1217.9 358.0L1219.4 358.6L1002.1 494.7Z" fill="url(#m142)" stroke="url(#m142)"/>
<path d="M1002.1 494.7L1219.4 358.6L1221.0 359.2L1003.8 495.4Z" fill="url(#m143)" stroke="url(#m143)"/>
<path d="M1003.8 495.4L1221.0 359.2L1221.0 359.2L1003.8 495.4Z" fill="url(#m144)" stroke="url(#m144)"/>
<path d="M1003.8 495.4L1221.0 359.2L1226.2 361.1L1009.2 497.8Z" fill="url(#m145)" stroke="url(#m145)"/>
<path d="M1009.2 497.8L1226.2 361.1L1231.4 363.0L1014.7 500.2Z" fill="url(#m146)" stroke="url(#m146)"/>
<path d="M1014.7 500.2L1231.4 363.0L1236.6 364.9L1020.2 502.6Z" fill="url(#m147)" stroke="url(#m147)"/>
<path d="M1020.2 502.6L1236.6 364.9L1241.8 366.8L1025.6 505.0Z" fill="url(#m148)" stroke="url(#m148)"/>
<path d="M1025.6 505.0L1241.8 366.8L1247.0 368.7L1031.1 507.5Z" fill="url(#m149)" stroke="url(#m149)"/>
<path d="M1031.1 507.5L1247.0 368.7L1252.2 370.6L1036.5 509.9Z" fill="url(#m150)" stroke="url(#m150)"/>
<path d="M1036.5 509.9L1252.2 370.6L1257.4 372.5L1042.0 512.3Z" fill="url(#m151)" stroke="url(#m151)"/>
<path d="M1042.0 512.3L1257.4 372.5L1262.6 374.4L1047.5 514.7Z" fill="url(#m152)" stroke="url(#m152)"/>
<path d="M1047.5 514.7L1262.6 374.4L1267.8 376.3L1052.9 517.1Z" fill="url(#m153)" stroke="url(#m153)"/>
<path d="M1052.9 517.1L1267.8 376.3L1273.0 378.2L1058.4 519.5Z" fill="#8200d4" stroke="#8200d4"/>
</g>
<line x1="1012.6" y1="262" x2="1012.6" y2="283.5" stroke="#a8a8a8" stroke-width="2.6"/>
<g stroke-width="0.7" stroke-linejoin="round">
<defs>
<linearGradient id="m154" gradientUnits="userSpaceOnUse" x1="776.4" y1="182.0" x2="1015.6" y2="87.5"><stop offset="0.000" stop-color="#7f00dd"/><stop offset="1.000" stop-color="#7f00de"/></linearGradient>
<linearGradient id="m155" gradientUnits="userSpaceOnUse" x1="777.2" y1="181.2" x2="1016.5" y2="86.6"><stop offset="0.000" stop-color="#7d00e3"/><stop offset="1.000" stop-color="#7c00e4"/></linearGradient>
<linearGradient id="m156" gradientUnits="userSpaceOnUse" x1="778.8" y1="179.3" x2="1018.1" y2="84.6"><stop offset="0.000" stop-color="#7400f1"/><stop offset="1.000" stop-color="#7400f2"/></linearGradient>
<linearGradient id="m157" gradientUnits="userSpaceOnUse" x1="779.5" y1="178.2" x2="1018.9" y2="83.4"><stop offset="0.000" stop-color="#6e00f9"/><stop offset="1.000" stop-color="#6e00fa"/></linearGradient>
<linearGradient id="m158" gradientUnits="userSpaceOnUse" x1="780.3" y1="177.0" x2="1019.7" y2="82.1"><stop offset="0.000" stop-color="#6500ff"/><stop offset="1.000" stop-color="#6400ff"/></linearGradient>
<linearGradient id="m159" gradientUnits="userSpaceOnUse" x1="781.1" y1="175.7" x2="1020.6" y2="80.5"><stop offset="0.000" stop-color="#5800ff"/><stop offset="0.375" stop-color="#5b00ff"/><stop offset="1.000" stop-color="#5500ff"/></linearGradient>
<linearGradient id="m160" gradientUnits="userSpaceOnUse" x1="781.8" y1="174.1" x2="1021.4" y2="78.7"><stop offset="0.000" stop-color="#4700ff"/><stop offset="0.344" stop-color="#4b00ff"/><stop offset="1.000" stop-color="#4300ff"/></linearGradient>
<linearGradient id="m161" gradientUnits="userSpaceOnUse" x1="782.6" y1="172.3" x2="1022.2" y2="76.8"><stop offset="0.000" stop-color="#3200ff"/><stop offset="0.344" stop-color="#3700ff"/><stop offset="1.000" stop-color="#2d00ff"/></linearGradient>
<linearGradient id="m162" gradientUnits="userSpaceOnUse" x1="783.3" y1="170.3" x2="1023.0" y2="74.8"><stop offset="0.000" stop-color="#1700ff"/><stop offset="0.375" stop-color="#1d00ff"/><stop offset="0.688" stop-color="#1a00ff"/><stop offset="1.000" stop-color="#1000ff"/></linearGradient>
<linearGradient id="m163" gradientUnits="userSpaceOnUse" x1="784.0" y1="168.1" x2="1023.9" y2="72.6"><stop offset="0.000" stop-color="#0028ff"/><stop offset="0.344" stop-color="#0015ff"/><stop offset="0.500" stop-color="#001eff"/><stop offset="0.688" stop-color="#001dff"/><stop offset="1.000" stop-color="#0033ff"/></linearGradient>
<linearGradient id="m164" gradientUnits="userSpaceOnUse" x1="784.8" y1="165.8" x2="1024.7" y2="70.2"><stop offset="0.000" stop-color="#0070ff"/><stop offset="0.344" stop-color="#005eff"/><stop offset="0.500" stop-color="#0067ff"/><stop offset="0.688" stop-color="#0066ff"/><stop offset="1.000" stop-color="#007dff"/></linearGradient>
<linearGradient id="m165" gradientUnits="userSpaceOnUse" x1="785.5" y1="163.6" x2="1025.5" y2="67.5"><stop offset="0.000" stop-color="#00b0ff"/><stop offset="0.344" stop-color="#009fff"/><stop offset="0.500" stop-color="#00a9ff"/><stop offset="0.688" stop-color="#00a9ff"/><stop offset="0.875" stop-color="#00baff"/><stop offset="1.000" stop-color="#00c0ff"/></linearGradient>
<linearGradient id="m166" gradientUnits="userSpaceOnUse" x1="786.2" y1="161.1" x2="1026.3" y2="64.8"><stop offset="0.000" stop-color="#00e3ff"/><stop offset="0.344" stop-color="#00d6ff"/><stop offset="0.500" stop-color="#00deff"/><stop offset="0.688" stop-color="#00deff"/><stop offset="1.000" stop-color="#00efff"/></linearGradient>
<linearGradient id="m167" gradientUnits="userSpaceOnUse" x1="786.9" y1="158.5" x2="1027.2" y2="62.2"><stop offset="0.000" stop-color="#00fff5"/><stop offset="0.156" stop-color="#00ffff"/><stop offset="0.312" stop-color="#00faff"/><stop offset="0.688" stop-color="#00ffff"/><stop offset="0.844" stop-color="#00ffec"/><stop offset="1.000" stop-color="#00ffe1"/></linearGradient>
<linearGradient id="m168" gradientUnits="userSpaceOnUse" x1="787.6" y1="155.8" x2="1028.0" y2="59.7"><stop offset="0.000" stop-color="#00ffb5"/><stop offset="0.344" stop-color="#00ffca"/><stop offset="0.500" stop-color="#00ffc0"/><stop offset="0.719" stop-color="#00ffc0"/><stop offset="0.844" stop-color="#00ffb2"/><stop offset="1.000" stop-color="#00ffa9"/></linearGradient>
<linearGradient id="m169" gradientUnits="userSpaceOnUse" x1="788.3" y1="152.9" x2="1028.8" y2="57.1"><stop offset="0.000" stop-color="#00ff74"/><stop offset="0.344" stop-color="#00ff8d"/><stop offset="0.500" stop-color="#00ff84"/><stop offset="0.688" stop-color="#00ff87"/><stop offset="0.844" stop-color="#00ff77"/><stop offset="1.000" stop-color="#00ff6e"/></linearGradient>
<linearGradient id="m170" gradientUnits="userSpaceOnUse" x1="789.0" y1="150.2" x2="1029.7" y2="54.5"><stop offset="0.000" stop-color="#00ff16"/><stop offset="0.156" stop-color="#00ff2f"/><stop offset="0.344" stop-color="#00ff44"/><stop offset="0.500" stop-color="#00ff37"/><stop offset="0.656" stop-color="#00ff3d"/><stop offset="0.719" stop-color="#00ff3b"/><stop offset="0.844" stop-color="#00ff26"/><stop offset="1.000" stop-color="#00ff16"/></linearGradient>
<linearGradient id="m171" gradientUnits="userSpaceOnUse" x1="789.7" y1="147.4" x2="1030.5" y2="52.0"><stop offset="0.000" stop-color="#2cff00"/><stop offset="0.312" stop-color="#18ff00"/><stop offset="0.469" stop-color="#1dff00"/><stop offset="0.688" stop-color="#19ff00"/><stop offset="1.000" stop-color="#28ff00"/></linearGradient>
<linearGradient id="m172" gradientUnits="userSpaceOnUse" x1="790.4" y1="144.7" x2="1031.3" y2="49.5"><stop offset="0.000" stop-color="#57ff00"/><stop offset="0.344" stop-color="#42ff00"/><stop offset="0.469" stop-color="#46ff00"/><stop offset="0.688" stop-color="#42ff00"/><stop offset="1.000" stop-color="#4eff00"/></linearGradient>
<linearGradient id="m173" gradientUnits="userSpaceOnUse" x1="791.1" y1="141.9" x2="1032.2" y2="47.1"><stop offset="0.000" stop-color="#81ff00"/><stop offset="0.344" stop-color="#6bff00"/><stop offset="0.531" stop-color="#6eff00"/><stop offset="0.719" stop-color="#69ff00"/><stop offset="1.000" stop-color="#72ff00"/></linearGradient>
<linearGradient id="m174" gradientUnits="userSpaceOnUse" x1="791.8" y1="139.1" x2="1033.0" y2="44.8"><stop offset="0.000" stop-color="#a9ff00"/><stop offset="0.344" stop-color="#93ff00"/><stop offset="0.500" stop-color="#95ff00"/><stop offset="0.688" stop-color="#8eff00"/><stop offset="1.000" stop-color="#94ff00"/></linearGradient>
<linearGradient id="m175" gradientUnits="userSpaceOnUse" x1="792.5" y1="136.3" x2="1033.8" y2="42.5"><stop offset="0.000" stop-color="#cfff00"/><stop offset="0.344" stop-color="#b9ff00"/><stop offset="0.469" stop-color="#baff00"/><stop offset="0.688" stop-color="#b2ff00"/><stop offset="1.000" stop-color="#b4ff00"/></linearGradient>
<linearGradient id="m176" gradientUnits="userSpaceOnUse" x1="793.2" y1="133.6" x2="1034.7" y2="40.2"><stop offset="0.000" stop-color="#f0ff00"/><stop offset="0.375" stop-color="#dbff00"/><stop offset="0.719" stop-color="#d2ff00"/><stop offset="1.000" stop-color="#d2ff00"/></linearGradient>
<linearGradient id="m177" gradientUnits="userSpaceOnUse" x1="793.9" y1="130.9" x2="1035.5" y2="38.1"><stop offset="0.000" stop-color="#fff200"/><stop offset="0.250" stop-color="#feff00"/><stop offset="0.688" stop-color="#efff00"/><stop offset="1.000" stop-color="#ecff00"/></linearGradient>
<linearGradient id="m178" gradientUnits="userSpaceOnUse" x1="794.7" y1="128.2" x2="1036.4" y2="35.9"><stop offset="0.000" stop-color="#ffd600"/><stop offset="0.312" stop-color="#ffe900"/><stop offset="0.688" stop-color="#fff600"/><stop offset="1.000" stop-color="#fffb00"/></linearGradient>
<linearGradient id="m179" gradientUnits="userSpaceOnUse" x1="795.4" y1="125.6" x2="1037.2" y2="33.9"><stop offset="0.000" stop-color="#ffbb00"/><stop offset="0.344" stop-color="#ffd000"/><stop offset="1.000" stop-color="#ffe600"/></linearGradient>
<linearGradient id="m180" gradientUnits="userSpaceOnUse" x1="796.1" y1="123.0" x2="1038.0" y2="32.0"><stop offset="0.000" stop-color="#ffa000"/><stop offset="0.281" stop-color="#ffb300"/><stop offset="1.000" stop-color="#ffd200"/></linearGradient>
<linearGradient id="m181" gradientUnits="userSpaceOnUse" x1="796.8" y1="120.5" x2="1038.9" y2="30.1"><stop offset="0.000" stop-color="#ff8500"/><stop offset="0.344" stop-color="#ff9d00"/><stop offset="1.000" stop-color="#ffbe00"/></linearGradient>
<linearGradient id="m182" gradientUnits="userSpaceOnUse" x1="797.5" y1="118.0" x2="1039.7" y2="28.3"><stop offset="0.000" stop-color="#ff6a00"/><stop offset="1.000" stop-color="#ffab00"/></linearGradient>
<linearGradient id="m183" gradientUnits="userSpaceOnUse" x1="798.3" y1="115.5" x2="1040.6" y2="26.6"><stop offset="0.000" stop-color="#ff4e00"/><stop offset="1.000" stop-color="#ff9900"/></linearGradient>
<linearGradient id="m184" gradientUnits="userSpaceOnUse" x1="799.0" y1="113.1" x2="1041.4" y2="24.9"><stop offset="0.000" stop-color="#ff3100"/><stop offset="1.000" stop-color="#ff8700"/></linearGradient>
<linearGradient id="m185" gradientUnits="userSpaceOnUse" x1="799.7" y1="110.8" x2="1042.2" y2="23.3"><stop offset="0.000" stop-color="#ff1000"/><stop offset="1.000" stop-color="#ff7600"/></linearGradient>
<linearGradient id="m186" gradientUnits="userSpaceOnUse" x1="800.5" y1="108.5" x2="1043.1" y2="21.9"><stop offset="0.000" stop-color="#ff0000"/><stop offset="0.188" stop-color="#ff0000"/><stop offset="0.500" stop-color="#ff2d00"/><stop offset="1.000" stop-color="#ff6600"/></linearGradient>
<linearGradient id="m187" gradientUnits="userSpaceOnUse" x1="801.2" y1="106.3" x2="1043.9" y2="20.6"><stop offset="0.000" stop-color="#ff0000"/><stop offset="0.438" stop-color="#ff0200"/><stop offset="0.562" stop-color="#ff1a00"/><stop offset="1.000" stop-color="#ff5700"/></linearGradient>
<linearGradient id="m188" gradientUnits="userSpaceOnUse" x1="801.9" y1="104.1" x2="1044.8" y2="19.4"><stop offset="0.000" stop-color="#ff0000"/><stop offset="0.594" stop-color="#ff0000"/><stop offset="0.844" stop-color="#ff3000"/><stop offset="1.000" stop-color="#ff4800"/></linearGradient>
<linearGradient id="m189" gradientUnits="userSpaceOnUse" x1="802.7" y1="102.0" x2="1045.6" y2="18.2"><stop offset="0.000" stop-color="#ff0000"/><stop offset="0.750" stop-color="#ff0000"/><stop offset="0.844" stop-color="#ff1c00"/><stop offset="1.000" stop-color="#ff3900"/></linearGradient>
<linearGradient id="m190" gradientUnits="userSpaceOnUse" x1="803.4" y1="100.0" x2="1046.4" y2="17.1"><stop offset="0.000" stop-color="#ff0000"/><stop offset="0.812" stop-color="#ff0000"/><stop offset="0.844" stop-color="#ff0300"/><stop offset="1.000" stop-color="#ff2a00"/></linearGradient>
<linearGradient id="m191" gradientUnits="userSpaceOnUse" x1="804.2" y1="98.0" x2="1047.3" y2="16.1"><stop offset="0.000" stop-color="#ff0000"/><stop offset="0.906" stop-color="#ff0000"/><stop offset="1.000" stop-color="#ff1a00"/></linearGradient>
<linearGradient id="m192" gradientUnits="userSpaceOnUse" x1="804.9" y1="96.1" x2="1048.1" y2="15.1"><stop offset="0.000" stop-color="#ff0000"/><stop offset="0.969" stop-color="#ff0000"/><stop offset="1.000" stop-color="#ff0800"/></linearGradient>
<linearGradient id="m193" gradientUnits="userSpaceOnUse" x1="808.0" y1="89.2" x2="1051.5" y2="12.1"><stop offset="0.000" stop-color="#fa0000"/><stop offset="1.000" stop-color="#ff0000"/></linearGradient>
<linearGradient id="m194" gradientUnits="userSpaceOnUse" x1="808.8" y1="87.7" x2="1052.3" y2="11.5"><stop offset="0.000" stop-color="#f10000"/><stop offset="0.344" stop-color="#f00000"/><stop offset="0.531" stop-color="#ff0000"/><stop offset="1.000" stop-color="#ff0000"/></linearGradient>
<linearGradient id="m195" gradientUnits="userSpaceOnUse" x1="809.6" y1="86.2" x2="1053.2" y2="10.9"><stop offset="0.000" stop-color="#e70000"/><stop offset="0.375" stop-color="#e50000"/><stop offset="0.594" stop-color="#ff0000"/><stop offset="1.000" stop-color="#ff0000"/></linearGradient>
<linearGradient id="m196" gradientUnits="userSpaceOnUse" x1="810.4" y1="84.9" x2="1054.0" y2="10.4"><stop offset="0.000" stop-color="#de0000"/><stop offset="0.094" stop-color="#e10000"/><stop offset="0.406" stop-color="#db0000"/><stop offset="0.656" stop-color="#ff0000"/><stop offset="1.000" stop-color="#ff0000"/></linearGradient>
<linearGradient id="m197" gradientUnits="userSpaceOnUse" x1="811.1" y1="83.8" x2="1054.8" y2="9.9"><stop offset="0.000" stop-color="#d60000"/><stop offset="0.156" stop-color="#d80000"/><stop offset="0.406" stop-color="#d10000"/><stop offset="0.688" stop-color="#fd0000"/><stop offset="1.000" stop-color="#ff0000"/></linearGradient>
<linearGradient id="m198" gradientUnits="userSpaceOnUse" x1="811.9" y1="82.7" x2="1055.7" y2="9.5"><stop offset="0.000" stop-color="#ce0000"/><stop offset="0.156" stop-color="#d00000"/><stop offset="0.406" stop-color="#c80000"/><stop offset="0.469" stop-color="#cf0000"/><stop offset="0.719" stop-color="#fe0000"/><stop offset="1.000" stop-color="#ff0000"/></linearGradient>
<linearGradient id="m199" gradientUnits="userSpaceOnUse" x1="812.8" y1="81.8" x2="1056.5" y2="9.1"><stop offset="0.000" stop-color="#c70000"/><stop offset="0.125" stop-color="#c90000"/><stop offset="0.406" stop-color="#c10000"/><stop offset="0.469" stop-color="#c60000"/><stop offset="0.625" stop-color="#e20000"/><stop offset="0.750" stop-color="#ff0000"/><stop offset="1.000" stop-color="#ff0000"/></linearGradient>
<linearGradient id="m200" gradientUnits="userSpaceOnUse" x1="813.6" y1="80.9" x2="1057.4" y2="8.8"><stop offset="0.000" stop-color="#c00000"/><stop offset="0.156" stop-color="#c20000"/><stop offset="0.406" stop-color="#ba0000"/><stop offset="0.469" stop-color="#bf0000"/><stop offset="0.625" stop-color="#da0000"/><stop offset="0.688" stop-color="#e80000"/><stop offset="0.750" stop-color="#fd0000"/><stop offset="1.000" stop-color="#ff0000"/></linearGradient>
<linearGradient id="m201" gradientUnits="userSpaceOnUse" x1="814.4" y1="80.1" x2="1058.2" y2="8.4"><stop offset="0.000" stop-color="#ba0000"/><stop offset="0.156" stop-color="#bc0000"/><stop offset="0.438" stop-color="#b60000"/><stop offset="0.656" stop-color="#d90000"/><stop offset="0.781" stop-color="#ff0000"/><stop offset="1.000" stop-color="#ff0000"/></linearGradient>
<linearGradient id="m202" gradientUnits="userSpaceOnUse" x1="815.2" y1="79.4" x2="1059.0" y2="8.1"><stop offset="0.000" stop-color="#b50000"/><stop offset="0.125" stop-color="#b70000"/><stop offset="0.344" stop-color="#b00000"/><stop offset="0.469" stop-color="#b30000"/><stop offset="0.688" stop-color="#d90000"/><stop offset="0.781" stop-color="#ff0000"/><stop offset="1.000" stop-color="#ff0000"/></linearGradient>
<linearGradient id="m203" gradientUnits="userSpaceOnUse" x1="816.0" y1="78.7" x2="1059.9" y2="7.8"><stop offset="0.000" stop-color="#b00000"/><stop offset="0.125" stop-color="#b20000"/><stop offset="0.438" stop-color="#ac0000"/><stop offset="0.500" stop-color="#b20000"/><stop offset="0.688" stop-color="#d30000"/><stop offset="0.719" stop-color="#dd0000"/><stop offset="0.781" stop-color="#fc0000"/><stop offset="1.000" stop-color="#ff0000"/></linearGradient>
<linearGradient id="m204" gradientUnits="userSpaceOnUse" x1="816.8" y1="78.1" x2="1060.7" y2="7.5"><stop offset="0.000" stop-color="#ab0000"/><stop offset="0.156" stop-color="#ad0000"/><stop offset="0.375" stop-color="#a70000"/><stop offset="0.469" stop-color="#ab0000"/><stop offset="0.594" stop-color="#bb0000"/><stop offset="0.688" stop-color="#cd0000"/><stop offset="0.719" stop-color="#d80000"/><stop offset="0.781" stop-color="#f80000"/><stop offset="0.812" stop-color="#ff0000"/><stop offset="1.000" stop-color="#ff0000"/></linearGradient>
<linearGradient id="m205" gradientUnits="userSpaceOnUse" x1="817.7" y1="77.6" x2="1061.6" y2="7.3"><stop offset="0.000" stop-color="#a80000"/><stop offset="0.125" stop-color="#aa0000"/><stop offset="0.375" stop-color="#a40000"/><stop offset="0.469" stop-color="#a70000"/><stop offset="0.625" stop-color="#bb0000"/><stop offset="0.688" stop-color="#c80000"/><stop offset="0.719" stop-color="#d20000"/><stop offset="0.781" stop-color="#f40000"/><stop offset="0.812" stop-color="#ff0000"/><stop offset="1.000" stop-color="#ff0000"/></linearGradient>
<linearGradient id="m206" gradientUnits="userSpaceOnUse" x1="818.5" y1="77.1" x2="1062.4" y2="7.3"><stop offset="0.000" stop-color="#a50000"/><stop offset="0.469" stop-color="#a50000"/><stop offset="0.594" stop-color="#b30000"/><stop offset="0.688" stop-color="#c40000"/><stop offset="0.719" stop-color="#ce0000"/><stop offset="0.812" stop-color="#ff0000"/><stop offset="1.000" stop-color="#ff0000"/></linearGradient>
<linearGradient id="m207" gradientUnits="userSpaceOnUse" x1="819.3" y1="76.8" x2="1063.2" y2="7.4"><stop offset="0.000" stop-color="#a30000"/><stop offset="0.469" stop-color="#a30000"/><stop offset="0.625" stop-color="#b50000"/><stop offset="0.688" stop-color="#c10000"/><stop offset="0.719" stop-color="#cb0000"/><stop offset="0.812" stop-color="#fe0000"/><stop offset="1.000" stop-color="#ff0000"/></linearGradient>
<linearGradient id="m208" gradientUnits="userSpaceOnUse" x1="820.1" y1="76.4" x2="1064.1" y2="7.6"><stop offset="0.000" stop-color="#a10000"/><stop offset="0.469" stop-color="#a10000"/><stop offset="0.625" stop-color="#b20000"/><stop offset="0.688" stop-color="#be0000"/><stop offset="0.719" stop-color="#c80000"/><stop offset="0.812" stop-color="#fd0000"/><stop offset="1.000" stop-color="#ff0000"/></linearGradient>
<linearGradient id="m209" gradientUnits="userSpaceOnUse" x1="821.0" y1="76.1" x2="1064.9" y2="7.8"><stop offset="0.000" stop-color="#9f0000"/><stop offset="0.406" stop-color="#9d0000"/><stop offset="0.500" stop-color="#a20000"/><stop offset="0.688" stop-color="#bb0000"/><stop offset="0.719" stop-color="#c60000"/><stop offset="0.812" stop-color="#fc0000"/><stop offset="1.000" stop-color="#ff0000"/></linearGradient>
<linearGradient id="m210" gradientUnits="userSpaceOnUse" x1="821.8" y1="75.8" x2="1065.7" y2="8.0"><stop offset="0.000" stop-color="#9e0000"/><stop offset="0.406" stop-color="#9c0000"/><stop offset="0.562" stop-color="#a70000"/><stop offset="0.656" stop-color="#b30000"/><stop offset="0.719" stop-color="#c30000"/><stop offset="0.812" stop-color="#fb0000"/><stop offset="0.844" stop-color="#ff0000"/><stop offset="1.000" stop-color="#ff0000"/></linearGradient>
<linearGradient id="m211" gradientUnits="userSpaceOnUse" x1="822.7" y1="75.6" x2="1066.6" y2="8.2"><stop offset="0.000" stop-color="#9d0000"/><stop offset="0.438" stop-color="#9c0000"/><stop offset="0.594" stop-color="#a90000"/><stop offset="0.688" stop-color="#b70000"/><stop offset="0.719" stop-color="#c20000"/><stop offset="0.812" stop-color="#fa0000"/><stop offset="0.844" stop-color="#ff0000"/><stop offset="1.000" stop-color="#ff0000"/></linearGradient>
<linearGradient id="m212" gradientUnits="userSpaceOnUse" x1="823.5" y1="75.6" x2="1067.4" y2="8.4"><stop offset="0.000" stop-color="#9c0000"/><stop offset="0.406" stop-color="#9b0000"/><stop offset="0.594" stop-color="#a80000"/><stop offset="0.656" stop-color="#b00000"/><stop offset="0.719" stop-color="#c00000"/><stop offset="0.812" stop-color="#f90000"/><stop offset="0.844" stop-color="#ff0000"/><stop offset="1.000" stop-color="#ff0000"/></linearGradient>
<linearGradient id="m213" gradientUnits="userSpaceOnUse" x1="824.4" y1="75.7" x2="1068.2" y2="8.6"><stop offset="0.000" stop-color="#9c0000"/><stop offset="0.375" stop-color="#9a0000"/><stop offset="0.500" stop-color="#9f0000"/><stop offset="0.625" stop-color="#ab0000"/><stop offset="0.688" stop-color="#b50000"/><stop offset="0.719" stop-color="#c00000"/><stop offset="0.812" stop-color="#f90000"/><stop offset="0.844" stop-color="#ff0000"/><stop offset="1.000" stop-color="#ff0000"/></linearGradient>
<linearGradient id="m214" gradientUnits="userSpaceOnUse" x1="825.1" y1="75.9" x2="1068.9" y2="8.8"><stop offset="0.000" stop-color="#9c0000"/><stop offset="0.375" stop-color="#9a0000"/><stop offset="0.500" stop-color="#9f0000"/><stop offset="0.625" stop-color="#ab0000"/><stop offset="0.688" stop-color="#b50000"/><stop offset="0.719" stop-color="#c00000"/><stop offset="0.812" stop-color="#f90000"/><stop offset="0.844" stop-color="#ff0000"/><stop offset="1.000" stop-color="#ff0000"/></linearGradient>
<linearGradient id="m215" gradientUnits="userSpaceOnUse" x1="826.2" y1="76.4" x2="1070.0" y2="9.1"><stop offset="0.000" stop-color="#9c0000"/><stop offset="0.406" stop-color="#9b0000"/><stop offset="0.594" stop-color="#a80000"/><stop offset="0.656" stop-color="#b00000"/><stop offset="0.719" stop-color="#c00000"/><stop offset="0.812" stop-color="#f90000"/><stop offset="0.844" stop-color="#ff0000"/><stop offset="1.000" stop-color="#ff0000"/></linearGradient>
<linearGradient id="m216" gradientUnits="userSpaceOnUse" x1="828.0" y1="77.3" x2="1071.7" y2="9.6"><stop offset="0.000" stop-color="#9c0000"/><stop offset="0.406" stop-color="#9b0000"/><stop offset="0.594" stop-color="#a90000"/><stop offset="0.656" stop-color="#b10000"/><stop offset="0.719" stop-color="#c10000"/><stop offset="0.812" stop-color="#fa0000"/><stop offset="0.844" stop-color="#ff0000"/><stop offset="1.000" stop-color="#ff0000"/></linearGradient>
<linearGradient id="m217" gradientUnits="userSpaceOnUse" x1="829.7" y1="78.4" x2="1073.4" y2="10.2"><stop offset="0.000" stop-color="#9d0000"/><stop offset="0.406" stop-color="#9c0000"/><stop offset="0.594" stop-color="#aa0000"/><stop offset="0.688" stop-color="#b90000"/><stop offset="0.719" stop-color="#c30000"/><stop offset="0.812" stop-color="#fb0000"/><stop offset="0.844" stop-color="#ff0000"/><stop offset="1.000" stop-color="#ff0000"/></linearGradient>
<linearGradient id="m218" gradientUnits="userSpaceOnUse" x1="831.5" y1="79.5" x2="1075.0" y2="10.9"><stop offset="0.000" stop-color="#9e0000"/><stop offset="0.406" stop-color="#9d0000"/><stop offset="0.500" stop-color="#a20000"/><stop offset="0.625" stop-color="#b00000"/><stop offset="0.688" stop-color="#bc0000"/><stop offset="0.719" stop-color="#c60000"/><stop offset="0.812" stop-color="#fd0000"/><stop offset="1.000" stop-color="#ff0000"/></linearGradient>
<linearGradient id="m219" gradientUnits="userSpaceOnUse" x1="833.2" y1="80.7" x2="1076.7" y2="11.8"><stop offset="0.000" stop-color="#a00000"/><stop offset="0.469" stop-color="#a10000"/><stop offset="0.625" stop-color="#b30000"/><stop offset="0.688" stop-color="#bf0000"/><stop offset="0.719" stop-color="#ca0000"/><stop offset="0.812" stop-color="#ff0000"/><stop offset="1.000" stop-color="#ff0000"/></linearGradient>
<linearGradient id="m220" gradientUnits="userSpaceOnUse" x1="835.0" y1="82.1" x2="1078.4" y2="12.7"><stop offset="0.000" stop-color="#a20000"/><stop offset="0.375" stop-color="#a00000"/><stop offset="0.469" stop-color="#a40000"/><stop offset="0.625" stop-color="#b70000"/><stop offset="0.688" stop-color="#c40000"/><stop offset="0.719" stop-color="#d00000"/><stop offset="0.781" stop-color="#f40000"/><stop offset="0.812" stop-color="#ff0000"/><stop offset="1.000" stop-color="#ff0000"/></linearGradient>
<linearGradient id="m221" gradientUnits="userSpaceOnUse" x1="836.7" y1="83.6" x2="1080.0" y2="13.8"><stop offset="0.000" stop-color="#a60000"/><stop offset="0.406" stop-color="#a30000"/><stop offset="0.469" stop-color="#a70000"/><stop offset="0.688" stop-color="#ca0000"/><stop offset="0.719" stop-color="#d60000"/><stop offset="0.781" stop-color="#f90000"/><stop offset="0.812" stop-color="#ff0000"/><stop offset="1.000" stop-color="#ff0000"/></linearGradient>
<linearGradient id="m222" gradientUnits="userSpaceOnUse" x1="838.5" y1="85.2" x2="1081.7" y2="15.0"><stop offset="0.000" stop-color="#aa0000"/><stop offset="0.438" stop-color="#a90000"/><stop offset="0.656" stop-color="#ca0000"/><stop offset="0.719" stop-color="#de0000"/><stop offset="0.781" stop-color="#fe0000"/><stop offset="1.000" stop-color="#ff0000"/></linearGradient>
<linearGradient id="m223" gradientUnits="userSpaceOnUse" x1="840.2" y1="86.9" x2="1083.3" y2="16.6"><stop offset="0.000" stop-color="#af0000"/><stop offset="0.438" stop-color="#ae0000"/><stop offset="0.656" stop-color="#d30000"/><stop offset="0.781" stop-color="#ff0000"/><stop offset="1.000" stop-color="#ff0000"/></linearGradient>
<linearGradient id="m224" gradientUnits="userSpaceOnUse" x1="842.0" y1="88.8" x2="1085.0" y2="18.3"><stop offset="0.000" stop-color="#b50000"/><stop offset="0.438" stop-color="#b50000"/><stop offset="0.656" stop-color="#df0000"/><stop offset="0.750" stop-color="#ff0000"/><stop offset="1.000" stop-color="#ff0000"/></linearGradient>
<linearGradient id="m225" gradientUnits="userSpaceOnUse" x1="843.8" y1="90.9" x2="1086.6" y2="20.2"><stop offset="0.000" stop-color="#bd0000"/><stop offset="0.125" stop-color="#c00000"/><stop offset="0.406" stop-color="#bb0000"/><stop offset="0.469" stop-color="#c40000"/><stop offset="0.719" stop-color="#fc0000"/><stop offset="1.000" stop-color="#ff0000"/></linearGradient>
<linearGradient id="m226" gradientUnits="userSpaceOnUse" x1="845.6" y1="93.1" x2="1088.3" y2="22.0"><stop offset="0.000" stop-color="#c60000"/><stop offset="0.156" stop-color="#c90000"/><stop offset="0.375" stop-color="#c40000"/><stop offset="0.438" stop-color="#ca0000"/><stop offset="0.688" stop-color="#fe0000"/><stop offset="1.000" stop-color="#ff0000"/></linearGradient>
<linearGradient id="m227" gradientUnits="userSpaceOnUse" x1="847.4" y1="95.3" x2="1089.9" y2="23.9"><stop offset="0.000" stop-color="#cf0000"/><stop offset="0.094" stop-color="#d30000"/><stop offset="0.375" stop-color="#cf0000"/><stop offset="0.438" stop-color="#d70000"/><stop offset="0.625" stop-color="#fe0000"/><stop offset="1.000" stop-color="#ff0000"/></linearGradient>
<linearGradient id="m228" gradientUnits="userSpaceOnUse" x1="849.2" y1="97.4" x2="1091.5" y2="25.9"><stop offset="0.000" stop-color="#d90000"/><stop offset="0.094" stop-color="#dd0000"/><stop offset="0.375" stop-color="#dc0000"/><stop offset="0.562" stop-color="#ff0000"/><stop offset="1.000" stop-color="#ff0000"/></linearGradient>
<linearGradient id="m229" gradientUnits="userSpaceOnUse" x1="850.9" y1="99.7" x2="1093.2" y2="27.8"><stop offset="0.000" stop-color="#e30000"/><stop offset="0.156" stop-color="#e80000"/><stop offset="0.344" stop-color="#e70000"/><stop offset="0.406" stop-color="#ed0000"/><stop offset="0.500" stop-color="#ff0000"/><stop offset="0.969" stop-color="#ff0000"/><stop offset="1.000" stop-color="#ff1200"/></linearGradient>
<linearGradient id="m230" gradientUnits="userSpaceOnUse" x1="852.7" y1="102.0" x2="1094.8" y2="29.8"><stop offset="0.000" stop-color="#ec0000"/><stop offset="0.094" stop-color="#f10000"/><stop offset="0.344" stop-color="#f30000"/><stop offset="0.438" stop-color="#ff0000"/><stop offset="0.906" stop-color="#ff0000"/><stop offset="0.938" stop-color="#ff0500"/><stop offset="1.000" stop-color="#ff2600"/></linearGradient>
<linearGradient id="m231" gradientUnits="userSpaceOnUse" x1="854.5" y1="104.4" x2="1096.5" y2="31.6"><stop offset="0.000" stop-color="#f50000"/><stop offset="0.344" stop-color="#ff0000"/><stop offset="0.875" stop-color="#ff0000"/><stop offset="0.906" stop-color="#ff0a00"/><stop offset="1.000" stop-color="#ff3600"/></linearGradient>
<linearGradient id="m232" gradientUnits="userSpaceOnUse" x1="856.3" y1="106.7" x2="1098.1" y2="33.3"><stop offset="0.000" stop-color="#fd0000"/><stop offset="0.844" stop-color="#ff0000"/><stop offset="0.938" stop-color="#ff2c00"/><stop offset="1.000" stop-color="#ff4400"/></linearGradient>
<linearGradient id="m233" gradientUnits="userSpaceOnUse" x1="858.1" y1="109.0" x2="1099.7" y2="34.9"><stop offset="0.000" stop-color="#ff0000"/><stop offset="0.812" stop-color="#ff0000"/><stop offset="0.875" stop-color="#ff2000"/><stop offset="1.000" stop-color="#ff5000"/></linearGradient>
<linearGradient id="m234" gradientUnits="userSpaceOnUse" x1="859.9" y1="111.4" x2="1101.4" y2="36.5"><stop offset="0.000" stop-color="#ff0000"/><stop offset="0.781" stop-color="#ff0000"/><stop offset="0.844" stop-color="#ff2200"/><stop offset="1.000" stop-color="#ff5b00"/></linearGradient>
<linearGradient id="m235" gradientUnits="userSpaceOnUse" x1="861.7" y1="113.7" x2="1103.0" y2="38.1"><stop offset="0.000" stop-color="#ff0000"/><stop offset="0.719" stop-color="#ff0000"/><stop offset="0.750" stop-color="#ff0400"/><stop offset="0.844" stop-color="#ff3200"/><stop offset="1.000" stop-color="#ff6600"/></linearGradient>
<linearGradient id="m236" gradientUnits="userSpaceOnUse" x1="863.4" y1="116.1" x2="1104.7" y2="39.8"><stop offset="0.000" stop-color="#ff0000"/><stop offset="0.688" stop-color="#ff0200"/><stop offset="0.812" stop-color="#ff3700"/><stop offset="1.000" stop-color="#ff7300"/></linearGradient>
<linearGradient id="m237" gradientUnits="userSpaceOnUse" x1="865.2" y1="118.5" x2="1106.3" y2="41.6"><stop offset="0.000" stop-color="#ff0000"/><stop offset="0.594" stop-color="#ff0000"/><stop offset="0.844" stop-color="#ff5300"/><stop offset="1.000" stop-color="#ff8000"/></linearGradient>
<linearGradient id="m238" gradientUnits="userSpaceOnUse" x1="867.0" y1="120.9" x2="1107.9" y2="43.6"><stop offset="0.000" stop-color="#ff0000"/><stop offset="0.500" stop-color="#ff0000"/><stop offset="0.531" stop-color="#ff0400"/><stop offset="0.594" stop-color="#ff1e00"/><stop offset="0.750" stop-color="#ff4600"/><stop offset="1.000" stop-color="#ff8f00"/></linearGradient>
<linearGradient id="m239" gradientUnits="userSpaceOnUse" x1="868.8" y1="123.3" x2="1109.5" y2="45.7"><stop offset="0.000" stop-color="#ff0000"/><stop offset="0.438" stop-color="#ff0000"/><stop offset="0.469" stop-color="#ff0400"/><stop offset="0.500" stop-color="#ff1500"/><stop offset="0.562" stop-color="#ff2c00"/><stop offset="1.000" stop-color="#ff9e00"/></linearGradient>
<linearGradient id="m240" gradientUnits="userSpaceOnUse" x1="870.6" y1="125.9" x2="1111.2" y2="47.8"><stop offset="0.000" stop-color="#ff0000"/><stop offset="0.375" stop-color="#ff0000"/><stop offset="0.406" stop-color="#ff0500"/><stop offset="0.500" stop-color="#ff2f00"/><stop offset="0.594" stop-color="#ff4c00"/><stop offset="0.719" stop-color="#ff6500"/><stop offset="1.000" stop-color="#ffad00"/></linearGradient>
<linearGradient id="m241" gradientUnits="userSpaceOnUse" x1="872.4" y1="128.8" x2="1112.8" y2="49.9"><stop offset="0.000" stop-color="#ff0000"/><stop offset="0.281" stop-color="#ff0000"/><stop offset="0.562" stop-color="#ff5900"/><stop offset="0.781" stop-color="#ff8700"/><stop offset="1.000" stop-color="#ffbd00"/></linearGradient>
<linearGradient id="m242" gradientUnits="userSpaceOnUse" x1="874.2" y1="132.0" x2="1114.4" y2="52.0"><stop offset="0.000" stop-color="#ff0000"/><stop offset="0.156" stop-color="#ff0000"/><stop offset="0.219" stop-color="#ff1700"/><stop offset="0.375" stop-color="#ff3900"/><stop offset="0.562" stop-color="#ff7000"/><stop offset="0.750" stop-color="#ff9300"/><stop offset="1.000" stop-color="#ffcc00"/></linearGradient>
<linearGradient id="m243" gradientUnits="userSpaceOnUse" x1="876.0" y1="135.4" x2="1116.0" y2="54.1"><stop offset="0.000" stop-color="#ff0000"/><stop offset="0.031" stop-color="#ff0000"/><stop offset="0.219" stop-color="#ff3800"/><stop offset="0.406" stop-color="#ff5b00"/><stop offset="0.594" stop-color="#ff8d00"/><stop offset="0.750" stop-color="#ffa700"/><stop offset="1.000" stop-color="#ffdb00"/></linearGradient>
<linearGradient id="m244" gradientUnits="userSpaceOnUse" x1="877.8" y1="138.8" x2="1117.6" y2="56.2"><stop offset="0.000" stop-color="#ff1c00"/><stop offset="0.188" stop-color="#ff4e00"/><stop offset="0.406" stop-color="#ff7400"/><stop offset="0.594" stop-color="#ffa200"/><stop offset="0.781" stop-color="#ffbf00"/><stop offset="1.000" stop-color="#ffeb00"/></linearGradient>
<linearGradient id="m245" gradientUnits="userSpaceOnUse" x1="879.6" y1="142.4" x2="1119.3" y2="58.4"><stop offset="0.000" stop-color="#ff3f00"/><stop offset="0.125" stop-color="#ff5d00"/><stop offset="0.375" stop-color="#ff8700"/><stop offset="0.594" stop-color="#ffb700"/><stop offset="0.781" stop-color="#ffd200"/><stop offset="1.000" stop-color="#fffc00"/></linearGradient>
<linearGradient id="m246" gradientUnits="userSpaceOnUse" x1="881.4" y1="146.0" x2="1120.9" y2="60.6"><stop offset="0.000" stop-color="#ff5e00"/><stop offset="0.188" stop-color="#ff8400"/><stop offset="0.375" stop-color="#ff9f00"/><stop offset="0.594" stop-color="#ffcc00"/><stop offset="0.906" stop-color="#fffb00"/><stop offset="1.000" stop-color="#f2ff00"/></linearGradient>
<linearGradient id="m247" gradientUnits="userSpaceOnUse" x1="883.3" y1="149.6" x2="1122.5" y2="62.7"><stop offset="0.000" stop-color="#ff7b00"/><stop offset="0.156" stop-color="#ff9900"/><stop offset="0.406" stop-color="#ffbc00"/><stop offset="0.562" stop-color="#ffdb00"/><stop offset="0.812" stop-color="#fffe00"/><stop offset="1.000" stop-color="#e0ff00"/></linearGradient>
<linearGradient id="m248" gradientUnits="userSpaceOnUse" x1="885.1" y1="153.1" x2="1124.1" y2="65.0"><stop offset="0.000" stop-color="#ff9700"/><stop offset="0.188" stop-color="#ffb700"/><stop offset="0.375" stop-color="#ffce00"/><stop offset="0.656" stop-color="#fffe00"/><stop offset="0.781" stop-color="#f2ff00"/><stop offset="1.000" stop-color="#ccff00"/></linearGradient>
<linearGradient id="m249" gradientUnits="userSpaceOnUse" x1="886.9" y1="156.4" x2="1125.7" y2="67.2"><stop offset="0.000" stop-color="#ffb000"/><stop offset="0.219" stop-color="#ffd300"/><stop offset="0.406" stop-color="#ffe900"/><stop offset="0.531" stop-color="#ffff00"/><stop offset="0.812" stop-color="#d8ff00"/><stop offset="1.000" stop-color="#b6ff00"/></linearGradient>
<linearGradient id="m250" gradientUnits="userSpaceOnUse" x1="888.7" y1="159.4" x2="1127.3" y2="69.4"><stop offset="0.000" stop-color="#ffc700"/><stop offset="0.219" stop-color="#ffe800"/><stop offset="0.406" stop-color="#fffe00"/><stop offset="0.594" stop-color="#dfff00"/><stop offset="0.812" stop-color="#c2ff00"/><stop offset="1.000" stop-color="#9fff00"/></linearGradient>
<linearGradient id="m251" gradientUnits="userSpaceOnUse" x1="890.4" y1="161.8" x2="1128.9" y2="71.5"><stop offset="0.000" stop-color="#ffd700"/><stop offset="0.219" stop-color="#fff900"/><stop offset="0.344" stop-color="#f8ff00"/><stop offset="0.438" stop-color="#ebff00"/><stop offset="0.594" stop-color="#ccff00"/><stop offset="0.812" stop-color="#adff00"/><stop offset="1.000" stop-color="#8aff00"/></linearGradient>
<linearGradient id="m252" gradientUnits="userSpaceOnUse" x1="892.2" y1="163.8" x2="1130.6" y2="73.4"><stop offset="0.000" stop-color="#ffe500"/><stop offset="0.156" stop-color="#fffe00"/><stop offset="0.375" stop-color="#e5ff00"/><stop offset="0.625" stop-color="#b5ff00"/><stop offset="0.781" stop-color="#a0ff00"/><stop offset="1.000" stop-color="#76ff00"/></linearGradient>
<linearGradient id="m253" gradientUnits="userSpaceOnUse" x1="893.9" y1="165.8" x2="1132.2" y2="75.4"><stop offset="0.000" stop-color="#fff100"/><stop offset="0.094" stop-color="#fdff00"/><stop offset="0.375" stop-color="#d6ff00"/><stop offset="0.625" stop-color="#a3ff00"/><stop offset="0.781" stop-color="#8dff00"/><stop offset="1.000" stop-color="#62ff00"/></linearGradient>
<linearGradient id="m254" gradientUnits="userSpaceOnUse" x1="895.7" y1="167.7" x2="1133.8" y2="77.3"><stop offset="0.000" stop-color="#ffff00"/><stop offset="0.375" stop-color="#c6ff00"/><stop offset="0.562" stop-color="#9cff00"/><stop offset="0.781" stop-color="#79ff00"/><stop offset="1.000" stop-color="#4dff00"/></linearGradient>
<linearGradient id="m255" gradientUnits="userSpaceOnUse" x1="897.4" y1="169.8" x2="1135.4" y2="79.1"><stop offset="0.000" stop-color="#f1ff00"/><stop offset="0.188" stop-color="#cfff00"/><stop offset="0.406" stop-color="#afff00"/><stop offset="0.594" stop-color="#83ff00"/><stop offset="0.781" stop-color="#66ff00"/><stop offset="1.000" stop-color="#3aff00"/></linearGradient>
<linearGradient id="m256" gradientUnits="userSpaceOnUse" x1="899.2" y1="172.0" x2="1137.0" y2="80.7"><stop offset="0.000" stop-color="#e1ff00"/><stop offset="0.188" stop-color="#beff00"/><stop offset="0.406" stop-color="#9dff00"/><stop offset="0.594" stop-color="#71ff00"/><stop offset="0.781" stop-color="#55ff00"/><stop offset="1.000" stop-color="#2aff00"/></linearGradient>
<linearGradient id="m257" gradientUnits="userSpaceOnUse" x1="901.0" y1="174.0" x2="1138.6" y2="82.0"><stop offset="0.000" stop-color="#d0ff00"/><stop offset="0.188" stop-color="#adff00"/><stop offset="0.406" stop-color="#8dff00"/><stop offset="0.625" stop-color="#5dff00"/><stop offset="0.812" stop-color="#42ff00"/><stop offset="1.000" stop-color="#1eff00"/></linearGradient>
<linearGradient id="m258" gradientUnits="userSpaceOnUse" x1="902.7" y1="176.0" x2="1140.3" y2="82.8"><stop offset="0.000" stop-color="#c0ff00"/><stop offset="0.250" stop-color="#95ff00"/><stop offset="0.406" stop-color="#80ff00"/><stop offset="0.594" stop-color="#59ff00"/><stop offset="0.812" stop-color="#3aff00"/><stop offset="1.000" stop-color="#17ff00"/></linearGradient>
<linearGradient id="m259" gradientUnits="userSpaceOnUse" x1="904.4" y1="177.9" x2="1141.9" y2="83.5"><stop offset="0.000" stop-color="#b1ff00"/><stop offset="1.000" stop-color="#14ff00"/></linearGradient>
<linearGradient id="m260" gradientUnits="userSpaceOnUse" x1="906.2" y1="179.7" x2="1143.6" y2="84.1"><stop offset="0.000" stop-color="#a1ff00"/><stop offset="0.188" stop-color="#84ff00"/><stop offset="0.375" stop-color="#6eff00"/><stop offset="0.594" stop-color="#49ff00"/><stop offset="0.812" stop-color="#2fff00"/><stop offset="1.000" stop-color="#12ff00"/></linearGradient>
<linearGradient id="m261" gradientUnits="userSpaceOnUse" x1="907.9" y1="181.4" x2="1145.2" y2="84.7"><stop offset="0.000" stop-color="#93ff00"/><stop offset="1.000" stop-color="#10ff00"/></linearGradient>
<linearGradient id="m262" gradientUnits="userSpaceOnUse" x1="909.7" y1="182.9" x2="1146.9" y2="85.2"><stop offset="0.000" stop-color="#87ff00"/><stop offset="1.000" stop-color="#0eff00"/></linearGradient>
<linearGradient id="m263" gradientUnits="userSpaceOnUse" x1="911.4" y1="184.0" x2="1148.5" y2="85.8"><stop offset="0.000" stop-color="#7fff00"/><stop offset="1.000" stop-color="#0cff00"/></linearGradient>
<linearGradient id="m264" gradientUnits="userSpaceOnUse" x1="913.1" y1="185.0" x2="1150.1" y2="86.5"><stop offset="0.000" stop-color="#7bff00"/><stop offset="1.000" stop-color="#08ff00"/></linearGradient>
<linearGradient id="m265" gradientUnits="userSpaceOnUse" x1="914.8" y1="185.8" x2="1151.8" y2="87.3"><stop offset="0.000" stop-color="#78ff00"/><stop offset="0.969" stop-color="#05ff00"/><stop offset="1.000" stop-color="#00ff07"/></linearGradient>
<linearGradient id="m266" gradientUnits="userSpaceOnUse" x1="916.5" y1="186.6" x2="1153.4" y2="88.6"><stop offset="0.000" stop-color="#75ff00"/><stop offset="0.875" stop-color="#06ff00"/><stop offset="0.906" stop-color="#00ff04"/><stop offset="1.000" stop-color="#00ff2c"/></linearGradient>
<linearGradient id="m267" gradientUnits="userSpaceOnUse" x1="918.2" y1="187.5" x2="1155.0" y2="90.1"><stop offset="0.000" stop-color="#71ff00"/><stop offset="0.219" stop-color="#50ff00"/><stop offset="0.406" stop-color="#3bff00"/><stop offset="0.781" stop-color="#03ff00"/><stop offset="0.875" stop-color="#00ff26"/><stop offset="1.000" stop-color="#00ff4f"/></linearGradient>
<linearGradient id="m268" gradientUnits="userSpaceOnUse" x1="919.9" y1="188.6" x2="1156.6" y2="91.8"><stop offset="0.000" stop-color="#6aff00"/><stop offset="0.188" stop-color="#4bff00"/><stop offset="0.406" stop-color="#30ff00"/><stop offset="0.656" stop-color="#02ff00"/><stop offset="0.844" stop-color="#00ff41"/><stop offset="1.000" stop-color="#00ff6d"/></linearGradient>
<linearGradient id="m269" gradientUnits="userSpaceOnUse" x1="921.7" y1="190.0" x2="1158.2" y2="93.3"><stop offset="0.000" stop-color="#5fff00"/><stop offset="0.219" stop-color="#3aff00"/><stop offset="0.406" stop-color="#23ff00"/><stop offset="0.562" stop-color="#00ff01"/><stop offset="0.594" stop-color="#00ff16"/><stop offset="0.656" stop-color="#00ff2e"/><stop offset="1.000" stop-color="#00ff86"/></linearGradient>
<linearGradient id="m270" gradientUnits="userSpaceOnUse" x1="923.4" y1="191.6" x2="1159.9" y2="94.9"><stop offset="0.000" stop-color="#51ff00"/><stop offset="0.219" stop-color="#2bff00"/><stop offset="0.406" stop-color="#12ff00"/><stop offset="0.469" stop-color="#04ff00"/><stop offset="0.562" stop-color="#00ff34"/><stop offset="0.625" stop-color="#00ff4a"/><stop offset="1.000" stop-color="#00ff9f"/></linearGradient>
<linearGradient id="m271" gradientUnits="userSpaceOnUse" x1="925.1" y1="193.3" x2="1161.5" y2="96.6"><stop offset="0.000" stop-color="#42ff00"/><stop offset="0.156" stop-color="#25ff00"/><stop offset="0.375" stop-color="#04ff00"/><stop offset="0.406" stop-color="#00ff0c"/><stop offset="0.500" stop-color="#00ff3f"/><stop offset="0.594" stop-color="#00ff62"/><stop offset="1.000" stop-color="#00ffb8"/></linearGradient>
<linearGradient id="m272" gradientUnits="userSpaceOnUse" x1="926.9" y1="195.0" x2="1163.1" y2="98.3"><stop offset="0.000" stop-color="#31ff00"/><stop offset="0.250" stop-color="#01ff00"/><stop offset="0.312" stop-color="#00ff1c"/><stop offset="0.594" stop-color="#00ff7f"/><stop offset="0.812" stop-color="#00ffa7"/><stop offset="1.000" stop-color="#00ffd1"/></linearGradient>
<linearGradient id="m273" gradientUnits="userSpaceOnUse" x1="928.6" y1="197.0" x2="1164.7" y2="99.9"><stop offset="0.000" stop-color="#1dff00"/><stop offset="0.125" stop-color="#02ff00"/><stop offset="0.188" stop-color="#00ff23"/><stop offset="0.250" stop-color="#00ff3a"/><stop offset="0.406" stop-color="#00ff61"/><stop offset="0.562" stop-color="#00ff91"/><stop offset="0.656" stop-color="#00ffa5"/><stop offset="0.781" stop-color="#00ffb8"/><stop offset="1.000" stop-color="#00ffe9"/></linearGradient>
<linearGradient id="m274" gradientUnits="userSpaceOnUse" x1="930.4" y1="199.3" x2="1166.3" y2="101.4"><stop offset="0.000" stop-color="#00ff00"/><stop offset="0.031" stop-color="#00ff17"/><stop offset="0.094" stop-color="#00ff35"/><stop offset="0.188" stop-color="#00ff55"/><stop offset="0.250" stop-color="#00ff65"/><stop offset="0.438" stop-color="#00ff8a"/><stop offset="0.594" stop-color="#00ffb3"/><stop offset="0.750" stop-color="#00ffcb"/><stop offset="1.000" stop-color="#00feff"/></linearGradient>
<linearGradient id="m275" gradientUnits="userSpaceOnUse" x1="932.1" y1="202.2" x2="1167.9" y2="102.9"><stop offset="0.000" stop-color="#00ff57"/><stop offset="0.156" stop-color="#00ff7f"/><stop offset="0.375" stop-color="#00ffa2"/><stop offset="0.625" stop-color="#00ffd6"/><stop offset="0.875" stop-color="#00ffff"/><stop offset="1.000" stop-color="#00f3ff"/></linearGradient>
<linearGradient id="m276" gradientUnits="userSpaceOnUse" x1="933.9" y1="204.3" x2="1169.5" y2="104.4"><stop offset="0.000" stop-color="#00ff7d"/><stop offset="0.219" stop-color="#00ffa8"/><stop offset="0.406" stop-color="#00ffc2"/><stop offset="0.562" stop-color="#00ffe4"/><stop offset="0.688" stop-color="#00fff9"/><stop offset="0.750" stop-color="#00feff"/><stop offset="1.000" stop-color="#00e7ff"/></linearGradient>
<linearGradient id="m277" gradientUnits="userSpaceOnUse" x1="935.6" y1="206.2" x2="1171.1" y2="105.8"><stop offset="0.000" stop-color="#00ff98"/><stop offset="0.219" stop-color="#00ffc0"/><stop offset="0.406" stop-color="#00ffd9"/><stop offset="0.562" stop-color="#00fffc"/><stop offset="0.781" stop-color="#00f1ff"/><stop offset="1.000" stop-color="#00d9ff"/></linearGradient>
<linearGradient id="m278" gradientUnits="userSpaceOnUse" x1="937.3" y1="207.9" x2="1172.7" y2="107.2"><stop offset="0.000" stop-color="#00ffaf"/><stop offset="0.156" stop-color="#00ffcc"/><stop offset="0.375" stop-color="#00ffeb"/><stop offset="0.469" stop-color="#00fffe"/><stop offset="0.812" stop-color="#00e2ff"/><stop offset="1.000" stop-color="#00c8ff"/></linearGradient>
<linearGradient id="m279" gradientUnits="userSpaceOnUse" x1="939.1" y1="209.8" x2="1174.3" y2="108.5"><stop offset="0.000" stop-color="#00ffc7"/><stop offset="0.188" stop-color="#00ffea"/><stop offset="0.344" stop-color="#00ffff"/><stop offset="0.781" stop-color="#00d6ff"/><stop offset="1.000" stop-color="#00b6ff"/></linearGradient>
<linearGradient id="m280" gradientUnits="userSpaceOnUse" x1="940.8" y1="211.7" x2="1176.0" y2="109.8"><stop offset="0.000" stop-color="#00ffe4"/><stop offset="0.156" stop-color="#00feff"/><stop offset="0.438" stop-color="#00ebff"/><stop offset="0.812" stop-color="#00c0ff"/><stop offset="1.000" stop-color="#00a2ff"/></linearGradient>
<linearGradient id="m281" gradientUnits="userSpaceOnUse" x1="942.6" y1="213.7" x2="1177.6" y2="111.1"><stop offset="0.000" stop-color="#00fdff"/><stop offset="0.438" stop-color="#00dbff"/><stop offset="0.625" stop-color="#00c0ff"/><stop offset="0.781" stop-color="#00b0ff"/><stop offset="1.000" stop-color="#008eff"/></linearGradient>
<linearGradient id="m282" gradientUnits="userSpaceOnUse" x1="944.3" y1="215.6" x2="1179.2" y2="112.3"><stop offset="0.000" stop-color="#00efff"/><stop offset="0.406" stop-color="#00cbff"/><stop offset="0.594" stop-color="#00afff"/><stop offset="0.812" stop-color="#0096ff"/><stop offset="1.000" stop-color="#0079ff"/></linearGradient>
<linearGradient id="m283" gradientUnits="userSpaceOnUse" x1="946.0" y1="217.4" x2="1180.8" y2="113.6"><stop offset="0.000" stop-color="#00e0ff"/><stop offset="0.406" stop-color="#00b7ff"/><stop offset="1.000" stop-color="#0064ff"/></linearGradient>
<linearGradient id="m284" gradientUnits="userSpaceOnUse" x1="947.7" y1="218.9" x2="1182.4" y2="114.8"><stop offset="0.000" stop-color="#00d0ff"/><stop offset="0.406" stop-color="#00a3ff"/><stop offset="0.594" stop-color="#0085ff"/><stop offset="0.844" stop-color="#0067ff"/><stop offset="1.000" stop-color="#004fff"/></linearGradient>
<linearGradient id="m285" gradientUnits="userSpaceOnUse" x1="949.5" y1="220.4" x2="1184.0" y2="116.0"><stop offset="0.000" stop-color="#00c0ff"/><stop offset="0.438" stop-color="#008bff"/><stop offset="0.594" stop-color="#0070ff"/><stop offset="0.844" stop-color="#0052ff"/><stop offset="1.000" stop-color="#003aff"/></linearGradient>
<linearGradient id="m286" gradientUnits="userSpaceOnUse" x1="951.2" y1="221.7" x2="1185.6" y2="117.2"><stop offset="0.000" stop-color="#00afff"/><stop offset="0.375" stop-color="#0080ff"/><stop offset="0.594" stop-color="#005bff"/><stop offset="0.812" stop-color="#0041ff"/><stop offset="1.000" stop-color="#0023ff"/></linearGradient>
<linearGradient id="m287" gradientUnits="userSpaceOnUse" x1="952.9" y1="223.1" x2="1187.2" y2="118.3"><stop offset="0.000" stop-color="#009dff"/><stop offset="0.188" stop-color="#0081ff"/><stop offset="0.406" stop-color="#0067ff"/><stop offset="0.594" stop-color="#0046ff"/><stop offset="0.781" stop-color="#0030ff"/><stop offset="1.000" stop-color="#000cff"/></linearGradient>
<linearGradient id="m288" gradientUnits="userSpaceOnUse" x1="954.6" y1="224.5" x2="1188.9" y2="119.5"><stop offset="0.000" stop-color="#0089ff"/><stop offset="0.188" stop-color="#006cff"/><stop offset="0.406" stop-color="#0052ff"/><stop offset="0.625" stop-color="#002cff"/><stop offset="0.812" stop-color="#0015ff"/><stop offset="0.906" stop-color="#0003ff"/><stop offset="1.000" stop-color="#0900ff"/></linearGradient>
<linearGradient id="m289" gradientUnits="userSpaceOnUse" x1="956.3" y1="226.0" x2="1190.5" y2="120.6"><stop offset="0.000" stop-color="#0072ff"/><stop offset="0.188" stop-color="#0055ff"/><stop offset="0.375" stop-color="#0040ff"/><stop offset="0.625" stop-color="#0015ff"/><stop offset="0.781" stop-color="#0100ff"/><stop offset="1.000" stop-color="#1300ff"/></linearGradient>
<linearGradient id="m290" gradientUnits="userSpaceOnUse" x1="958.0" y1="227.5" x2="1192.1" y2="121.7"><stop offset="0.000" stop-color="#005aff"/><stop offset="0.188" stop-color="#003eff"/><stop offset="0.375" stop-color="#0029ff"/><stop offset="0.594" stop-color="#0100ff"/><stop offset="1.000" stop-color="#1c00ff"/></linearGradient>
<linearGradient id="m291" gradientUnits="userSpaceOnUse" x1="959.8" y1="228.9" x2="1193.7" y2="122.7"><stop offset="0.000" stop-color="#0042ff"/><stop offset="0.375" stop-color="#0011ff"/><stop offset="0.469" stop-color="#0100ff"/><stop offset="0.562" stop-color="#0b00ff"/><stop offset="1.000" stop-color="#2300ff"/></linearGradient>
<linearGradient id="m292" gradientUnits="userSpaceOnUse" x1="961.5" y1="230.3" x2="1195.3" y2="123.6"><stop offset="0.000" stop-color="#002aff"/><stop offset="0.281" stop-color="#0001ff"/><stop offset="0.625" stop-color="#1800ff"/><stop offset="1.000" stop-color="#2900ff"/></linearGradient>
<linearGradient id="m293" gradientUnits="userSpaceOnUse" x1="963.2" y1="231.7" x2="1197.0" y2="124.6"><stop offset="0.000" stop-color="#0012ff"/><stop offset="0.125" stop-color="#0300ff"/><stop offset="0.594" stop-color="#1e00ff"/><stop offset="1.000" stop-color="#2e00ff"/></linearGradient>
<linearGradient id="m294" gradientUnits="userSpaceOnUse" x1="964.9" y1="233.0" x2="1198.6" y2="125.5"><stop offset="0.000" stop-color="#0600ff"/><stop offset="0.219" stop-color="#1400ff"/><stop offset="1.000" stop-color="#3300ff"/></linearGradient>
<linearGradient id="m295" gradientUnits="userSpaceOnUse" x1="966.6" y1="234.3" x2="1200.2" y2="126.3"><stop offset="0.000" stop-color="#1100ff"/><stop offset="0.625" stop-color="#2c00ff"/><stop offset="1.000" stop-color="#3700ff"/></linearGradient>
<linearGradient id="m296" gradientUnits="userSpaceOnUse" x1="968.3" y1="235.5" x2="1201.8" y2="127.2"><stop offset="0.000" stop-color="#1a00ff"/><stop offset="1.000" stop-color="#3c00ff"/></linearGradient>
<linearGradient id="m297" gradientUnits="userSpaceOnUse" x1="970.0" y1="236.8" x2="1203.4" y2="128.1"><stop offset="0.000" stop-color="#2200ff"/><stop offset="1.000" stop-color="#4000ff"/></linearGradient>
<linearGradient id="m298" gradientUnits="userSpaceOnUse" x1="971.8" y1="238.0" x2="1205.1" y2="129.0"><stop offset="0.000" stop-color="#2a00ff"/><stop offset="1.000" stop-color="#4500ff"/></linearGradient>
<linearGradient id="m299" gradientUnits="userSpaceOnUse" x1="973.5" y1="239.2" x2="1206.7" y2="129.9"><stop offset="0.000" stop-color="#3100ff"/><stop offset="1.000" stop-color="#4900ff"/></linearGradient>
<linearGradient id="m300" gradientUnits="userSpaceOnUse" x1="975.2" y1="240.5" x2="1208.3" y2="130.8"><stop offset="0.000" stop-color="#3700ff"/><stop offset="1.000" stop-color="#4d00ff"/></linearGradient>
<linearGradient id="m301" gradientUnits="userSpaceOnUse" x1="976.9" y1="241.7" x2="1209.9" y2="131.7"><stop offset="0.000" stop-color="#3e00ff"/><stop offset="1.000" stop-color="#5100ff"/></linearGradient>
<linearGradient id="m302" gradientUnits="userSpaceOnUse" x1="978.6" y1="242.9" x2="1211.5" y2="132.6"><stop offset="0.000" stop-color="#4400ff"/><stop offset="1.000" stop-color="#5500ff"/></linearGradient>
<linearGradient id="m303" gradientUnits="userSpaceOnUse" x1="980.3" y1="244.1" x2="1213.2" y2="133.5"><stop offset="0.000" stop-color="#4a00ff"/><stop offset="1.000" stop-color="#5900ff"/></linearGradient>
<linearGradient id="m304" gradientUnits="userSpaceOnUse" x1="982.0" y1="245.3" x2="1214.8" y2="134.4"><stop offset="0.000" stop-color="#4f00ff"/><stop offset="1.000" stop-color="#5d00ff"/></linearGradient>
<linearGradient id="m305" gradientUnits="userSpaceOnUse" x1="983.7" y1="246.5" x2="1216.4" y2="135.3"><stop offset="0.000" stop-color="#5400ff"/><stop offset="1.000" stop-color="#6100ff"/></linearGradient>
<linearGradient id="m306" gradientUnits="userSpaceOnUse" x1="985.4" y1="247.6" x2="1218.0" y2="136.1"><stop offset="0.000" stop-color="#5900ff"/><stop offset="1.000" stop-color="#6400ff"/></linearGradient>
<linearGradient id="m307" gradientUnits="userSpaceOnUse" x1="987.1" y1="248.7" x2="1219.6" y2="137.0"><stop offset="0.000" stop-color="#5d00ff"/><stop offset="1.000" stop-color="#6700ff"/></linearGradient>
<linearGradient id="m308" gradientUnits="userSpaceOnUse" x1="988.8" y1="249.7" x2="1221.3" y2="137.8"><stop offset="0.000" stop-color="#6100ff"/><stop offset="1.000" stop-color="#6a00ff"/></linearGradient>
<linearGradient id="m309" gradientUnits="userSpaceOnUse" x1="990.5" y1="250.8" x2="1222.9" y2="138.6"><stop offset="0.000" stop-color="#6400ff"/><stop offset="1.000" stop-color="#6c00fd"/></linearGradient>
<linearGradient id="m310" gradientUnits="userSpaceOnUse" x1="992.2" y1="251.8" x2="1224.5" y2="139.4"><stop offset="0.000" stop-color="#6800ff"/><stop offset="1.000" stop-color="#6e00fb"/></linearGradient>
<linearGradient id="m311" gradientUnits="userSpaceOnUse" x1="993.9" y1="252.8" x2="1226.1" y2="140.2"><stop offset="0.000" stop-color="#6b00fe"/><stop offset="1.000" stop-color="#6f00f9"/></linearGradient>
<linearGradient id="m312" gradientUnits="userSpaceOnUse" x1="995.6" y1="253.8" x2="1227.7" y2="141.0"><stop offset="0.000" stop-color="#6d00fc"/><stop offset="1.000" stop-color="#7100f7"/></linearGradient>
<linearGradient id="m313" gradientUnits="userSpaceOnUse" x1="997.3" y1="254.8" x2="1229.4" y2="141.8"><stop offset="0.000" stop-color="#6e00f9"/><stop offset="1.000" stop-color="#7200f5"/></linearGradient>
<linearGradient id="m314" gradientUnits="userSpaceOnUse" x1="999.0" y1="255.7" x2="1231.0" y2="142.5"><stop offset="0.000" stop-color="#7000f7"/><stop offset="1.000" stop-color="#7300f3"/></linearGradient>
<linearGradient id="m315" gradientUnits="userSpaceOnUse" x1="999.9" y1="256.2" x2="1231.8" y2="142.9"><stop offset="0.000" stop-color="#7100f6"/><stop offset="1.000" stop-color="#7400f2"/></linearGradient>
<linearGradient id="m316" gradientUnits="userSpaceOnUse" x1="1002.7" y1="257.8" x2="1234.5" y2="144.2"><stop offset="0.000" stop-color="#7300f3"/><stop offset="1.000" stop-color="#7600ef"/></linearGradient>
<linearGradient id="m317" gradientUnits="userSpaceOnUse" x1="1008.4" y1="260.8" x2="1239.9" y2="146.7"><stop offset="0.000" stop-color="#7700ed"/><stop offset="1.000" stop-color="#7900e9"/></linearGradient>
<linearGradient id="m318" gradientUnits="userSpaceOnUse" x1="1014.0" y1="263.7" x2="1245.3" y2="149.0"><stop offset="0.000" stop-color="#7a00e8"/><stop offset="1.000" stop-color="#7c00e5"/></linearGradient>
<linearGradient id="m319" gradientUnits="userSpaceOnUse" x1="1019.7" y1="266.6" x2="1250.7" y2="151.3"><stop offset="0.000" stop-color="#7d00e3"/><stop offset="1.000" stop-color="#7e00e0"/></linearGradient>
<linearGradient id="m320" gradientUnits="userSpaceOnUse" x1="1025.3" y1="269.4" x2="1256.1" y2="153.4"><stop offset="0.000" stop-color="#7f00de"/><stop offset="1.000" stop-color="#7f00dd"/></linearGradient>
<linearGradient id="m321" gradientUnits="userSpaceOnUse" x1="1036.7" y1="274.8" x2="1267.0" y2="157.4"><stop offset="0.000" stop-color="#8100d7"/><stop offset="1.000" stop-color="#8100d8"/></linearGradient>
<linearGradient id="m322" gradientUnits="userSpaceOnUse" x1="1042.3" y1="277.3" x2="1272.4" y2="159.3"><stop offset="0.000" stop-color="#8200d5"/><stop offset="1.000" stop-color="#8200d6"/></linearGradient>
<linearGradient id="m323" gradientUnits="userSpaceOnUse" x1="1047.9" y1="279.4" x2="1277.8" y2="161.0"><stop offset="0.000" stop-color="#8200d4"/><stop offset="1.000" stop-color="#8200d5"/></linearGradient>
<linearGradient id="m324" gradientUnits="userSpaceOnUse" x1="1053.6" y1="281.5" x2="1283.3" y2="162.7"><stop offset="0.000" stop-color="#8300d4"/><stop offset="1.000" stop-color="#8200d4"/></linearGradient>
</defs>
<path d="M774.4 183.2L804.3 171.4L834.2 159.6L864.1 147.9L894.0 136.1L923.9 124.3L953.8 112.5L983.7 100.8L1013.6 89.0L1014.4 88.5L984.5 100.3L954.6 112.1L924.7 123.9L894.8 135.7L864.9 147.5L835.0 159.3L805.1 171.1L775.2 182.9Z" fill="#8200d5" stroke="#8200d5"/>
<path d="M775.2 182.9L805.1 171.1L835.0 159.3L864.9 147.5L894.8 135.7L924.7 123.9L954.6 112.1L984.5 100.3L1014.4 88.5L1015.2 87.9L985.3 99.7L955.4 111.5L925.5 123.4L895.6 135.2L865.7 147.0L835.8 158.8L805.9 170.5L776.0 182.3Z" fill="#8100d9" stroke="#8100d9"/>
<path d="M776.0 182.3L805.9 170.5L835.8 158.8L865.7 147.0L895.6 135.2L925.5 123.4L955.4 111.5L985.3 99.7L1015.2 87.9L1016.1 87.1L986.1 98.9L956.2 110.8L926.3 122.6L896.4 134.4L866.5 146.3L836.6 158.1L806.7 169.8L776.8 181.6Z" fill="url(#m154)" stroke="url(#m154)"/>
<path d="M776.8 181.6L806.7 169.8L836.6 158.1L866.5 146.3L896.4 134.4L926.3 122.6L956.2 110.8L986.1 98.9L1016.1 87.1L1016.9 86.2L987.0 98.0L957.1 109.9L927.1 121.8L897.2 133.6L867.3 145.4L837.4 157.2L807.5 169.0L777.6 180.8Z" fill="url(#m155)" stroke="url(#m155)"/>
<path d="M777.6 180.8L807.5 169.0L837.4 157.2L867.3 145.4L897.2 133.6L927.1 121.8L957.1 109.9L987.0 98.0L1016.9 86.2L1017.7 85.1L987.8 97.0L957.9 108.9L928.0 120.8L898.0 132.6L868.1 144.5L838.2 156.3L808.3 168.0L778.4 179.8Z" fill="#7900ea" stroke="#7900ea"/>
<path d="M778.4 179.8L808.3 168.0L838.2 156.3L868.1 144.5L898.0 132.6L928.0 120.8L957.9 108.9L987.8 97.0L1017.7 85.1L1018.5 84.0L988.6 95.9L958.7 107.8L928.8 119.7L898.8 131.5L868.9 143.4L839.0 155.2L809.1 167.0L779.2 178.7Z" fill="url(#m156)" stroke="url(#m156)"/>
<path d="M779.2 178.7L809.1 167.0L839.0 155.2L868.9 143.4L898.8 131.5L928.8 119.7L958.7 107.8L988.6 95.9L1018.5 84.0L1019.3 82.8L989.4 94.7L959.5 106.7L929.6 118.5L899.6 130.4L869.7 142.3L839.8 154.1L809.9 165.8L779.9 177.6Z" fill="url(#m157)" stroke="url(#m157)"/>
<path d="M779.9 177.6L809.9 165.8L839.8 154.1L869.7 142.3L899.6 130.4L929.6 118.5L959.5 106.7L989.4 94.7L1019.3 82.8L1020.2 81.3L990.2 93.3L960.3 105.3L930.4 117.3L900.4 129.1L870.5 141.1L840.6 152.9L810.6 164.6L780.7 176.3Z" fill="url(#m158)" stroke="url(#m158)"/>
<path d="M780.7 176.3L810.6 164.6L840.6 152.9L870.5 141.1L900.4 129.1L930.4 117.3L960.3 105.3L990.2 93.3L1020.2 81.3L1021.0 79.7L991.0 91.7L961.1 103.8L931.2 115.8L901.2 127.6L871.3 139.7L841.4 151.5L811.4 163.2L781.5 174.9Z" fill="url(#m159)" stroke="url(#m159)"/>
<path d="M781.5 174.9L811.4 163.2L841.4 151.5L871.3 139.7L901.2 127.6L931.2 115.8L961.1 103.8L991.0 91.7L1021.0 79.7L1021.8 77.8L991.8 89.8L961.9 102.0L932.0 114.0L902.0 125.9L872.1 138.0L842.1 149.8L812.2 161.5L782.2 173.2Z" fill="url(#m160)" stroke="url(#m160)"/>
<path d="M782.2 173.2L812.2 161.5L842.1 149.8L872.1 138.0L902.0 125.9L932.0 114.0L961.9 102.0L991.8 89.8L1021.8 77.8L1022.6 75.8L992.7 87.9L962.7 100.1L932.7 112.1L902.8 124.0L872.8 136.1L842.9 147.9L812.9 159.6L783.0 171.3Z" fill="url(#m161)" stroke="url(#m161)"/>
<path d="M783.0 171.3L812.9 159.6L842.9 147.9L872.8 136.1L902.8 124.0L932.7 112.1L962.7 100.1L992.7 87.9L1022.6 75.8L1023.4 73.7L993.5 85.8L963.5 98.0L933.5 110.1L903.6 121.9L873.6 134.0L843.6 145.9L813.7 157.5L783.7 169.2Z" fill="url(#m162)" stroke="url(#m162)"/>
<path d="M783.7 169.2L813.7 157.5L843.6 145.9L873.6 134.0L903.6 121.9L933.5 110.1L963.5 98.0L993.5 85.8L1023.4 73.7L1024.3 71.4L994.3 83.5L964.3 95.8L934.3 107.9L904.3 119.7L874.4 131.9L844.4 143.7L814.4 155.3L784.4 167.0Z" fill="url(#m163)" stroke="url(#m163)"/>
<path d="M784.4 167.0L814.4 155.3L844.4 143.7L874.4 131.9L904.3 119.7L934.3 107.9L964.3 95.8L994.3 83.5L1024.3 71.4L1025.1 68.9L995.1 81.0L965.1 93.4L935.1 105.5L905.1 117.4L875.1 129.6L845.1 141.5L815.1 153.1L785.1 164.7Z" fill="url(#m164)" stroke="url(#m164)"/>
<path d="M785.1 164.7L815.1 153.1L845.1 141.5L875.1 129.6L905.1 117.4L935.1 105.5L965.1 93.4L995.1 81.0L1025.1 68.9L1025.9 66.2L995.9 78.4L965.9 91.0L935.9 103.1L905.9 115.0L875.9 127.3L845.9 139.2L815.9 150.8L785.8 162.4Z" fill="url(#m165)" stroke="url(#m165)"/>
<path d="M785.8 162.4L815.9 150.8L845.9 139.2L875.9 127.3L905.9 115.0L935.9 103.1L965.9 91.0L995.9 78.4L1025.9 66.2L1026.8 63.5L996.7 75.8L966.7 88.4L936.7 100.6L906.7 112.5L876.7 124.9L846.6 136.7L816.6 148.3L786.6 159.8Z" fill="url(#m166)" stroke="url(#m166)"/>
<path d="M786.6 159.8L816.6 148.3L846.6 136.7L876.7 124.9L906.7 112.5L936.7 100.6L966.7 88.4L996.7 75.8L1026.8 63.5L1027.6 60.9L997.5 73.2L967.5 85.8L937.5 98.0L907.4 109.9L877.4 122.2L847.4 134.1L817.3 145.6L787.3 157.1Z" fill="url(#m167)" stroke="url(#m167)"/>
<path d="M787.3 157.1L817.3 145.6L847.4 134.1L877.4 122.2L907.4 109.9L937.5 98.0L967.5 85.8L997.5 73.2L1027.6 60.9L1028.4 58.4L998.4 70.6L968.3 83.2L938.3 95.4L908.2 107.2L878.2 119.5L848.1 131.3L818.0 142.8L788.0 154.4Z" fill="url(#m168)" stroke="url(#m168)"/>
<path d="M788.0 154.4L818.0 142.8L848.1 131.3L878.2 119.5L908.2 107.2L938.3 95.4L968.3 83.2L998.4 70.6L1028.4 58.4L1029.3 55.8L999.2 68.0L969.1 80.6L939.0 92.7L909.0 104.5L878.9 116.8L848.8 128.6L818.8 140.1L788.7 151.5Z" fill="url(#m169)" stroke="url(#m169)"/>
<path d="M788.7 151.5L818.8 140.1L848.8 128.6L878.9 116.8L909.0 104.5L939.0 92.7L969.1 80.6L999.2 68.0L1029.3 55.8L1030.1 53.2L1000.0 65.5L969.9 78.0L939.8 90.1L909.7 101.9L879.7 114.2L849.6 125.9L819.5 137.3L789.4 148.8Z" fill="url(#m170)" stroke="url(#m170)"/>
<path d="M789.4 148.8L819.5 137.3L849.6 125.9L879.7 114.2L909.7 101.9L939.8 90.1L969.9 78.0L1000.0 65.5L1030.1 53.2L1030.9 50.7L1000.8 62.9L970.7 75.4L940.6 87.5L910.5 99.2L880.4 111.5L850.3 123.2L820.2 134.6L790.1 146.1Z" fill="url(#m171)" stroke="url(#m171)"/>
<path d="M790.1 146.1L820.2 134.6L850.3 123.2L880.4 111.5L910.5 99.2L940.6 87.5L970.7 75.4L1000.8 62.9L1030.9 50.7L1031.8 48.3L1001.6 60.4L971.5 72.9L941.4 84.9L911.3 96.6L881.2 108.8L851.1 120.5L820.9 131.9L790.8 143.3Z" fill="url(#m172)" stroke="url(#m172)"/>
<path d="M790.8 143.3L820.9 131.9L851.1 120.5L881.2 108.8L911.3 96.6L941.4 84.9L971.5 72.9L1001.6 60.4L1031.8 48.3L1032.6 45.9L1002.5 58.0L972.3 70.4L942.2 82.3L912.1 94.0L881.9 106.1L851.8 117.8L821.6 129.1L791.5 140.5Z" fill="url(#m173)" stroke="url(#m173)"/>
<path d="M791.5 140.5L821.6 129.1L851.8 117.8L881.9 106.1L912.1 94.0L942.2 82.3L972.3 70.4L1002.5 58.0L1032.6 45.9L1033.4 43.6L1003.3 55.6L973.1 67.9L943.0 79.8L912.8 91.4L882.7 103.5L852.5 115.0L822.4 126.4L792.2 137.7Z" fill="url(#m174)" stroke="url(#m174)"/>
<path d="M792.2 137.7L822.4 126.4L852.5 115.0L882.7 103.5L912.8 91.4L943.0 79.8L973.1 67.9L1003.3 55.6L1033.4 43.6L1034.3 41.4L1004.1 53.3L973.9 65.4L943.8 77.3L913.6 88.8L883.5 100.8L853.3 112.3L823.1 123.6L792.9 134.9Z" fill="url(#m175)" stroke="url(#m175)"/>
<path d="M792.9 134.9L823.1 123.6L853.3 112.3L883.5 100.8L913.6 88.8L943.8 77.3L973.9 65.4L1004.1 53.3L1034.3 41.4L1035.1 39.1L1004.9 51.0L974.8 63.0L944.6 74.8L914.4 86.3L884.2 98.2L854.0 109.7L823.8 120.9L793.6 132.2Z" fill="url(#m176)" stroke="url(#m176)"/>
<path d="M793.6 132.2L823.8 120.9L854.0 109.7L884.2 98.2L914.4 86.3L944.6 74.8L974.8 63.0L1004.9 51.0L1035.1 39.1L1035.9 37.0L1005.8 48.7L975.6 60.7L945.4 72.4L915.2 83.8L885.0 95.6L854.8 107.1L824.5 118.3L794.3 129.6Z" fill="url(#m177)" stroke="url(#m177)"/>
<path d="M794.3 129.6L824.5 118.3L854.8 107.1L885.0 95.6L915.2 83.8L945.4 72.4L975.6 60.7L1005.8 48.7L1035.9 37.0L1036.8 34.9L1006.6 46.6L976.4 58.4L946.2 70.0L916.0 81.4L885.7 93.1L855.5 104.5L825.3 115.7L795.0 126.9Z" fill="url(#m178)" stroke="url(#m178)"/>
<path d="M795.0 126.9L825.3 115.7L855.5 104.5L885.7 93.1L916.0 81.4L946.2 70.0L976.4 58.4L1006.6 46.6L1036.8 34.9L1037.6 32.9L1007.4 44.5L977.2 56.2L947.0 67.7L916.7 79.0L886.5 90.6L856.3 102.0L826.0 113.2L795.7 124.3Z" fill="url(#m179)" stroke="url(#m179)"/>
<path d="M795.7 124.3L826.0 113.2L856.3 102.0L886.5 90.6L916.7 79.0L947.0 67.7L977.2 56.2L1007.4 44.5L1037.6 32.9L1038.5 31.1L1008.2 42.5L978.0 54.0L947.8 65.4L917.5 76.7L887.3 88.2L857.0 99.4L826.7 110.6L796.5 121.8Z" fill="url(#m180)" stroke="url(#m180)"/>
<path d="M796.5 121.8L826.7 110.6L857.0 99.4L887.3 88.2L917.5 76.7L947.8 65.4L978.0 54.0L1008.2 42.5L1038.5 31.1L1039.3 29.2L1009.1 40.5L978.8 51.9L948.6 63.2L918.3 74.4L888.1 85.8L857.8 97.0L827.5 108.1L797.2 119.2Z" fill="url(#m181)" stroke="url(#m181)"/>
<path d="M797.2 119.2L827.5 108.1L857.8 97.0L888.1 85.8L918.3 74.4L948.6 63.2L978.8 51.9L1009.1 40.5L1039.3 29.2L1040.1 27.4L1009.9 38.6L979.7 49.8L949.4 61.0L919.1 72.2L888.8 83.4L858.5 94.5L828.2 105.6L797.9 116.7Z" fill="url(#m182)" stroke="url(#m182)"/>
<path d="M797.9 116.7L828.2 105.6L858.5 94.5L888.8 83.4L919.1 72.2L949.4 61.0L979.7 49.8L1009.9 38.6L1040.1 27.4L1041.0 25.7L1010.7 36.8L980.5 47.8L950.2 58.9L919.9 70.0L889.6 81.1L859.3 92.1L829.0 103.2L798.6 114.3Z" fill="url(#m183)" stroke="url(#m183)"/>
<path d="M798.6 114.3L829.0 103.2L859.3 92.1L889.6 81.1L919.9 70.0L950.2 58.9L980.5 47.8L1010.7 36.8L1041.0 25.7L1041.8 24.1L1011.6 35.0L981.3 45.9L951.0 56.9L920.7 67.9L890.4 78.8L860.1 89.8L829.7 100.9L799.4 111.9Z" fill="url(#m184)" stroke="url(#m184)"/>
<path d="M799.4 111.9L829.7 100.9L860.1 89.8L890.4 78.8L920.7 67.9L951.0 56.9L981.3 45.9L1011.6 35.0L1041.8 24.1L1042.7 22.6L1012.4 33.4L982.1 44.1L951.8 54.9L921.5 65.9L891.2 76.6L860.8 87.6L830.5 98.6L800.1 109.7Z" fill="url(#m185)" stroke="url(#m185)"/>
<path d="M800.1 109.7L830.5 98.6L860.8 87.6L891.2 76.6L921.5 65.9L951.8 54.9L982.1 44.1L1012.4 33.4L1042.7 22.6L1043.5 21.2L1013.2 31.9L982.9 42.4L952.6 53.1L922.3 63.9L891.9 74.5L861.6 85.4L831.2 96.4L800.8 107.4Z" fill="url(#m186)" stroke="url(#m186)"/>
<path d="M800.8 107.4L831.2 96.4L861.6 85.4L891.9 74.5L922.3 63.9L952.6 53.1L982.9 42.4L1013.2 31.9L1043.5 21.2L1044.3 20.0L1014.1 30.4L983.8 40.7L953.4 51.3L923.1 62.0L892.7 72.5L862.4 83.3L832.0 94.2L801.6 105.2Z" fill="url(#m187)" stroke="url(#m187)"/>
<path d="M801.6 105.2L832.0 94.2L862.4 83.3L892.7 72.5L923.1 62.0L953.4 51.3L983.8 40.7L1014.1 30.4L1044.3 20.0L1045.2 18.8L1014.9 29.1L984.6 39.1L954.3 49.5L923.9 60.2L893.5 70.4L863.1 81.2L832.7 92.1L802.3 103.1Z" fill="url(#m188)" stroke="url(#m188)"/>
<path d="M802.3 103.1L832.7 92.1L863.1 81.2L893.5 70.4L923.9 60.2L954.3 49.5L984.6 39.1L1014.9 29.1L1045.2 18.8L1046.0 17.6L1015.7 27.8L985.4 37.6L955.1 47.8L924.7 58.4L894.3 68.5L863.9 79.1L833.5 90.1L803.1 101.0Z" fill="url(#m189)" stroke="url(#m189)"/>
<path d="M803.1 101.0L833.5 90.1L863.9 79.1L894.3 68.5L924.7 58.4L955.1 47.8L985.4 37.6L1015.7 27.8L1046.0 17.6L1046.9 16.6L1016.6 26.5L986.2 36.1L955.9 46.2L925.5 56.7L895.1 66.6L864.7 77.1L834.3 88.1L803.8 99.0Z" fill="url(#m190)" stroke="url(#m190)"/>
<path d="M803.8 99.0L834.3 88.1L864.7 77.1L895.1 66.6L925.5 56.7L955.9 46.2L986.2 36.1L1016.6 26.5L1046.9 16.6L1047.7 15.6L1017.4 25.4L987.1 34.7L956.7 44.7L926.3 55.1L895.9 64.8L865.5 75.3L835.0 86.2L804.6 97.1Z" fill="url(#m191)" stroke="url(#m191)"/>
<path d="M804.6 97.1L835.0 86.2L865.5 75.3L895.9 64.8L926.3 55.1L956.7 44.7L987.1 34.7L1017.4 25.4L1047.7 15.6L1048.5 14.7L1018.2 24.3L987.9 33.4L957.5 43.2L927.1 53.6L896.7 63.1L866.2 73.5L835.8 84.4L805.3 95.2Z" fill="url(#m192)" stroke="url(#m192)"/>
<path d="M805.3 95.2L835.8 84.4L866.2 73.5L896.7 63.1L927.1 53.6L957.5 43.2L987.9 33.4L1018.2 24.3L1048.5 14.7L1049.4 13.9L1019.1 23.3L988.7 32.2L958.3 41.8L927.9 52.1L897.5 61.4L867.0 71.7L836.6 82.6L806.1 93.5Z" fill="#ff0000" stroke="#ff0000"/>
<path d="M806.1 93.5L836.6 82.6L867.0 71.7L897.5 61.4L927.9 52.1L958.3 41.8L988.7 32.2L1019.1 23.3L1049.4 13.9L1050.2 13.1L1019.9 22.4L989.6 31.1L959.2 40.5L928.8 50.7L898.3 59.8L867.8 70.0L837.3 80.9L806.9 91.7Z" fill="#ff0000" stroke="#ff0000"/>
<path d="M806.9 91.7L837.3 80.9L867.8 70.0L898.3 59.8L928.8 50.7L959.2 40.5L989.6 31.1L1019.9 22.4L1050.2 13.1L1051.1 12.4L1020.8 21.5L990.4 29.9L960.0 39.2L929.6 49.3L899.1 58.2L868.6 68.4L838.1 79.2L807.6 90.0Z" fill="#ff0000" stroke="#ff0000"/>
<path d="M807.6 90.0L838.1 79.2L868.6 68.4L899.1 58.2L929.6 49.3L960.0 39.2L990.4 29.9L1020.8 21.5L1051.1 12.4L1051.9 11.8L1021.6 20.7L991.2 28.9L960.8 38.0L930.4 48.0L899.9 56.7L869.4 66.8L838.9 77.6L808.4 88.4Z" fill="url(#m193)" stroke="url(#m193)"/>
<path d="M808.4 88.4L838.9 77.6L869.4 66.8L899.9 56.7L930.4 48.0L960.8 38.0L991.2 28.9L1021.6 20.7L1051.9 11.8L1052.7 11.2L1022.4 19.9L992.1 27.9L961.6 36.8L931.2 46.8L900.7 55.3L870.2 65.3L839.7 76.1L809.2 86.9Z" fill="url(#m194)" stroke="url(#m194)"/>
<path d="M809.2 86.9L839.7 76.1L870.2 65.3L900.7 55.3L931.2 46.8L961.6 36.8L992.1 27.9L1022.4 19.9L1052.7 11.2L1053.6 10.6L1023.3 19.2L992.9 26.9L962.5 35.8L932.0 45.6L901.5 54.0L871.0 64.0L840.5 74.8L810.0 85.6Z" fill="url(#m195)" stroke="url(#m195)"/>
<path d="M810.0 85.6L840.5 74.8L871.0 64.0L901.5 54.0L932.0 45.6L962.5 35.8L992.9 26.9L1023.3 19.2L1053.6 10.6L1054.4 10.1L1024.1 18.6L993.7 26.1L963.3 34.9L932.9 44.6L902.3 52.9L871.8 62.8L841.3 73.5L810.8 84.3Z" fill="url(#m196)" stroke="url(#m196)"/>
<path d="M810.8 84.3L841.3 73.5L871.8 62.8L902.3 52.9L932.9 44.6L963.3 34.9L993.7 26.1L1024.1 18.6L1054.4 10.1L1055.3 9.7L1024.9 18.0L994.6 25.4L964.1 34.0L933.7 43.7L903.2 51.8L872.6 61.7L842.1 72.5L811.5 83.2Z" fill="url(#m197)" stroke="url(#m197)"/>
<path d="M811.5 83.2L842.1 72.5L872.6 61.7L903.2 51.8L933.7 43.7L964.1 34.0L994.6 25.4L1024.9 18.0L1055.3 9.7L1056.1 9.3L1025.8 17.5L995.4 24.7L965.0 33.3L934.5 42.9L904.0 50.9L873.4 60.7L842.9 71.5L812.4 82.2Z" fill="url(#m198)" stroke="url(#m198)"/>
<path d="M812.4 82.2L842.9 71.5L873.4 60.7L904.0 50.9L934.5 42.9L965.0 33.3L995.4 24.7L1025.8 17.5L1056.1 9.3L1056.9 8.9L1026.6 17.0L996.2 24.1L965.8 32.6L935.3 42.2L904.8 50.1L874.3 59.8L843.7 70.6L813.2 81.3Z" fill="url(#m199)" stroke="url(#m199)"/>
<path d="M813.2 81.3L843.7 70.6L874.3 59.8L904.8 50.1L935.3 42.2L965.8 32.6L996.2 24.1L1026.6 17.0L1056.9 8.9L1057.8 8.6L1027.5 16.6L997.1 23.6L966.6 31.9L936.2 41.5L905.6 49.3L875.1 59.0L844.5 69.8L814.0 80.5Z" fill="url(#m200)" stroke="url(#m200)"/>
<path d="M814.0 80.5L844.5 69.8L875.1 59.0L905.6 49.3L936.2 41.5L966.6 31.9L997.1 23.6L1027.5 16.6L1057.8 8.6L1058.6 8.2L1028.3 16.2L997.9 23.1L967.5 31.3L937.0 40.9L906.5 48.6L875.9 58.3L845.4 69.0L814.8 79.8Z" fill="url(#m201)" stroke="url(#m201)"/>
<path d="M814.8 79.8L845.4 69.0L875.9 58.3L906.5 48.6L937.0 40.9L967.5 31.3L997.9 23.1L1028.3 16.2L1058.6 8.2L1059.5 7.9L1029.1 15.8L998.8 22.6L968.3 30.8L937.8 40.3L907.3 47.9L876.7 57.6L846.2 68.3L815.6 79.1Z" fill="url(#m202)" stroke="url(#m202)"/>
<path d="M815.6 79.1L846.2 68.3L876.7 57.6L907.3 47.9L937.8 40.3L968.3 30.8L998.8 22.6L1029.1 15.8L1059.5 7.9L1060.3 7.6L1030.0 15.4L999.6 22.1L969.1 30.3L938.7 39.8L908.1 47.3L877.6 56.9L847.0 67.7L816.4 78.4Z" fill="url(#m203)" stroke="url(#m203)"/>
<path d="M816.4 78.4L847.0 67.7L877.6 56.9L908.1 47.3L938.7 39.8L969.1 30.3L999.6 22.1L1030.0 15.4L1060.3 7.6L1061.1 7.4L1030.8 15.2L1000.4 21.7L970.0 29.8L939.5 39.3L908.9 46.7L878.4 56.3L847.8 67.1L817.2 77.8Z" fill="url(#m204)" stroke="url(#m204)"/>
<path d="M817.2 77.8L847.8 67.1L878.4 56.3L908.9 46.7L939.5 39.3L970.0 29.8L1000.4 21.7L1030.8 15.2L1061.1 7.4L1062.0 7.3L1031.7 15.0L1001.3 21.5L970.8 29.5L940.3 38.9L909.8 46.3L879.2 55.8L848.6 66.6L818.1 77.3Z" fill="url(#m205)" stroke="url(#m205)"/>
<path d="M818.1 77.3L848.6 66.6L879.2 55.8L909.8 46.3L940.3 38.9L970.8 29.5L1001.3 21.5L1031.7 15.0L1062.0 7.3L1062.8 7.3L1032.5 14.9L1002.1 21.3L971.7 29.2L941.2 38.6L910.6 45.9L880.0 55.5L849.5 66.2L818.9 76.9Z" fill="url(#m206)" stroke="url(#m206)"/>
<path d="M818.9 76.9L849.5 66.2L880.0 55.5L910.6 45.9L941.2 38.6L971.7 29.2L1002.1 21.3L1032.5 14.9L1062.8 7.3L1063.6 7.5L1033.3 15.0L1003.0 21.2L972.5 29.1L942.0 38.4L911.5 45.6L880.9 55.1L850.3 65.9L819.7 76.6Z" fill="url(#m207)" stroke="url(#m207)"/>
<path d="M819.7 76.6L850.3 65.9L880.9 55.1L911.5 45.6L942.0 38.4L972.5 29.1L1003.0 21.2L1033.3 15.0L1063.6 7.5L1064.5 7.7L1034.2 15.1L1003.8 21.2L973.3 28.9L942.9 38.2L912.3 45.3L881.7 54.8L851.2 65.5L820.6 76.3Z" fill="url(#m208)" stroke="url(#m208)"/>
<path d="M820.6 76.3L851.2 65.5L881.7 54.8L912.3 45.3L942.9 38.2L973.3 28.9L1003.8 21.2L1034.2 15.1L1064.5 7.7L1065.3 7.9L1035.0 15.2L1004.6 21.1L974.2 28.8L943.7 38.1L913.1 45.0L882.6 54.5L852.0 65.2L821.4 75.9Z" fill="url(#m209)" stroke="url(#m209)"/>
<path d="M821.4 75.9L852.0 65.2L882.6 54.5L913.1 45.0L943.7 38.1L974.2 28.8L1004.6 21.1L1035.0 15.2L1065.3 7.9L1066.1 8.1L1035.8 15.3L1005.5 21.1L975.0 28.7L944.6 38.0L914.0 44.8L883.4 54.2L852.8 65.0L822.2 75.7Z" fill="url(#m210)" stroke="url(#m210)"/>
<path d="M822.2 75.7L852.8 65.0L883.4 54.2L914.0 44.8L944.6 38.0L975.0 28.7L1005.5 21.1L1035.8 15.3L1066.1 8.1L1067.0 8.3L1036.7 15.4L1006.3 21.2L975.9 28.7L945.4 37.9L914.8 44.7L884.2 54.1L853.7 64.8L823.1 75.6Z" fill="url(#m211)" stroke="url(#m211)"/>
<path d="M823.1 75.6L853.7 64.8L884.2 54.1L914.8 44.7L945.4 37.9L975.9 28.7L1006.3 21.2L1036.7 15.4L1067.0 8.3L1067.8 8.5L1037.5 15.6L1007.2 21.3L976.7 28.8L946.2 38.0L915.7 44.8L885.1 54.1L854.5 64.9L823.9 75.6Z" fill="url(#m212)" stroke="url(#m212)"/>
<path d="M823.9 75.6L854.5 64.9L885.1 54.1L915.7 44.8L946.2 38.0L976.7 28.8L1007.2 21.3L1037.5 15.6L1067.8 8.5L1068.6 8.8L1038.4 15.8L1008.0 21.5L977.6 29.0L947.1 38.2L916.5 44.9L885.9 54.3L855.4 65.1L824.8 75.8Z" fill="url(#m213)" stroke="url(#m213)"/>
<path d="M824.8 75.8L855.4 65.1L885.9 54.3L916.5 44.9L947.1 38.2L977.6 29.0L1008.0 21.5L1038.4 15.8L1068.6 8.8L1069.2 8.9L1038.9 16.0L1008.6 21.7L978.1 29.2L947.7 38.4L917.1 45.1L886.5 54.5L855.9 65.3L825.4 76.0Z" fill="url(#m214)" stroke="url(#m214)"/>
<path d="M825.4 76.0L855.9 65.3L886.5 54.5L917.1 45.1L947.7 38.4L978.1 29.2L1008.6 21.7L1038.9 16.0L1069.2 8.9L1070.9 9.4L1040.6 16.5L1010.2 22.3L979.8 29.8L949.4 39.1L918.8 45.9L888.2 55.3L857.7 66.1L827.1 76.8Z" fill="url(#m215)" stroke="url(#m215)"/>
<path d="M827.1 76.8L857.7 66.1L888.2 55.3L918.8 45.9L949.4 39.1L979.8 29.8L1010.2 22.3L1040.6 16.5L1070.9 9.4L1072.5 9.9L1042.3 17.1L1011.9 22.9L981.5 30.6L951.1 39.9L920.5 46.8L890.0 56.2L859.4 67.0L828.8 77.8Z" fill="url(#m216)" stroke="url(#m216)"/>
<path d="M828.8 77.8L859.4 67.0L890.0 56.2L920.5 46.8L951.1 39.9L981.5 30.6L1011.9 22.9L1042.3 17.1L1072.5 9.9L1074.2 10.5L1043.9 17.8L1013.6 23.8L983.2 31.5L952.8 40.8L922.2 47.8L891.7 57.2L861.1 68.1L830.6 78.9Z" fill="url(#m217)" stroke="url(#m217)"/>
<path d="M830.6 78.9L861.1 68.1L891.7 57.2L922.2 47.8L952.8 40.8L983.2 31.5L1013.6 23.8L1043.9 17.8L1074.2 10.5L1075.9 11.3L1045.6 18.7L1015.3 24.7L984.9 32.4L954.5 41.8L923.9 48.8L893.4 58.3L862.9 69.2L832.3 80.0Z" fill="url(#m218)" stroke="url(#m218)"/>
<path d="M832.3 80.0L862.9 69.2L893.4 58.3L923.9 48.8L954.5 41.8L984.9 32.4L1015.3 24.7L1045.6 18.7L1075.9 11.3L1077.5 12.2L1047.3 19.6L1017.0 25.7L986.6 33.5L956.2 42.9L925.7 50.0L895.1 59.6L864.6 70.5L834.1 81.3Z" fill="url(#m219)" stroke="url(#m219)"/>
<path d="M834.1 81.3L864.6 70.5L895.1 59.6L925.7 50.0L956.2 42.9L986.6 33.5L1017.0 25.7L1047.3 19.6L1077.5 12.2L1079.2 13.2L1049.0 20.7L1018.7 26.9L988.3 34.8L957.9 44.2L927.4 51.4L896.9 61.0L866.4 71.9L835.8 82.8Z" fill="url(#m220)" stroke="url(#m220)"/>
<path d="M835.8 82.8L866.4 71.9L896.9 61.0L927.4 51.4L957.9 44.2L988.3 34.8L1018.7 26.9L1049.0 20.7L1079.2 13.2L1080.8 14.3L1050.6 21.9L1020.3 28.1L990.0 36.1L959.6 45.6L929.1 52.9L898.6 62.5L868.1 73.5L837.6 84.4Z" fill="url(#m221)" stroke="url(#m221)"/>
<path d="M837.6 84.4L868.1 73.5L898.6 62.5L929.1 52.9L959.6 45.6L990.0 36.1L1020.3 28.1L1050.6 21.9L1080.8 14.3L1082.5 15.7L1052.3 23.3L1022.0 29.6L991.7 37.6L961.3 47.2L930.8 54.4L900.3 64.1L869.9 75.1L839.4 86.1Z" fill="url(#m222)" stroke="url(#m222)"/>
<path d="M839.4 86.1L869.9 75.1L900.3 64.1L930.8 54.4L961.3 47.2L991.7 37.6L1022.0 29.6L1052.3 23.3L1082.5 15.7L1084.1 17.4L1054.0 25.0L1023.7 31.3L993.4 39.3L963.0 48.9L932.6 56.1L902.1 65.8L871.6 76.9L841.1 87.9Z" fill="url(#m223)" stroke="url(#m223)"/>
<path d="M841.1 87.9L871.6 76.9L902.1 65.8L932.6 56.1L963.0 48.9L993.4 39.3L1023.7 31.3L1054.0 25.0L1084.1 17.4L1085.8 19.3L1055.6 26.9L1025.4 33.2L995.1 41.2L964.7 50.8L934.3 58.1L903.8 67.8L873.4 78.8L842.9 89.9Z" fill="url(#m224)" stroke="url(#m224)"/>
<path d="M842.9 89.9L873.4 78.8L903.8 67.8L934.3 58.1L964.7 50.8L995.1 41.2L1025.4 33.2L1055.6 26.9L1085.8 19.3L1087.4 21.1L1057.3 28.8L1027.1 35.2L996.8 43.3L966.4 52.9L936.0 60.2L905.6 70.0L875.1 81.0L844.7 92.0Z" fill="url(#m225)" stroke="url(#m225)"/>
<path d="M844.7 92.0L875.1 81.0L905.6 70.0L936.0 60.2L966.4 52.9L996.8 43.3L1027.1 35.2L1057.3 28.8L1087.4 21.1L1089.1 23.0L1058.9 30.7L1028.7 37.2L998.5 45.4L968.2 55.0L937.7 62.4L907.3 72.2L876.9 83.2L846.5 94.2Z" fill="url(#m226)" stroke="url(#m226)"/>
<path d="M846.5 94.2L876.9 83.2L907.3 72.2L937.7 62.4L968.2 55.0L998.5 45.4L1028.7 37.2L1058.9 30.7L1089.1 23.0L1090.7 24.9L1060.6 32.7L1030.4 39.3L1000.2 47.6L969.9 57.2L939.5 64.6L909.1 74.5L878.7 85.4L848.3 96.3Z" fill="url(#m227)" stroke="url(#m227)"/>
<path d="M848.3 96.3L878.7 85.4L909.1 74.5L939.5 64.6L969.9 57.2L1000.2 47.6L1030.4 39.3L1060.6 32.7L1090.7 24.9L1092.4 26.9L1062.3 34.7L1032.1 41.5L1001.9 49.9L971.6 59.4L941.2 67.0L910.8 76.8L880.5 87.8L850.0 98.6Z" fill="url(#m228)" stroke="url(#m228)"/>
<path d="M850.0 98.6L880.5 87.8L910.8 76.8L941.2 67.0L971.6 59.4L1001.9 49.9L1032.1 41.5L1062.3 34.7L1092.4 26.9L1094.0 28.8L1063.9 36.8L1033.8 43.8L1003.6 52.3L973.3 61.8L943.0 69.4L912.6 79.3L882.2 90.1L851.8 100.9Z" fill="url(#m229)" stroke="url(#m229)"/>
<path d="M851.8 100.9L882.2 90.1L912.6 79.3L943.0 69.4L973.3 61.8L1003.6 52.3L1033.8 43.8L1063.9 36.8L1094.0 28.8L1095.6 30.7L1065.6 38.8L1035.4 46.0L1005.3 54.6L975.0 64.1L944.7 71.9L914.3 81.8L884.0 92.6L853.6 103.2Z" fill="url(#m230)" stroke="url(#m230)"/>
<path d="M853.6 103.2L884.0 92.6L914.3 81.8L944.7 71.9L975.0 64.1L1005.3 54.6L1035.4 46.0L1065.6 38.8L1095.6 30.7L1097.3 32.5L1067.2 40.7L1037.1 48.1L1006.9 57.0L976.7 66.5L946.4 74.3L916.1 84.3L885.8 95.0L855.4 105.5Z" fill="url(#m231)" stroke="url(#m231)"/>
<path d="M855.4 105.5L885.8 95.0L916.1 84.3L946.4 74.3L976.7 66.5L1006.9 57.0L1037.1 48.1L1067.2 40.7L1097.3 32.5L1098.9 34.1L1068.9 42.5L1038.8 50.2L1008.6 59.2L978.4 68.7L948.2 76.7L917.9 86.8L887.5 97.5L857.2 107.9Z" fill="url(#m232)" stroke="url(#m232)"/>
<path d="M857.2 107.9L887.5 97.5L917.9 86.8L948.2 76.7L978.4 68.7L1008.6 59.2L1038.8 50.2L1068.9 42.5L1098.9 34.1L1100.6 35.7L1070.5 44.3L1040.5 52.2L1010.3 61.4L980.1 71.0L949.9 79.2L919.6 89.3L889.3 99.9L859.0 110.2Z" fill="url(#m233)" stroke="url(#m233)"/>
<path d="M859.0 110.2L889.3 99.9L919.6 89.3L949.9 79.2L980.1 71.0L1010.3 61.4L1040.5 52.2L1070.5 44.3L1100.6 35.7L1102.2 37.2L1072.2 46.0L1042.1 54.3L1012.0 63.7L981.8 73.2L951.6 81.6L921.4 91.8L891.1 102.3L860.8 112.5Z" fill="url(#m234)" stroke="url(#m234)"/>
<path d="M860.8 112.5L891.1 102.3L921.4 91.8L951.6 81.6L981.8 73.2L1012.0 63.7L1042.1 54.3L1072.2 46.0L1102.2 37.2L1103.8 38.9L1073.8 47.8L1043.8 56.3L1013.7 65.9L983.5 75.5L953.3 84.0L923.1 94.3L892.8 104.8L862.5 114.9Z" fill="url(#m235)" stroke="url(#m235)"/>
<path d="M862.5 114.9L892.8 104.8L923.1 94.3L953.3 84.0L983.5 75.5L1013.7 65.9L1043.8 56.3L1073.8 47.8L1103.8 38.9L1105.5 40.7L1075.5 49.7L1045.5 58.5L1015.4 68.3L985.3 77.9L955.1 86.5L924.9 96.9L894.6 107.3L864.3 117.3Z" fill="url(#m236)" stroke="url(#m236)"/>
<path d="M864.3 117.3L894.6 107.3L924.9 96.9L955.1 86.5L985.3 77.9L1015.4 68.3L1045.5 58.5L1075.5 49.7L1105.5 40.7L1107.1 42.6L1077.1 51.8L1047.1 60.8L1017.1 70.7L987.0 80.2L956.8 89.0L926.6 99.4L896.4 109.7L866.1 119.7Z" fill="url(#m237)" stroke="url(#m237)"/>
<path d="M866.1 119.7L896.4 109.7L926.6 99.4L956.8 89.0L987.0 80.2L1017.1 70.7L1047.1 60.8L1077.1 51.8L1107.1 42.6L1108.7 44.6L1078.8 53.9L1048.8 63.1L1018.8 73.1L988.7 82.7L958.5 91.6L928.4 102.0L898.2 112.2L867.9 122.1Z" fill="url(#m238)" stroke="url(#m238)"/>
<path d="M867.9 122.1L898.2 112.2L928.4 102.0L958.5 91.6L988.7 82.7L1018.8 73.1L1048.8 63.1L1078.8 53.9L1108.7 44.6L1110.4 46.7L1080.4 56.1L1050.5 65.5L1020.4 75.7L990.4 85.2L960.2 94.2L930.1 104.6L899.9 114.8L869.7 124.6Z" fill="url(#m239)" stroke="url(#m239)"/>
<path d="M869.7 124.6L899.9 114.8L930.1 104.6L960.2 94.2L990.4 85.2L1020.4 75.7L1050.5 65.5L1080.4 56.1L1110.4 46.7L1112.0 48.8L1082.1 58.3L1052.1 67.9L1022.1 78.2L992.1 87.8L962.0 96.9L931.9 107.4L901.7 117.6L871.5 127.3Z" fill="url(#m240)" stroke="url(#m240)"/>
<path d="M871.5 127.3L901.7 117.6L931.9 107.4L962.0 96.9L992.1 87.8L1022.1 78.2L1052.1 67.9L1082.1 58.3L1112.0 48.8L1113.6 50.9L1083.7 60.6L1053.8 70.4L1023.8 80.9L993.8 90.6L963.7 99.9L933.6 110.5L903.5 120.7L873.3 130.4Z" fill="url(#m241)" stroke="url(#m241)"/>
<path d="M873.3 130.4L903.5 120.7L933.6 110.5L963.7 99.9L993.8 90.6L1023.8 80.9L1053.8 70.4L1083.7 60.6L1113.6 50.9L1115.2 53.0L1085.3 62.9L1055.4 73.0L1025.5 83.7L995.5 93.4L965.4 102.9L935.4 113.6L905.3 123.9L875.1 133.7Z" fill="url(#m242)" stroke="url(#m242)"/>
<path d="M875.1 133.7L905.3 123.9L935.4 113.6L965.4 102.9L995.5 93.4L1025.5 83.7L1055.4 73.0L1085.3 62.9L1115.2 53.0L1116.8 55.2L1087.0 65.3L1057.1 75.5L1027.2 86.4L997.2 96.3L967.2 106.0L937.1 116.9L907.0 127.2L876.9 137.1Z" fill="url(#m243)" stroke="url(#m243)"/>
<path d="M876.9 137.1L907.0 127.2L937.1 116.9L967.2 106.0L997.2 96.3L1027.2 86.4L1057.1 75.5L1087.0 65.3L1116.8 55.2L1118.5 57.3L1088.6 67.6L1058.7 78.1L1028.8 89.1L998.9 99.2L968.9 109.2L938.9 120.1L908.8 130.6L878.7 140.6Z" fill="url(#m244)" stroke="url(#m244)"/>
<path d="M878.7 140.6L908.8 130.6L938.9 120.1L968.9 109.2L998.9 99.2L1028.8 89.1L1058.7 78.1L1088.6 67.6L1118.5 57.3L1120.1 59.5L1090.3 70.0L1060.4 80.7L1030.5 91.9L1000.6 102.1L970.6 112.3L940.6 123.4L910.6 134.0L880.5 144.2Z" fill="url(#m245)" stroke="url(#m245)"/>
<path d="M880.5 144.2L910.6 134.0L940.6 123.4L970.6 112.3L1000.6 102.1L1030.5 91.9L1060.4 80.7L1090.3 70.0L1120.1 59.5L1121.7 61.6L1091.9 72.3L1062.0 83.3L1032.2 94.6L1002.3 105.0L972.3 115.4L942.4 126.7L912.4 137.4L882.3 147.8Z" fill="url(#m246)" stroke="url(#m246)"/>
<path d="M882.3 147.8L912.4 137.4L942.4 126.7L972.3 115.4L1002.3 105.0L1032.2 94.6L1062.0 83.3L1091.9 72.3L1121.7 61.6L1123.3 63.8L1093.5 74.7L1063.7 85.8L1033.8 97.3L1004.0 107.9L974.1 118.5L944.1 129.9L914.2 140.8L884.2 151.3Z" fill="url(#m247)" stroke="url(#m247)"/>
<path d="M884.2 151.3L914.2 140.8L944.1 129.9L974.1 118.5L1004.0 107.9L1033.8 97.3L1063.7 85.8L1093.5 74.7L1123.3 63.8L1124.9 66.1L1095.1 77.1L1065.3 88.3L1035.5 99.9L1005.7 110.7L975.8 121.5L945.9 132.9L915.9 144.0L886.0 154.7Z" fill="url(#m248)" stroke="url(#m248)"/>
<path d="M886.0 154.7L915.9 144.0L945.9 132.9L975.8 121.5L1005.7 110.7L1035.5 99.9L1065.3 88.3L1095.1 77.1L1124.9 66.1L1126.5 68.3L1096.8 79.5L1067.0 90.8L1037.2 102.5L1007.4 113.4L977.5 124.3L947.6 135.9L917.7 147.1L887.8 158.0Z" fill="url(#m249)" stroke="url(#m249)"/>
<path d="M887.8 158.0L917.7 147.1L947.6 135.9L977.5 124.3L1007.4 113.4L1037.2 102.5L1067.0 90.8L1096.8 79.5L1126.5 68.3L1128.1 70.5L1098.4 81.7L1068.6 93.1L1038.9 104.8L1009.1 115.8L979.2 126.8L949.4 138.5L919.5 149.7L889.5 160.7Z" fill="url(#m250)" stroke="url(#m250)"/>
<path d="M889.5 160.7L919.5 149.7L949.4 138.5L979.2 126.8L1009.1 115.8L1038.9 104.8L1068.6 93.1L1098.4 81.7L1128.1 70.5L1129.7 72.5L1100.0 83.7L1070.3 95.2L1040.5 106.9L1010.7 117.9L980.9 129.0L951.1 140.6L921.2 151.9L891.3 162.8Z" fill="url(#m251)" stroke="url(#m251)"/>
<path d="M891.3 162.8L921.2 151.9L951.1 140.6L980.9 129.0L1010.7 117.9L1040.5 106.9L1070.3 95.2L1100.0 83.7L1129.7 72.5L1131.4 74.4L1101.7 85.7L1071.9 97.1L1042.2 108.8L1012.4 119.9L982.6 130.9L952.8 142.6L922.9 153.9L893.1 164.8Z" fill="url(#m252)" stroke="url(#m252)"/>
<path d="M893.1 164.8L922.9 153.9L952.8 142.6L982.6 130.9L1012.4 119.9L1042.2 108.8L1071.9 97.1L1101.7 85.7L1131.4 74.4L1133.0 76.3L1103.3 87.6L1073.6 99.0L1043.9 110.8L1014.1 121.8L984.3 132.8L954.5 144.5L924.7 155.8L894.8 166.7Z" fill="url(#m253)" stroke="url(#m253)"/>
<path d="M894.8 166.7L924.7 155.8L954.5 144.5L984.3 132.8L1014.1 121.8L1043.9 110.8L1073.6 99.0L1103.3 87.6L1133.0 76.3L1134.6 78.2L1104.9 89.5L1075.2 101.0L1045.5 112.7L1015.8 123.8L986.0 134.8L956.2 146.5L926.4 157.8L896.6 168.8Z" fill="url(#m254)" stroke="url(#m254)"/>
<path d="M896.6 168.8L926.4 157.8L956.2 146.5L986.0 134.8L1015.8 123.8L1045.5 112.7L1075.2 101.0L1104.9 89.5L1134.6 78.2L1136.2 79.9L1106.6 91.3L1076.9 102.8L1047.2 114.6L1017.5 125.7L987.7 136.8L958.0 148.5L928.2 159.9L898.3 170.9Z" fill="url(#m255)" stroke="url(#m255)"/>
<path d="M898.3 170.9L928.2 159.9L958.0 148.5L987.7 136.8L1017.5 125.7L1047.2 114.6L1076.9 102.8L1106.6 91.3L1136.2 79.9L1137.8 81.4L1108.2 92.8L1078.5 104.4L1048.9 116.3L1019.2 127.5L989.4 138.6L959.7 150.5L929.9 161.9L900.1 173.0Z" fill="url(#m256)" stroke="url(#m256)"/>
<path d="M900.1 173.0L929.9 161.9L959.7 150.5L989.4 138.6L1019.2 127.5L1048.9 116.3L1078.5 104.4L1108.2 92.8L1137.8 81.4L1139.5 82.5L1109.8 94.0L1080.2 105.7L1050.5 117.7L1020.8 129.0L991.1 140.3L961.4 152.2L931.6 163.8L901.8 175.0Z" fill="url(#m257)" stroke="url(#m257)"/>
<path d="M901.8 175.0L931.6 163.8L961.4 152.2L991.1 140.3L1020.8 129.0L1050.5 117.7L1080.2 105.7L1109.8 94.0L1139.5 82.5L1141.1 83.2L1111.5 94.9L1081.9 106.7L1052.2 118.8L1022.5 130.3L992.8 141.8L963.1 153.8L933.3 165.5L903.6 176.9Z" fill="url(#m258)" stroke="url(#m258)"/>
<path d="M903.6 176.9L933.3 165.5L963.1 153.8L992.8 141.8L1022.5 130.3L1052.2 118.8L1081.9 106.7L1111.5 94.9L1141.1 83.2L1142.7 83.8L1113.1 95.6L1083.5 107.6L1053.9 119.8L1024.2 131.5L994.5 143.2L964.8 155.3L935.1 167.1L905.3 178.8Z" fill="url(#m259)" stroke="url(#m259)"/>
<path d="M905.3 178.8L935.1 167.1L964.8 155.3L994.5 143.2L1024.2 131.5L1053.9 119.8L1083.5 107.6L1113.1 95.6L1142.7 83.8L1144.4 84.4L1114.8 96.4L1085.2 108.5L1055.5 120.8L1025.9 132.6L996.2 144.5L966.5 156.7L936.8 168.7L907.1 180.6Z" fill="url(#m260)" stroke="url(#m260)"/>
<path d="M907.1 180.6L936.8 168.7L966.5 156.7L996.2 144.5L1025.9 132.6L1055.5 120.8L1085.2 108.5L1114.8 96.4L1144.4 84.4L1146.0 84.9L1116.4 97.1L1086.8 109.3L1057.2 121.7L1027.5 133.7L997.9 145.7L968.2 158.0L938.5 170.2L908.8 182.2Z" fill="url(#m261)" stroke="url(#m261)"/>
<path d="M908.8 182.2L938.5 170.2L968.2 158.0L997.9 145.7L1027.5 133.7L1057.2 121.7L1086.8 109.3L1116.4 97.1L1146.0 84.9L1147.7 85.5L1118.1 97.7L1088.5 110.0L1058.9 122.5L1029.2 134.6L999.6 146.7L969.9 159.2L940.2 171.4L910.5 183.5Z" fill="url(#m262)" stroke="url(#m262)"/>
<path d="M910.5 183.5L940.2 171.4L969.9 159.2L999.6 146.7L1029.2 134.6L1058.9 122.5L1088.5 110.0L1118.1 97.7L1147.7 85.5L1149.3 86.1L1119.7 98.4L1090.1 110.8L1060.5 123.2L1030.9 135.4L1001.3 147.6L971.6 160.1L941.9 172.4L912.2 184.5Z" fill="url(#m263)" stroke="url(#m263)"/>
<path d="M912.2 184.5L941.9 172.4L971.6 160.1L1001.3 147.6L1030.9 135.4L1060.5 123.2L1090.1 110.8L1119.7 98.4L1149.3 86.1L1151.0 86.9L1121.4 99.1L1091.8 111.5L1062.2 124.0L1032.6 136.2L1002.9 148.4L973.3 160.9L943.6 173.2L914.0 185.4Z" fill="url(#m264)" stroke="url(#m264)"/>
<path d="M914.0 185.4L943.6 173.2L973.3 160.9L1002.9 148.4L1032.6 136.2L1062.2 124.0L1091.8 111.5L1121.4 99.1L1151.0 86.9L1152.6 87.9L1123.0 100.2L1093.5 112.5L1063.9 125.0L1034.3 137.2L1004.6 149.3L975.0 161.8L945.3 174.1L915.7 186.2Z" fill="url(#m265)" stroke="url(#m265)"/>
<path d="M915.7 186.2L945.3 174.1L975.0 161.8L1004.6 149.3L1034.3 137.2L1063.9 125.0L1093.5 112.5L1123.0 100.2L1152.6 87.9L1154.2 89.4L1124.7 101.5L1095.1 113.8L1065.5 126.3L1035.9 138.3L1006.3 150.4L976.7 162.8L947.0 175.0L917.4 187.0Z" fill="url(#m266)" stroke="url(#m266)"/>
<path d="M917.4 187.0L947.0 175.0L976.7 162.8L1006.3 150.4L1035.9 138.3L1065.5 126.3L1095.1 113.8L1124.7 101.5L1154.2 89.4L1155.8 90.9L1126.3 103.0L1096.8 115.3L1067.2 127.7L1037.6 139.7L1008.0 151.6L978.4 164.0L948.8 176.1L919.1 188.0Z" fill="url(#m267)" stroke="url(#m267)"/>
<path d="M919.1 188.0L948.8 176.1L978.4 164.0L1008.0 151.6L1037.6 139.7L1067.2 127.7L1096.8 115.3L1126.3 103.0L1155.8 90.9L1157.4 92.5L1127.9 104.6L1098.4 116.8L1068.8 129.2L1039.3 141.1L1009.7 153.0L980.1 165.3L950.5 177.4L920.8 189.3Z" fill="url(#m268)" stroke="url(#m268)"/>
<path d="M920.8 189.3L950.5 177.4L980.1 165.3L1009.7 153.0L1039.3 141.1L1068.8 129.2L1098.4 116.8L1127.9 104.6L1157.4 92.5L1159.0 94.1L1129.6 106.2L1100.0 118.3L1070.5 130.8L1041.0 142.7L1011.4 154.5L981.8 166.9L952.2 179.0L922.5 190.8Z" fill="url(#m269)" stroke="url(#m269)"/>
<path d="M922.5 190.8L952.2 179.0L981.8 166.9L1011.4 154.5L1041.0 142.7L1070.5 130.8L1100.0 118.3L1129.6 106.2L1159.0 94.1L1160.7 95.8L1131.2 107.8L1101.7 120.0L1072.2 132.4L1042.6 144.3L1013.1 156.2L983.5 168.5L953.9 180.6L924.3 192.4Z" fill="url(#m270)" stroke="url(#m270)"/>
<path d="M924.3 192.4L953.9 180.6L983.5 168.5L1013.1 156.2L1042.6 144.3L1072.2 132.4L1101.7 120.0L1131.2 107.8L1160.7 95.8L1162.3 97.5L1132.8 109.5L1103.3 121.7L1073.8 134.2L1044.3 146.0L1014.8 157.9L985.2 170.3L955.6 182.3L926.0 194.1Z" fill="url(#m271)" stroke="url(#m271)"/>
<path d="M926.0 194.1L955.6 182.3L985.2 170.3L1014.8 157.9L1044.3 146.0L1073.8 134.2L1103.3 121.7L1132.8 109.5L1162.3 97.5L1163.9 99.1L1134.4 111.2L1105.0 123.4L1075.5 135.9L1046.0 147.8L1016.4 159.7L986.9 172.1L957.3 184.2L927.7 196.0Z" fill="url(#m272)" stroke="url(#m272)"/>
<path d="M927.7 196.0L957.3 184.2L986.9 172.1L1016.4 159.7L1046.0 147.8L1075.5 135.9L1105.0 123.4L1134.4 111.2L1163.9 99.1L1165.5 100.7L1136.1 112.8L1106.6 125.1L1077.1 137.6L1047.6 149.6L1018.1 161.6L988.6 174.0L959.1 186.2L929.5 198.1Z" fill="url(#m273)" stroke="url(#m273)"/>
<path d="M929.5 198.1L959.1 186.2L988.6 174.0L1018.1 161.6L1047.6 149.6L1077.1 137.6L1106.6 125.1L1136.1 112.8L1165.5 100.7L1167.1 102.2L1137.7 114.5L1108.2 126.9L1078.8 139.5L1049.3 151.7L1019.8 163.8L990.3 176.4L960.8 188.7L931.3 200.8Z" fill="url(#m274)" stroke="url(#m274)"/>
<path d="M931.3 200.8L960.8 188.7L990.3 176.4L1019.8 163.8L1049.3 151.7L1078.8 139.5L1108.2 126.9L1137.7 114.5L1167.1 102.2L1168.7 103.6L1139.3 116.1L1109.9 128.6L1080.4 141.3L1051.0 153.6L1021.5 165.9L992.0 178.6L962.5 191.0L933.0 203.3Z" fill="url(#m275)" stroke="url(#m275)"/>
<path d="M933.0 203.3L962.5 191.0L992.0 178.6L1021.5 165.9L1051.0 153.6L1080.4 141.3L1109.9 128.6L1139.3 116.1L1168.7 103.6L1170.3 105.1L1140.9 117.6L1111.5 130.2L1082.1 143.0L1052.7 155.3L1023.2 167.7L993.7 180.4L964.3 192.9L934.7 205.3Z" fill="url(#m276)" stroke="url(#m276)"/>
<path d="M934.7 205.3L964.3 192.9L993.7 180.4L1023.2 167.7L1052.7 155.3L1082.1 143.0L1111.5 130.2L1140.9 117.6L1170.3 105.1L1171.9 106.5L1142.5 119.0L1113.2 131.7L1083.7 144.5L1054.3 156.9L1024.9 169.3L995.4 182.1L966.0 194.7L936.5 207.1Z" fill="url(#m277)" stroke="url(#m277)"/>
<path d="M936.5 207.1L966.0 194.7L995.4 182.1L1024.9 169.3L1054.3 156.9L1083.7 144.5L1113.2 131.7L1142.5 119.0L1171.9 106.5L1173.5 107.8L1144.2 120.4L1114.8 133.1L1085.4 146.0L1056.0 158.5L1026.6 170.9L997.1 183.8L967.7 196.4L938.2 208.8Z" fill="url(#m278)" stroke="url(#m278)"/>
<path d="M938.2 208.8L967.7 196.4L997.1 183.8L1026.6 170.9L1056.0 158.5L1085.4 146.0L1114.8 133.1L1144.2 120.4L1173.5 107.8L1175.1 109.2L1145.8 121.8L1116.4 134.6L1087.0 147.5L1057.7 160.1L1028.3 172.6L998.8 185.5L969.4 198.2L939.9 210.7Z" fill="url(#m279)" stroke="url(#m279)"/>
<path d="M939.9 210.7L969.4 198.2L998.8 185.5L1028.3 172.6L1057.7 160.1L1087.0 147.5L1116.4 134.6L1145.8 121.8L1175.1 109.2L1176.8 110.5L1147.4 123.2L1118.1 136.1L1088.7 149.0L1059.3 161.7L1029.9 174.4L1000.5 187.3L971.1 200.1L941.7 212.7Z" fill="url(#m280)" stroke="url(#m280)"/>
<path d="M941.7 212.7L971.1 200.1L1000.5 187.3L1029.9 174.4L1059.3 161.7L1088.7 149.0L1118.1 136.1L1147.4 123.2L1176.8 110.5L1178.4 111.7L1149.0 124.6L1119.7 137.5L1090.4 150.5L1061.0 163.3L1031.6 176.1L1002.2 189.1L972.8 201.9L943.4 214.7Z" fill="url(#m281)" stroke="url(#m281)"/>
<path d="M943.4 214.7L972.8 201.9L1002.2 189.1L1031.6 176.1L1061.0 163.3L1090.4 150.5L1119.7 137.5L1149.0 124.6L1178.4 111.7L1180.0 113.0L1150.7 125.9L1121.3 138.9L1092.0 152.0L1062.7 164.8L1033.3 177.7L1003.9 190.8L974.5 203.7L945.2 216.5Z" fill="url(#m282)" stroke="url(#m282)"/>
<path d="M945.2 216.5L974.5 203.7L1003.9 190.8L1033.3 177.7L1062.7 164.8L1092.0 152.0L1121.3 138.9L1150.7 125.9L1180.0 113.0L1181.6 114.2L1152.3 127.2L1123.0 140.2L1093.7 153.4L1064.3 166.3L1035.0 179.2L1005.6 192.3L976.3 205.3L946.9 218.2Z" fill="url(#m283)" stroke="url(#m283)"/>
<path d="M946.9 218.2L976.3 205.3L1005.6 192.3L1035.0 179.2L1064.3 166.3L1093.7 153.4L1123.0 140.2L1152.3 127.2L1181.6 114.2L1183.2 115.4L1153.9 128.4L1124.6 141.5L1095.3 154.7L1066.0 167.6L1036.7 180.5L1007.3 193.7L978.0 206.7L948.6 219.6Z" fill="url(#m284)" stroke="url(#m284)"/>
<path d="M948.6 219.6L978.0 206.7L1007.3 193.7L1036.7 180.5L1066.0 167.6L1095.3 154.7L1124.6 141.5L1153.9 128.4L1183.2 115.4L1184.8 116.6L1155.5 129.6L1126.3 142.7L1097.0 155.9L1067.7 168.9L1038.3 181.9L1009.0 195.1L979.7 208.1L950.3 221.1Z" fill="url(#m285)" stroke="url(#m285)"/>
<path d="M950.3 221.1L979.7 208.1L1009.0 195.1L1038.3 181.9L1067.7 168.9L1097.0 155.9L1126.3 142.7L1155.5 129.6L1184.8 116.6L1186.4 117.8L1157.2 130.8L1127.9 144.0L1098.6 157.2L1069.3 170.2L1040.0 183.2L1010.7 196.4L981.4 209.5L952.0 222.4Z" fill="url(#m286)" stroke="url(#m286)"/>
<path d="M952.0 222.4L981.4 209.5L1010.7 196.4L1040.0 183.2L1069.3 170.2L1098.6 157.2L1127.9 144.0L1157.2 130.8L1186.4 117.8L1188.1 118.9L1158.8 132.0L1129.5 145.2L1100.3 158.4L1071.0 171.5L1041.7 184.5L1012.4 197.7L983.1 210.8L953.8 223.8Z" fill="url(#m287)" stroke="url(#m287)"/>
<path d="M953.8 223.8L983.1 210.8L1012.4 197.7L1041.7 184.5L1071.0 171.5L1100.3 158.4L1129.5 145.2L1158.8 132.0L1188.1 118.9L1189.7 120.0L1160.4 133.2L1131.2 146.4L1101.9 159.7L1072.6 172.7L1043.4 185.8L1014.1 199.1L984.8 212.2L955.5 225.3Z" fill="url(#m288)" stroke="url(#m288)"/>
<path d="M955.5 225.3L984.8 212.2L1014.1 199.1L1043.4 185.8L1072.6 172.7L1101.9 159.7L1131.2 146.4L1160.4 133.2L1189.7 120.0L1191.3 121.1L1162.1 134.3L1132.8 147.6L1103.6 160.9L1074.3 174.0L1045.0 187.1L1015.8 200.4L986.5 213.6L957.2 226.7Z" fill="url(#m289)" stroke="url(#m289)"/>
<path d="M957.2 226.7L986.5 213.6L1015.8 200.4L1045.0 187.1L1074.3 174.0L1103.6 160.9L1132.8 147.6L1162.1 134.3L1191.3 121.1L1192.9 122.2L1163.7 135.4L1134.5 148.7L1105.2 162.1L1076.0 175.3L1046.7 188.4L1017.5 201.8L988.2 215.0L958.9 228.2Z" fill="url(#m290)" stroke="url(#m290)"/>
<path d="M958.9 228.2L988.2 215.0L1017.5 201.8L1046.7 188.4L1076.0 175.3L1105.2 162.1L1134.5 148.7L1163.7 135.4L1192.9 122.2L1194.5 123.2L1165.3 136.4L1136.1 149.8L1106.9 163.2L1077.6 176.5L1048.4 189.7L1019.1 203.1L989.9 216.4L960.6 229.6Z" fill="url(#m291)" stroke="url(#m291)"/>
<path d="M960.6 229.6L989.9 216.4L1019.1 203.1L1048.4 189.7L1077.6 176.5L1106.9 163.2L1136.1 149.8L1165.3 136.4L1194.5 123.2L1196.1 124.1L1166.9 137.4L1137.7 150.8L1108.5 164.3L1079.3 177.6L1050.1 190.9L1020.8 204.4L991.6 217.7L962.3 231.0Z" fill="url(#m292)" stroke="url(#m292)"/>
<path d="M962.3 231.0L991.6 217.7L1020.8 204.4L1050.1 190.9L1079.3 177.6L1108.5 164.3L1137.7 150.8L1166.9 137.4L1196.1 124.1L1197.8 125.0L1168.6 138.4L1139.4 151.9L1110.2 165.4L1081.0 178.7L1051.7 192.1L1022.5 205.6L993.3 219.0L964.1 232.3Z" fill="url(#m293)" stroke="url(#m293)"/>
<path d="M964.1 232.3L993.3 219.0L1022.5 205.6L1051.7 192.1L1081.0 178.7L1110.2 165.4L1139.4 151.9L1168.6 138.4L1197.8 125.0L1199.4 125.9L1170.2 139.4L1141.0 152.9L1111.8 166.4L1082.6 179.8L1053.4 193.2L1024.2 206.8L995.0 220.2L965.8 233.6Z" fill="url(#m294)" stroke="url(#m294)"/>
<path d="M965.8 233.6L995.0 220.2L1024.2 206.8L1053.4 193.2L1082.6 179.8L1111.8 166.4L1141.0 152.9L1170.2 139.4L1199.4 125.9L1201.0 126.8L1171.8 140.3L1142.7 153.8L1113.5 167.4L1084.3 180.9L1055.1 194.3L1025.9 207.9L996.7 221.4L967.5 234.9Z" fill="url(#m295)" stroke="url(#m295)"/>
<path d="M967.5 234.9L996.7 221.4L1025.9 207.9L1055.1 194.3L1084.3 180.9L1113.5 167.4L1142.7 153.8L1171.8 140.3L1201.0 126.8L1202.6 127.7L1173.5 141.2L1144.3 154.8L1115.1 168.4L1086.0 181.9L1056.8 195.5L1027.6 209.1L998.4 222.6L969.2 236.1Z" fill="url(#m296)" stroke="url(#m296)"/>
<path d="M969.2 236.1L998.4 222.6L1027.6 209.1L1056.8 195.5L1086.0 181.9L1115.1 168.4L1144.3 154.8L1173.5 141.2L1202.6 127.7L1204.2 128.6L1175.1 142.2L1145.9 155.8L1116.8 169.4L1087.6 183.0L1058.4 196.6L1029.3 210.2L1000.1 223.8L970.9 237.4Z" fill="url(#m297)" stroke="url(#m297)"/>
<path d="M970.9 237.4L1000.1 223.8L1029.3 210.2L1058.4 196.6L1087.6 183.0L1116.8 169.4L1145.9 155.8L1175.1 142.2L1204.2 128.6L1205.9 129.5L1176.7 143.1L1147.6 156.8L1118.4 170.5L1089.3 184.1L1060.1 197.7L1031.0 211.4L1001.8 225.0L972.6 238.6Z" fill="url(#m298)" stroke="url(#m298)"/>
<path d="M972.6 238.6L1001.8 225.0L1031.0 211.4L1060.1 197.7L1089.3 184.1L1118.4 170.5L1147.6 156.8L1176.7 143.1L1205.9 129.5L1207.5 130.4L1178.4 144.1L1149.2 157.8L1120.1 171.5L1090.9 185.1L1061.8 198.8L1032.6 212.5L1003.5 226.2L974.3 239.8Z" fill="url(#m299)" stroke="url(#m299)"/>
<path d="M974.3 239.8L1003.5 226.2L1032.6 212.5L1061.8 198.8L1090.9 185.1L1120.1 171.5L1149.2 157.8L1178.4 144.1L1207.5 130.4L1209.1 131.3L1180.0 145.0L1150.9 158.7L1121.7 172.5L1092.6 186.2L1063.5 199.9L1034.3 213.7L1005.2 227.4L976.0 241.1Z" fill="url(#m300)" stroke="url(#m300)"/>
<path d="M976.0 241.1L1005.2 227.4L1034.3 213.7L1063.5 199.9L1092.6 186.2L1121.7 172.5L1150.9 158.7L1180.0 145.0L1209.1 131.3L1210.7 132.2L1181.6 146.0L1152.5 159.7L1123.4 173.5L1094.3 187.3L1065.1 201.0L1036.0 214.8L1006.9 228.6L977.7 242.3Z" fill="url(#m301)" stroke="url(#m301)"/>
<path d="M977.7 242.3L1006.9 228.6L1036.0 214.8L1065.1 201.0L1094.3 187.3L1123.4 173.5L1152.5 159.7L1181.6 146.0L1210.7 132.2L1212.3 133.1L1183.2 146.9L1154.1 160.7L1125.0 174.5L1095.9 188.3L1066.8 202.1L1037.7 215.9L1008.6 229.7L979.4 243.5Z" fill="url(#m302)" stroke="url(#m302)"/>
<path d="M979.4 243.5L1008.6 229.7L1037.7 215.9L1066.8 202.1L1095.9 188.3L1125.0 174.5L1154.1 160.7L1183.2 146.9L1212.3 133.1L1214.0 134.0L1184.9 147.8L1155.8 161.7L1126.7 175.5L1097.6 189.4L1068.5 203.2L1039.4 217.1L1010.3 230.9L981.2 244.7Z" fill="url(#m303)" stroke="url(#m303)"/>
<path d="M981.2 244.7L1010.3 230.9L1039.4 217.1L1068.5 203.2L1097.6 189.4L1126.7 175.5L1155.8 161.7L1184.9 147.8L1214.0 134.0L1215.6 134.9L1186.5 148.7L1157.4 162.6L1128.3 176.5L1099.2 190.4L1070.2 204.3L1041.1 218.2L1012.0 232.0L982.9 245.9Z" fill="url(#m304)" stroke="url(#m304)"/>
<path d="M982.9 245.9L1012.0 232.0L1041.1 218.2L1070.2 204.3L1099.2 190.4L1128.3 176.5L1157.4 162.6L1186.5 148.7L1215.6 134.9L1217.2 135.7L1188.1 149.6L1159.1 163.6L1130.0 177.5L1100.9 191.4L1071.8 205.3L1042.7 219.2L1013.7 233.1L984.6 247.0Z" fill="url(#m305)" stroke="url(#m305)"/>
<path d="M984.6 247.0L1013.7 233.1L1042.7 219.2L1071.8 205.3L1100.9 191.4L1130.0 177.5L1159.1 163.6L1188.1 149.6L1217.2 135.7L1218.8 136.6L1189.8 150.5L1160.7 164.5L1131.6 178.4L1102.6 192.4L1073.5 206.3L1044.4 220.2L1015.3 234.2L986.3 248.1Z" fill="url(#m306)" stroke="url(#m306)"/>
<path d="M986.3 248.1L1015.3 234.2L1044.4 220.2L1073.5 206.3L1102.6 192.4L1131.6 178.4L1160.7 164.5L1189.8 150.5L1218.8 136.6L1220.4 137.4L1191.4 151.4L1162.3 165.3L1133.3 179.3L1104.2 193.3L1075.2 207.3L1046.1 221.3L1017.0 235.2L988.0 249.2Z" fill="url(#m307)" stroke="url(#m307)"/>
<path d="M988.0 249.2L1017.0 235.2L1046.1 221.3L1075.2 207.3L1104.2 193.3L1133.3 179.3L1162.3 165.3L1191.4 151.4L1220.4 137.4L1222.1 138.2L1193.0 152.2L1164.0 166.2L1134.9 180.2L1105.9 194.2L1076.8 208.2L1047.8 222.2L1018.7 236.3L989.7 250.3Z" fill="url(#m308)" stroke="url(#m308)"/>
<path d="M989.7 250.3L1018.7 236.3L1047.8 222.2L1076.8 208.2L1105.9 194.2L1134.9 180.2L1164.0 166.2L1193.0 152.2L1222.1 138.2L1223.7 139.0L1194.7 153.1L1165.6 167.1L1136.6 181.1L1107.5 195.2L1078.5 209.2L1049.5 223.2L1020.4 237.3L991.4 251.3Z" fill="url(#m309)" stroke="url(#m309)"/>
<path d="M991.4 251.3L1020.4 237.3L1049.5 223.2L1078.5 209.2L1107.5 195.2L1136.6 181.1L1165.6 167.1L1194.7 153.1L1223.7 139.0L1225.3 139.8L1196.3 153.9L1167.3 167.9L1138.2 182.0L1109.2 196.1L1080.2 210.1L1051.1 224.2L1022.1 238.2L993.1 252.3Z" fill="url(#m310)" stroke="url(#m310)"/>
<path d="M993.1 252.3L1022.1 238.2L1051.1 224.2L1080.2 210.1L1109.2 196.1L1138.2 182.0L1167.3 167.9L1196.3 153.9L1225.3 139.8L1226.9 140.6L1197.9 154.7L1168.9 168.8L1139.9 182.9L1110.9 197.0L1081.8 211.0L1052.8 225.1L1023.8 239.2L994.8 253.3Z" fill="url(#m311)" stroke="url(#m311)"/>
<path d="M994.8 253.3L1023.8 239.2L1052.8 225.1L1081.8 211.0L1110.9 197.0L1139.9 182.9L1168.9 168.8L1197.9 154.7L1226.9 140.6L1228.5 141.4L1199.5 155.5L1170.5 169.6L1141.5 183.7L1112.5 197.8L1083.5 212.0L1054.5 226.1L1025.5 240.2L996.5 254.3Z" fill="url(#m312)" stroke="url(#m312)"/>
<path d="M996.5 254.3L1025.5 240.2L1054.5 226.1L1083.5 212.0L1112.5 197.8L1141.5 183.7L1170.5 169.6L1199.5 155.5L1228.5 141.4L1230.2 142.2L1201.2 156.3L1172.2 170.4L1143.2 184.6L1114.2 198.7L1085.2 212.9L1056.2 227.0L1027.2 241.1L998.2 255.3Z" fill="url(#m313)" stroke="url(#m313)"/>
<path d="M998.2 255.3L1027.2 241.1L1056.2 227.0L1085.2 212.9L1114.2 198.7L1143.2 184.6L1172.2 170.4L1201.2 156.3L1230.2 142.2L1231.8 142.9L1202.8 157.1L1173.8 171.3L1144.8 185.4L1115.8 199.6L1086.9 213.7L1057.9 227.9L1028.9 242.1L999.9 256.2Z" fill="url(#m314)" stroke="url(#m314)"/>
<path d="M999.9 256.2L1028.9 242.1L1057.9 227.9L1086.9 213.7L1115.8 199.6L1144.8 185.4L1173.8 171.3L1202.8 157.1L1231.8 142.9L1231.8 142.9L1202.8 157.1L1173.8 171.3L1144.8 185.4L1115.8 199.6L1086.9 213.7L1057.9 227.9L1028.9 242.1L999.9 256.2Z" fill="url(#m315)" stroke="url(#m315)"/>
<path d="M999.9 256.2L1028.9 242.1L1057.9 227.9L1086.9 213.7L1115.8 199.6L1144.8 185.4L1173.8 171.3L1202.8 157.1L1231.8 142.9L1237.2 145.4L1208.2 159.7L1179.3 173.9L1150.3 188.1L1121.4 202.4L1092.4 216.6L1063.5 230.9L1034.5 245.1L1005.5 259.3Z" fill="url(#m316)" stroke="url(#m316)"/>
<path d="M1005.5 259.3L1034.5 245.1L1063.5 230.9L1092.4 216.6L1121.4 202.4L1150.3 188.1L1179.3 173.9L1208.2 159.7L1237.2 145.4L1242.6 147.8L1213.7 162.2L1184.8 176.5L1155.8 190.8L1126.9 205.1L1098.0 219.4L1069.1 233.7L1040.1 248.0L1011.2 262.3Z" fill="url(#m317)" stroke="url(#m317)"/>
<path d="M1011.2 262.3L1040.1 248.0L1069.1 233.7L1098.0 219.4L1126.9 205.1L1155.8 190.8L1184.8 176.5L1213.7 162.2L1242.6 147.8L1248.0 150.1L1219.1 164.5L1190.2 178.9L1161.3 193.3L1132.4 207.6L1103.6 222.0L1074.7 236.4L1045.8 250.8L1016.9 265.1Z" fill="url(#m318)" stroke="url(#m318)"/>
<path d="M1016.9 265.1L1045.8 250.8L1074.7 236.4L1103.6 222.0L1132.4 207.6L1161.3 193.3L1190.2 178.9L1219.1 164.5L1248.0 150.1L1253.4 152.3L1224.6 166.8L1195.7 181.3L1166.8 195.7L1138.0 210.2L1109.1 224.6L1080.3 239.1L1051.4 253.6L1022.5 268.0Z" fill="url(#m319)" stroke="url(#m319)"/>
<path d="M1022.5 268.0L1051.4 253.6L1080.3 239.1L1109.1 224.6L1138.0 210.2L1166.8 195.7L1195.7 181.3L1224.6 166.8L1253.4 152.3L1258.8 154.4L1230.0 169.0L1201.2 183.5L1172.3 198.1L1143.5 212.6L1114.7 227.2L1085.8 241.7L1057.0 256.3L1028.2 270.9Z" fill="url(#m320)" stroke="url(#m320)"/>
<path d="M1028.2 270.9L1057.0 256.3L1085.8 241.7L1114.7 227.2L1143.5 212.6L1172.3 198.1L1201.2 183.5L1230.0 169.0L1258.8 154.4L1264.3 156.4L1235.5 171.1L1206.7 185.7L1177.9 200.3L1149.0 215.0L1120.2 229.6L1091.4 244.2L1062.6 258.9L1033.8 273.5Z" fill="#8000da" stroke="#8000da"/>
<path d="M1033.8 273.5L1062.6 258.9L1091.4 244.2L1120.2 229.6L1149.0 215.0L1177.9 200.3L1206.7 185.7L1235.5 171.1L1264.3 156.4L1269.7 158.3L1240.9 173.1L1212.1 187.8L1183.4 202.5L1154.6 217.2L1125.8 231.9L1097.0 246.6L1068.3 261.4L1039.5 276.1Z" fill="url(#m321)" stroke="url(#m321)"/>
<path d="M1039.5 276.1L1068.3 261.4L1097.0 246.6L1125.8 231.9L1154.6 217.2L1183.4 202.5L1212.1 187.8L1240.9 173.1L1269.7 158.3L1275.1 160.1L1246.4 174.9L1217.6 189.7L1188.9 204.5L1160.1 219.3L1131.4 234.1L1102.6 248.8L1073.9 263.6L1045.1 278.4Z" fill="url(#m322)" stroke="url(#m322)"/>
<path d="M1045.1 278.4L1073.9 263.6L1102.6 248.8L1131.4 234.1L1160.1 219.3L1188.9 204.5L1217.6 189.7L1246.4 174.9L1275.1 160.1L1280.6 161.9L1251.8 176.7L1223.1 191.5L1194.4 206.3L1165.7 221.2L1136.9 236.0L1108.2 250.8L1079.5 265.6L1050.8 280.5Z" fill="url(#m323)" stroke="url(#m323)"/>
<path d="M1050.8 280.5L1079.5 265.6L1108.2 250.8L1136.9 236.0L1165.7 221.2L1194.4 206.3L1223.1 191.5L1251.8 176.7L1280.6 161.9L1286.0 163.5L1257.3 178.4L1228.6 193.3L1199.9 208.1L1171.2 223.0L1142.5 237.9L1113.8 252.8L1085.1 267.6L1056.4 282.5Z" fill="url(#m324)" stroke="url(#m324)"/>
</g>
<line x1="783.6" y1="398.0" x2="772.8" y2="185.2" stroke="#c4c4c4" stroke-width="0.9" stroke-dasharray="6 3" opacity="0.85"/>
<line x1="786.1" y1="398.0" x2="775.3" y2="187.2" stroke="#c4c4c4" stroke-width="0.9" stroke-dasharray="6 3" stroke-dashoffset="4" opacity="0.85"/>
<line x1="1273.3" y1="378.2" x2="1285.1" y2="166.5" stroke="#a6a6a6" stroke-width="2.5" stroke-dasharray="3.2 2"/>
<defs><linearGradient id="cb" gradientUnits="userSpaceOnUse" x1="0" y1="373.4" x2="0" y2="72.7">
<stop offset="0.0000" stop-color="#6e006e"/>
<stop offset="0.0125" stop-color="#790082"/>
<stop offset="0.0250" stop-color="#810095"/>
<stop offset="0.0375" stop-color="#8500a8"/>
<stop offset="0.0500" stop-color="#8700ba"/>
<stop offset="0.0625" stop-color="#8400cc"/>
<stop offset="0.0750" stop-color="#7f00dd"/>
<stop offset="0.0875" stop-color="#7600ee"/>
<stop offset="0.1000" stop-color="#6a00ff"/>
<stop offset="0.1125" stop-color="#5400ff"/>
<stop offset="0.1250" stop-color="#3d00ff"/>
<stop offset="0.1375" stop-color="#2300ff"/>
<stop offset="0.1500" stop-color="#0000ff"/>
<stop offset="0.1625" stop-color="#0028ff"/>
<stop offset="0.1750" stop-color="#0046ff"/>
<stop offset="0.1875" stop-color="#0061ff"/>
<stop offset="0.2000" stop-color="#007bff"/>
<stop offset="0.2125" stop-color="#0092ff"/>
<stop offset="0.2250" stop-color="#00a9ff"/>
<stop offset="0.2375" stop-color="#00c0ff"/>
<stop offset="0.2500" stop-color="#00d5ff"/>
<stop offset="0.2625" stop-color="#00eaff"/>
<stop offset="0.2750" stop-color="#00ffff"/>
<stop offset="0.2875" stop-color="#00ffcb"/>
<stop offset="0.3000" stop-color="#00ff92"/>
<stop offset="0.3125" stop-color="#00ff54"/>
<stop offset="0.3250" stop-color="#00ff00"/>
<stop offset="0.3375" stop-color="#1fff00"/>
<stop offset="0.3500" stop-color="#36ff00"/>
<stop offset="0.3625" stop-color="#4aff00"/>
<stop offset="0.3750" stop-color="#5eff00"/>
<stop offset="0.3875" stop-color="#70ff00"/>
<stop offset="0.4000" stop-color="#81ff00"/>
<stop offset="0.4125" stop-color="#92ff00"/>
<stop offset="0.4250" stop-color="#a3ff00"/>
<stop offset="0.4375" stop-color="#b3ff00"/>
<stop offset="0.4500" stop-color="#c3ff00"/>
<stop offset="0.4625" stop-color="#d2ff00"/>
<stop offset="0.4750" stop-color="#e1ff00"/>
<stop offset="0.4875" stop-color="#f0ff00"/>
<stop offset="0.5000" stop-color="#ffff00"/>
<stop offset="0.5125" stop-color="#ffef00"/>
<stop offset="0.5250" stop-color="#ffdf00"/>
<stop offset="0.5375" stop-color="#ffcf00"/>
<stop offset="0.5500" stop-color="#ffbe00"/>
<stop offset="0.5625" stop-color="#ffad00"/>
<stop offset="0.5750" stop-color="#ff9b00"/>
<stop offset="0.5875" stop-color="#ff8900"/>
<stop offset="0.6000" stop-color="#ff7700"/>
<stop offset="0.6125" stop-color="#ff6300"/>
<stop offset="0.6250" stop-color="#ff4f00"/>
<stop offset="0.6375" stop-color="#ff3900"/>
<stop offset="0.6500" stop-color="#ff2100"/>
<stop offset="0.6625" stop-color="#ff0000"/>
<stop offset="0.6750" stop-color="#ff0000"/>
<stop offset="0.6875" stop-color="#ff0000"/>
<stop offset="0.7000" stop-color="#ff0000"/>
<stop offset="0.7125" stop-color="#ff0000"/>
<stop offset="0.7250" stop-color="#ff0000"/>
<stop offset="0.7375" stop-color="#ff0000"/>
<stop offset="0.7500" stop-color="#ff0000"/>
<stop offset="0.7625" stop-color="#ff0000"/>
<stop offset="0.7750" stop-color="#ff0000"/>
<stop offset="0.7875" stop-color="#ff0000"/>
<stop offset="0.8000" stop-color="#ff0000"/>
<stop offset="0.8125" stop-color="#f80000"/>
<stop offset="0.8250" stop-color="#f00000"/>
<stop offset="0.8375" stop-color="#e90000"/>
<stop offset="0.8500" stop-color="#e10000"/>
<stop offset="0.8625" stop-color="#da0000"/>
<stop offset="0.8750" stop-color="#d20000"/>
<stop offset="0.8875" stop-color="#cb0000"/>
<stop offset="0.9000" stop-color="#c30000"/>
<stop offset="0.9125" stop-color="#bb0000"/>
<stop offset="0.9250" stop-color="#b30000"/>
<stop offset="0.9375" stop-color="#ab0000"/>
<stop offset="0.9500" stop-color="#a30000"/>
<stop offset="0.9625" stop-color="#9b0000"/>
<stop offset="0.9750" stop-color="#930000"/>
<stop offset="0.9875" stop-color="#8a0000"/>
<stop offset="1.0000" stop-color="#820000"/>
</linearGradient></defs>
<rect x="1319.2" y="72.7" width="28.9" height="300.7" fill="url(#cb)"/>
<line x1="785.2" y1="399.0" x2="1058.4" y2="519.5" stroke="#f0f0f0" stroke-width="1.0" stroke-dasharray="1.3 3.1" opacity="0.9"/>
<line x1="1058.4" y1="519.5" x2="1273.0" y2="378.2" stroke="#f0f0f0" stroke-width="1.0" stroke-dasharray="1.3 3.1" opacity="0.9"/>
<line x1="785.2" y1="399.0" x2="1012.9" y2="283.0" stroke="#e0d0ff" stroke-width="0.7" stroke-dasharray="1.2 2.5" opacity="0.5"/>
<line x1="1012.9" y1="283.0" x2="1273.0" y2="378.2" stroke="#e0d0ff" stroke-width="0.7" stroke-dasharray="1.2 2.5" opacity="0.5"/>
<line x1="796.9" y1="404.2" x2="791.5" y2="407.8" stroke="#c8c8c8" stroke-width="1.1" stroke-dasharray="2 1"/>
<line x1="840.9" y1="423.6" x2="835.5" y2="427.2" stroke="#c8c8c8" stroke-width="1.1" stroke-dasharray="2 1"/>
<line x1="885.5" y1="443.2" x2="880.0" y2="446.8" stroke="#c8c8c8" stroke-width="1.1" stroke-dasharray="2 1"/>
<line x1="931.4" y1="463.5" x2="925.9" y2="467.0" stroke="#c8c8c8" stroke-width="1.1" stroke-dasharray="2 1"/>
<line x1="978.9" y1="484.4" x2="973.5" y2="488.0" stroke="#c8c8c8" stroke-width="1.1" stroke-dasharray="2 1"/>
<line x1="1030.0" y1="507.0" x2="1024.6" y2="510.5" stroke="#c8c8c8" stroke-width="1.1" stroke-dasharray="2 1"/>
<line x1="1058.4" y1="519.5" x2="1053.0" y2="523.1" stroke="#c8c8c8" stroke-width="1.1" stroke-dasharray="2 1"/>
<line x1="1072.6" y1="510.2" x2="1075.8" y2="511.6" stroke="#c8c8c8" stroke-width="1.0" stroke-dasharray="2 1"/>
<line x1="1087.8" y1="500.1" x2="1092.8" y2="502.4" stroke="#c8c8c8" stroke-width="1.0" stroke-dasharray="2 1"/>
<line x1="1099.2" y1="492.7" x2="1102.4" y2="494.1" stroke="#c8c8c8" stroke-width="1.0" stroke-dasharray="2 1"/>
<line x1="1114.2" y1="482.8" x2="1119.2" y2="485.0" stroke="#c8c8c8" stroke-width="1.0" stroke-dasharray="2 1"/>
<line x1="1124.3" y1="476.1" x2="1127.5" y2="477.5" stroke="#c8c8c8" stroke-width="1.0" stroke-dasharray="2 1"/>
<line x1="1139.5" y1="466.1" x2="1144.6" y2="468.3" stroke="#c8c8c8" stroke-width="1.0" stroke-dasharray="2 1"/>
<line x1="1149.2" y1="459.7" x2="1152.4" y2="461.1" stroke="#c8c8c8" stroke-width="1.0" stroke-dasharray="2 1"/>
<line x1="1164.4" y1="449.7" x2="1169.4" y2="451.9" stroke="#c8c8c8" stroke-width="1.0" stroke-dasharray="2 1"/>
<line x1="1174.3" y1="443.2" x2="1177.5" y2="444.6" stroke="#c8c8c8" stroke-width="1.0" stroke-dasharray="2 1"/>
<line x1="1187.2" y1="434.7" x2="1192.2" y2="436.9" stroke="#c8c8c8" stroke-width="1.0" stroke-dasharray="2 1"/>
<line x1="1197.2" y1="428.1" x2="1200.4" y2="429.5" stroke="#c8c8c8" stroke-width="1.0" stroke-dasharray="2 1"/>
<line x1="1211.6" y1="418.6" x2="1216.7" y2="420.8" stroke="#c8c8c8" stroke-width="1.0" stroke-dasharray="2 1"/>
<line x1="1220.4" y1="412.8" x2="1223.6" y2="414.2" stroke="#c8c8c8" stroke-width="1.0" stroke-dasharray="2 1"/>
<line x1="1234.4" y1="403.6" x2="1239.4" y2="405.9" stroke="#c8c8c8" stroke-width="1.0" stroke-dasharray="2 1"/>
<line x1="1243.6" y1="397.6" x2="1246.8" y2="399.0" stroke="#c8c8c8" stroke-width="1.0" stroke-dasharray="2 1"/>
<line x1="1255.8" y1="389.5" x2="1260.9" y2="391.7" stroke="#c8c8c8" stroke-width="1.0" stroke-dasharray="2 1"/>
<line x1="1265.1" y1="383.4" x2="1268.3" y2="384.8" stroke="#c8c8c8" stroke-width="1.0" stroke-dasharray="2 1"/>
<line x1="1273.0" y1="378.2" x2="1278.0" y2="380.4" stroke="#c8c8c8" stroke-width="1.0" stroke-dasharray="2 1"/>
<line x1="1056.4" y1="282.5" x2="1286.0" y2="163.5" stroke="#f0d8ff" stroke-width="0.8" opacity="0.75"/>
<line x1="774.4" y1="183.2" x2="879.6" y2="141.8" stroke="#f0e0ff" stroke-width="0.8" stroke-dasharray="1.2 2" opacity="0.7"/>
<polyline points="1069.2,8.9 1073.0,10.0 1076.7,11.8 1080.5,14.1 1084.2,17.5 1087.9,21.7 1091.6,26.0 1095.3,30.4 1099.0,34.2 1102.8,37.8 1106.4,41.8 1110.1,46.4 1113.8,51.2 1117.5,56.0 1121.1,60.9 1124.7,65.9 1128.4,70.8 1132.0,75.2 1135.7,79.4 1139.4,82.4 1143.1,83.9 1146.8,85.2 1150.5,86.6 1154.2,89.3 1157.8,92.9 1161.5,96.6 1165.1,100.3 1168.7,103.7 1172.4,106.9 1176.0,109.9 1179.7,112.7 1183.3,115.4 1187.0,118.1 1190.6,120.7 1194.3,123.0 1197.9,125.1 1201.6,127.1 1205.2,129.1 1208.9,131.2 1212.6,133.2 1216.2,135.2 1219.9,137.1 1223.5,139.0 1227.2,140.7 1230.9,142.5 1234.5,144.2 1238.2,145.9 1241.9,147.5 1245.5,149.1 1249.2,150.6 1252.9,152.1 1256.5,153.6 1260.2,155.0 1263.9,156.3 1267.6,157.6 1271.3,158.9 1274.9,160.1 1278.6,161.3 1282.3,162.4 1286.0,163.5" fill="none" stroke="#fff" stroke-width="0.8" stroke-dasharray="1.2 2.4" opacity="0.6"/>
<polyline points="823.9,75.6 830.2,73.4 836.5,71.2 842.8,69.0 849.0,66.8 855.3,64.6 861.6,62.4 867.8,60.2 874.1,58.0 880.4,55.8 886.7,53.6 892.9,51.3 899.2,49.2 905.5,47.3 911.7,45.6 918.0,44.2 924.3,42.9 930.6,41.7 936.8,40.3 943.1,38.8 949.4,37.1 955.6,35.3 961.9,33.4 968.1,31.5 974.4,29.5 980.6,27.7 986.9,25.9 993.1,24.2 999.4,22.8 1005.6,21.6 1011.8,20.5 1018.1,19.5 1024.3,18.4 1030.5,17.1 1036.7,15.8 1043.0,14.4 1049.2,13.0 1055.4,11.5 1061.6,10.1 1067.8,8.5" fill="none" stroke="#fff" stroke-width="0.8" stroke-dasharray="1.2 2.4" opacity="0.55"/>
<polyline points="774.4,183.2 775.7,182.5 777.0,181.4 778.3,179.9 779.5,178.2 780.8,176.2 782.0,173.7 783.2,170.5 784.4,167.0 785.6,163.3 786.7,159.2 787.9,154.7 789.0,150.2 790.1,145.8 791.3,141.2 792.4,136.7 793.6,132.3 794.7,128.0 795.9,123.7 797.1,119.6 798.2,115.6 799.4,111.7 800.6,108.0 801.8,104.5 803.0,101.1 804.3,97.8 805.5,94.8 806.7,92.0 808.0,89.3 809.2,86.8 810.5,84.7 811.8,82.9 813.1,81.4 814.4,80.1 815.8,78.9 817.1,77.9 818.4,77.1 819.8,76.6 821.2,76.0 822.5,75.7" fill="none" stroke="#fff" stroke-width="0.8" stroke-dasharray="1.2 2.4" opacity="0.5"/>
<polyline points="942.8,214.0 945.8,217.2 948.7,219.8 951.7,222.1 954.6,224.5 957.6,227.0 960.5,229.5 963.4,231.8 966.3,234.1 969.3,236.2 972.2,238.3 975.1,240.4 978.0,242.5 981.0,244.6 983.9,246.6 986.8,248.5 989.7,250.3 992.6,252.0 995.5,253.7 998.4,255.4 1001.3,257.0 1004.2,258.6 1007.1,260.2 1010.0,261.7 1012.9,263.1 1015.8,264.6 1018.8,266.1 1021.7,267.6 1024.6,269.0 1027.5,270.5 1030.3,271.9 1033.2,273.2 1036.1,274.6 1039.0,275.9 1041.9,277.1 1044.8,278.3 1047.7,279.4 1050.6,280.4 1053.5,281.5 1056.4,282.5" fill="none" stroke="#fff" stroke-width="0.8" stroke-dasharray="1.2 2.4" opacity="0.5"/>
</svg></body></html>
